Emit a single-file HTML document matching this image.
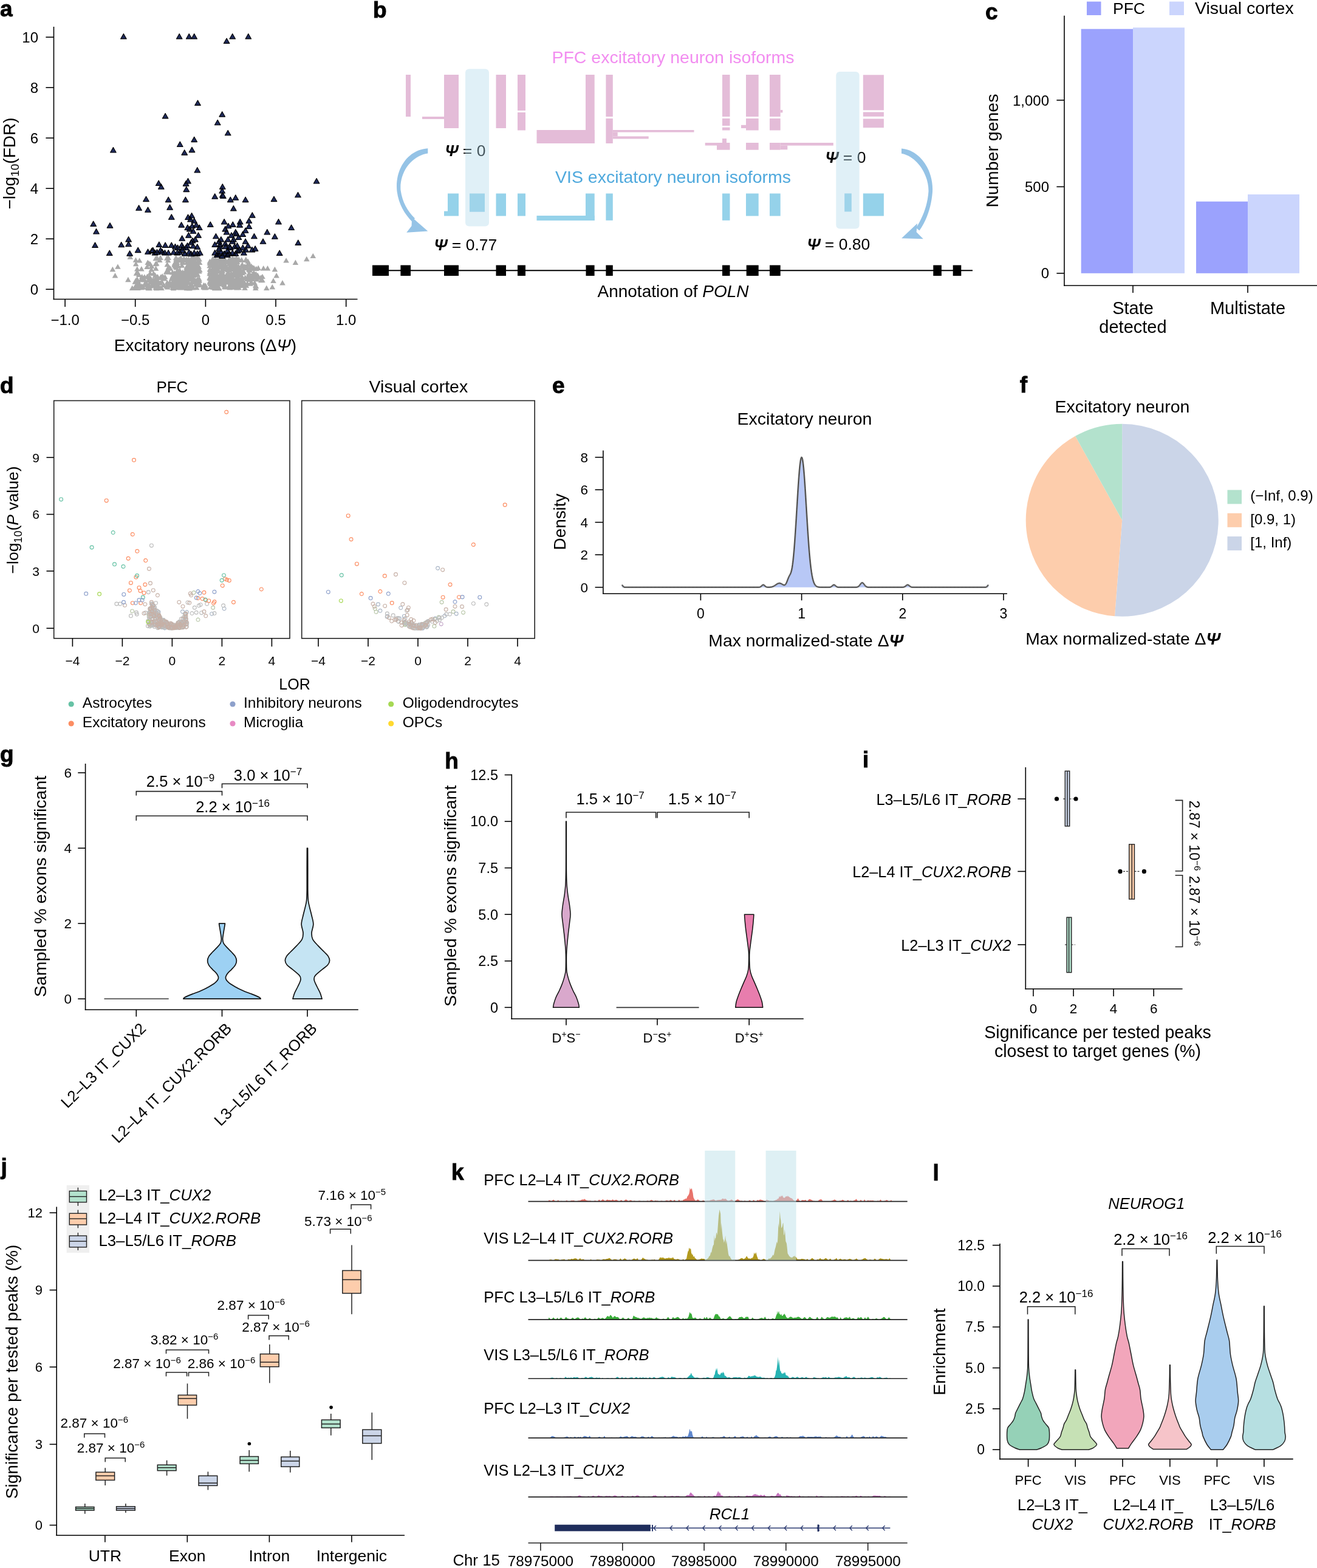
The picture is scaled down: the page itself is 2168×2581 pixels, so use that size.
<!DOCTYPE html>
<html><head><meta charset="utf-8"><title>Figure</title>
<style>
html,body{margin:0;padding:0;background:#fff;}
svg{display:block;}
text{font-family:"Liberation Sans",Arial,Helvetica,sans-serif;}
</style></head>
<body>
<svg width="2168" height="2581" viewBox="0 0 2168 2581">
<rect width="2168" height="2581" fill="#fff"/>
<text x="0.0" y="27.0" font-size="37" font-weight="bold" stroke="#000" stroke-width="0.9">a</text>
<line x1="88.5" y1="44.0" x2="88.5" y2="493.2" stroke="#000" stroke-width="1.6"/>
<line x1="87.7" y1="492.5" x2="588.5" y2="492.5" stroke="#000" stroke-width="1.6"/>
<line x1="75.4" y1="476.2" x2="88.5" y2="476.2" stroke="#000" stroke-width="1.6"/>
<text x="63.0" y="484.8" font-size="24" text-anchor="end">0</text>
<line x1="75.4" y1="393.2" x2="88.5" y2="393.2" stroke="#000" stroke-width="1.6"/>
<text x="63.0" y="401.8" font-size="24" text-anchor="end">2</text>
<line x1="75.4" y1="310.2" x2="88.5" y2="310.2" stroke="#000" stroke-width="1.6"/>
<text x="63.0" y="318.8" font-size="24" text-anchor="end">4</text>
<line x1="75.4" y1="227.2" x2="88.5" y2="227.2" stroke="#000" stroke-width="1.6"/>
<text x="63.0" y="235.8" font-size="24" text-anchor="end">6</text>
<line x1="75.4" y1="144.2" x2="88.5" y2="144.2" stroke="#000" stroke-width="1.6"/>
<text x="63.0" y="152.8" font-size="24" text-anchor="end">8</text>
<line x1="75.4" y1="61.2" x2="88.5" y2="61.2" stroke="#000" stroke-width="1.6"/>
<text x="63.0" y="69.8" font-size="24" text-anchor="end">10</text>
<line x1="107.1" y1="492.5" x2="107.1" y2="505.0" stroke="#000" stroke-width="1.6"/>
<text x="107.1" y="535.0" font-size="24" text-anchor="middle">−1.0</text>
<line x1="222.7" y1="492.5" x2="222.7" y2="505.0" stroke="#000" stroke-width="1.6"/>
<text x="222.7" y="535.0" font-size="24" text-anchor="middle">−0.5</text>
<line x1="338.4" y1="492.5" x2="338.4" y2="505.0" stroke="#000" stroke-width="1.6"/>
<text x="338.4" y="535.0" font-size="24" text-anchor="middle">0</text>
<line x1="454.0" y1="492.5" x2="454.0" y2="505.0" stroke="#000" stroke-width="1.6"/>
<text x="454.0" y="535.0" font-size="24" text-anchor="middle">0.5</text>
<line x1="569.7" y1="492.5" x2="569.7" y2="505.0" stroke="#000" stroke-width="1.6"/>
<text x="569.7" y="535.0" font-size="24" text-anchor="middle">1.0</text>
<text x="338.0" y="578.0" font-size="28" text-anchor="middle">Excitatory neurons (Δ<tspan font-style="italic">Ψ</tspan>)</text>
<text x="24.5" y="269.0" font-size="28" text-anchor="middle" transform="rotate(-90 24.5 269.0)">−log<tspan dy="6" font-size="19">10</tspan><tspan dy="-6">(FDR)</tspan></text>
<path fill="#a9a9a9" d="M243.0,468.3L247.8,476.7L238.2,476.7ZM264.3,469.5L269.1,477.9L259.5,477.9ZM256.8,461.6L261.6,470.0L252.0,470.0ZM225.8,454.9L230.6,463.3L221.0,463.3ZM224.4,458.6L229.2,467.0L219.6,467.0ZM226.5,469.3L231.3,477.7L221.7,477.7ZM249.6,433.7L254.4,442.1L244.8,442.1ZM230.0,466.5L234.8,474.9L225.2,474.9ZM262.8,423.7L267.6,432.1L258.0,432.1ZM259.5,460.3L264.3,468.7L254.7,468.7ZM285.5,469.8L290.3,478.2L280.7,478.2ZM277.8,464.5L282.6,472.9L273.0,472.9ZM231.4,468.9L236.2,477.3L226.6,477.3ZM242.1,434.6L246.9,443.0L237.3,443.0ZM233.7,450.7L238.5,459.1L228.9,459.1ZM263.5,461.3L268.3,469.7L258.7,469.7ZM257.6,469.6L262.4,478.0L252.8,478.0ZM225.9,467.0L230.7,475.4L221.1,475.4ZM266.2,458.9L271.0,467.3L261.4,467.3ZM242.4,450.5L247.2,458.9L237.6,458.9ZM251.5,464.1L256.3,472.5L246.7,472.5ZM273.6,443.2L278.4,451.6L268.8,451.6ZM237.9,451.2L242.7,459.6L233.1,459.6ZM256.1,429.8L260.9,438.2L251.3,438.2ZM269.4,464.5L274.2,472.9L264.6,472.9ZM285.7,468.9L290.5,477.3L280.9,477.3ZM249.2,439.1L254.0,447.5L244.4,447.5ZM231.9,455.9L236.7,464.3L227.1,464.3ZM224.5,445.3L229.3,453.7L219.7,453.7ZM271.7,451.2L276.5,459.6L266.9,459.6ZM278.9,463.6L283.7,472.0L274.1,472.0ZM267.2,450.0L272.0,458.4L262.4,458.4ZM259.7,457.5L264.5,465.9L254.9,465.9ZM276.6,423.9L281.4,432.3L271.8,432.3ZM252.8,445.5L257.6,453.9L248.0,453.9ZM225.9,443.0L230.7,451.4L221.1,451.4ZM264.1,419.6L268.9,428.0L259.3,428.0ZM275.4,464.6L280.2,473.0L270.6,473.0ZM247.1,445.2L251.9,453.6L242.3,453.6ZM223.5,457.3L228.3,465.7L218.7,465.7ZM232.9,468.9L237.7,477.3L228.1,477.3ZM225.8,438.2L230.6,446.6L221.0,446.6ZM230.4,465.8L235.2,474.2L225.6,474.2ZM247.4,430.2L252.2,438.6L242.6,438.6ZM227.2,457.9L232.0,466.3L222.4,466.3ZM257.7,429.2L262.5,437.6L252.9,437.6ZM275.3,430.8L280.1,439.2L270.5,439.2ZM240.1,459.5L244.9,467.9L235.3,467.9ZM245.3,429.1L250.1,437.5L240.5,437.5ZM284.3,468.3L289.1,476.7L279.5,476.7ZM233.5,466.3L238.3,474.7L228.7,474.7ZM237.2,456.1L242.0,464.5L232.4,464.5ZM260.3,465.4L265.1,473.8L255.5,473.8ZM222.3,459.3L227.1,467.7L217.5,467.7ZM246.0,451.6L250.8,460.0L241.2,460.0ZM284.0,443.8L288.8,452.2L279.2,452.2ZM255.5,448.5L260.3,456.9L250.7,456.9ZM266.0,469.7L270.8,478.1L261.2,478.1ZM280.5,437.4L285.3,445.8L275.7,445.8ZM278.8,436.0L283.6,444.4L274.0,444.4ZM247.5,460.2L252.3,468.6L242.7,468.6ZM228.7,447.5L233.5,455.9L223.9,455.9ZM226.0,469.6L230.8,478.0L221.2,478.0ZM235.6,468.0L240.4,476.4L230.8,476.4ZM244.1,469.7L248.9,478.1L239.3,478.1ZM222.0,468.3L226.8,476.7L217.2,476.7ZM228.6,461.7L233.4,470.1L223.8,470.1ZM223.7,429.9L228.5,438.3L218.9,438.3ZM261.9,468.3L266.7,476.7L257.1,476.7ZM238.4,462.4L243.2,470.8L233.6,470.8ZM245.7,468.8L250.5,477.2L240.9,477.2ZM277.2,419.6L282.0,428.0L272.4,428.0ZM252.3,456.2L257.1,464.6L247.5,464.6ZM227.6,469.1L232.4,477.5L222.8,477.5ZM244.3,465.3L249.1,473.7L239.5,473.7ZM275.9,468.0L280.7,476.4L271.1,476.4ZM223.5,423.4L228.3,431.8L218.7,431.8ZM256.3,468.4L261.1,476.8L251.5,476.8ZM257.3,469.9L262.1,478.3L252.5,478.3ZM256.3,420.9L261.1,429.3L251.5,429.3ZM278.1,443.4L282.9,451.8L273.3,451.8ZM239.0,461.6L243.8,470.0L234.2,470.0ZM232.9,438.0L237.7,446.4L228.1,446.4ZM256.6,437.4L261.4,445.8L251.8,445.8ZM243.4,466.5L248.2,474.9L238.6,474.9ZM274.7,420.3L279.5,428.7L269.9,428.7ZM277.4,435.4L282.2,443.8L272.6,443.8ZM275.2,440.3L280.0,448.7L270.4,448.7ZM236.7,454.4L241.5,462.8L231.9,462.8ZM245.1,469.9L249.9,478.3L240.3,478.3ZM241.3,464.4L246.1,472.8L236.5,472.8ZM252.2,456.1L257.0,464.5L247.4,464.5ZM285.0,461.0L289.8,469.4L280.2,469.4ZM284.0,450.2L288.8,458.6L279.2,458.6ZM284.9,462.7L289.7,471.1L280.1,471.1ZM250.4,465.4L255.2,473.8L245.6,473.8ZM249.2,465.9L254.0,474.3L244.4,474.3ZM269.3,452.0L274.1,460.4L264.5,460.4ZM279.5,460.4L284.3,468.8L274.7,468.8ZM270.7,454.0L275.5,462.4L265.9,462.4ZM244.0,456.7L248.8,465.1L239.2,465.1ZM282.8,454.3L287.6,462.7L278.0,462.7ZM275.3,460.4L280.1,468.8L270.5,468.8ZM248.4,454.2L253.2,462.6L243.6,462.6ZM255.6,453.9L260.4,462.3L250.8,462.3ZM285.7,462.0L290.5,470.4L280.9,470.4ZM258.9,451.0L263.7,459.4L254.1,459.4ZM274.1,466.6L278.9,475.0L269.3,475.0ZM246.0,466.9L250.8,475.3L241.2,475.3ZM282.5,453.8L287.3,462.2L277.7,462.2ZM246.9,453.4L251.7,461.8L242.1,461.8ZM286.1,456.8L290.9,465.2L281.3,465.2ZM256.5,459.0L261.3,467.4L251.7,467.4ZM246.2,469.7L251.0,478.1L241.4,478.1ZM285.6,457.0L290.4,465.4L280.8,465.4ZM264.7,451.3L269.5,459.7L259.9,459.7ZM260.4,452.5L265.2,460.9L255.6,460.9ZM278.8,465.7L283.6,474.1L274.0,474.1ZM251.8,464.1L256.6,472.5L247.0,472.5ZM251.3,458.2L256.1,466.6L246.5,466.6ZM252.2,461.6L257.0,470.0L247.4,470.0ZM246.2,451.8L251.0,460.2L241.4,460.2ZM256.6,460.8L261.4,469.2L251.8,469.2ZM267.4,451.9L272.2,460.3L262.6,460.3ZM259.8,451.6L264.6,460.0L255.0,460.0ZM308.1,442.8L312.9,451.2L303.3,451.2ZM309.0,469.0L313.8,477.4L304.2,477.4ZM305.5,460.6L310.3,469.0L300.7,469.0ZM287.2,429.2L292.0,437.6L282.4,437.6ZM294.2,445.8L299.0,454.2L289.4,454.2ZM317.5,441.6L322.3,450.0L312.7,450.0ZM300.7,443.5L305.5,451.9L295.9,451.9ZM310.3,430.0L315.1,438.4L305.5,438.4ZM291.5,441.4L296.3,449.8L286.7,449.8ZM297.4,455.8L302.2,464.2L292.6,464.2ZM319.4,444.1L324.2,452.5L314.6,452.5ZM310.6,431.2L315.4,439.6L305.8,439.6ZM325.3,447.4L330.1,455.8L320.5,455.8ZM312.7,444.2L317.5,452.6L307.9,452.6ZM308.5,434.6L313.3,443.0L303.7,443.0ZM306.0,442.8L310.8,451.2L301.2,451.2ZM307.1,421.9L311.9,430.3L302.3,430.3ZM316.4,425.3L321.2,433.7L311.6,433.7ZM326.6,456.7L331.4,465.1L321.8,465.1ZM310.5,421.9L315.3,430.3L305.7,430.3ZM322.3,463.0L327.1,471.4L317.5,471.4ZM292.1,447.4L296.9,455.8L287.3,455.8ZM290.0,457.7L294.8,466.1L285.2,466.1ZM290.1,435.8L294.9,444.2L285.3,444.2ZM319.9,424.2L324.7,432.6L315.1,432.6ZM293.5,433.4L298.3,441.8L288.7,441.8ZM314.7,462.7L319.5,471.1L309.9,471.1ZM324.1,420.6L328.9,429.0L319.3,429.0ZM296.2,421.4L301.0,429.8L291.4,429.8ZM303.7,445.1L308.5,453.5L298.9,453.5ZM328.6,427.5L333.4,435.9L323.8,435.9ZM293.8,448.0L298.6,456.4L289.0,456.4ZM308.7,452.7L313.5,461.1L303.9,461.1ZM295.2,453.7L300.0,462.1L290.4,462.1ZM317.3,469.0L322.1,477.4L312.5,477.4ZM310.3,447.5L315.1,455.9L305.5,455.9ZM287.8,453.1L292.6,461.5L283.0,461.5ZM313.2,443.8L318.0,452.2L308.4,452.2ZM289.7,419.7L294.5,428.1L284.9,428.1ZM320.1,420.4L324.9,428.8L315.3,428.8ZM291.4,456.4L296.2,464.8L286.6,464.8ZM288.7,430.2L293.5,438.6L283.9,438.6ZM298.4,463.4L303.2,471.8L293.6,471.8ZM304.7,423.5L309.5,431.9L299.9,431.9ZM321.4,456.8L326.2,465.2L316.6,465.2ZM293.3,423.1L298.1,431.5L288.5,431.5ZM311.0,434.2L315.8,442.6L306.2,442.6ZM290.8,467.0L295.6,475.4L286.0,475.4ZM315.9,448.3L320.7,456.7L311.1,456.7ZM290.0,422.1L294.8,430.5L285.2,430.5ZM313.6,429.1L318.4,437.5L308.8,437.5ZM290.5,426.3L295.3,434.7L285.7,434.7ZM289.8,426.0L294.6,434.4L285.0,434.4ZM306.1,452.7L310.9,461.1L301.3,461.1ZM310.2,422.7L315.0,431.1L305.4,431.1ZM298.3,463.4L303.1,471.8L293.5,471.8ZM309.1,457.8L313.9,466.2L304.3,466.2ZM291.6,461.7L296.4,470.1L286.8,470.1ZM289.1,459.7L293.9,468.1L284.3,468.1ZM300.1,454.4L304.9,462.8L295.3,462.8ZM318.9,455.2L323.7,463.6L314.1,463.6ZM308.0,460.9L312.8,469.3L303.2,469.3ZM301.6,469.0L306.4,477.4L296.8,477.4ZM297.5,469.2L302.3,477.6L292.7,477.6ZM317.8,441.9L322.6,450.3L313.0,450.3ZM295.0,445.7L299.8,454.1L290.2,454.1ZM326.3,464.5L331.1,472.9L321.5,472.9ZM321.4,447.9L326.2,456.3L316.6,456.3ZM307.8,427.4L312.6,435.8L303.0,435.8ZM303.5,444.1L308.3,452.5L298.7,452.5ZM315.9,419.9L320.7,428.3L311.1,428.3ZM301.4,427.5L306.2,435.9L296.6,435.9ZM316.7,437.5L321.5,445.9L311.9,445.9ZM304.0,452.2L308.8,460.6L299.2,460.6ZM289.3,463.3L294.1,471.7L284.5,471.7ZM290.0,432.2L294.8,440.6L285.2,440.6ZM297.7,461.6L302.5,470.0L292.9,470.0ZM290.5,427.1L295.3,435.5L285.7,435.5ZM323.6,435.8L328.4,444.2L318.8,444.2ZM298.8,457.6L303.6,466.0L294.0,466.0ZM299.3,446.5L304.1,454.9L294.5,454.9ZM293.6,447.2L298.4,455.6L288.8,455.6ZM298.1,420.9L302.9,429.3L293.3,429.3ZM327.9,442.1L332.7,450.5L323.1,450.5ZM297.3,420.7L302.1,429.1L292.5,429.1ZM300.0,451.8L304.8,460.2L295.2,460.2ZM287.0,450.5L291.8,458.9L282.2,458.9ZM306.9,444.3L311.7,452.7L302.1,452.7ZM295.4,444.2L300.2,452.6L290.6,452.6ZM287.2,456.5L292.0,464.9L282.4,464.9ZM290.8,449.6L295.6,458.0L286.0,458.0ZM288.8,468.8L293.6,477.2L284.0,477.2ZM299.8,458.1L304.6,466.5L295.0,466.5ZM311.6,443.0L316.4,451.4L306.8,451.4ZM318.5,436.4L323.3,444.8L313.7,444.8ZM317.1,425.1L321.9,433.5L312.3,433.5ZM303.4,453.3L308.2,461.7L298.6,461.7ZM328.4,462.3L333.2,470.7L323.6,470.7ZM317.4,437.2L322.2,445.6L312.6,445.6ZM288.8,427.4L293.6,435.8L284.0,435.8ZM324.5,438.0L329.3,446.4L319.7,446.4ZM317.8,428.5L322.6,436.9L313.0,436.9ZM292.9,443.2L297.7,451.6L288.1,451.6ZM308.2,427.4L313.0,435.8L303.4,435.8ZM320.8,427.8L325.6,436.2L316.0,436.2ZM311.5,424.4L316.3,432.8L306.7,432.8ZM315.7,434.6L320.5,443.0L310.9,443.0ZM296.7,468.4L301.5,476.8L291.9,476.8ZM292.6,451.6L297.4,460.0L287.8,460.0ZM291.4,427.3L296.2,435.7L286.6,435.7ZM310.5,437.9L315.3,446.3L305.7,446.3ZM313.3,435.2L318.1,443.6L308.5,443.6ZM307.6,469.8L312.4,478.2L302.8,478.2ZM320.5,431.8L325.3,440.2L315.7,440.2ZM308.1,442.7L312.9,451.1L303.3,451.1ZM314.7,466.6L319.5,475.0L309.9,475.0ZM317.9,457.1L322.7,465.5L313.1,465.5ZM290.1,456.4L294.9,464.8L285.3,464.8ZM317.6,459.5L322.4,467.9L312.8,467.9ZM318.1,420.2L322.9,428.6L313.3,428.6ZM307.7,450.4L312.5,458.8L302.9,458.8ZM307.1,435.1L311.9,443.5L302.3,443.5ZM319.2,438.5L324.0,446.9L314.4,446.9ZM314.0,466.0L318.8,474.4L309.2,474.4ZM293.2,457.0L298.0,465.4L288.4,465.4ZM318.2,454.4L323.0,462.8L313.4,462.8ZM310.8,469.3L315.6,477.7L306.0,477.7ZM289.5,456.3L294.3,464.7L284.7,464.7ZM315.2,434.7L320.0,443.1L310.4,443.1ZM315.4,455.1L320.2,463.5L310.6,463.5ZM308.7,446.3L313.5,454.7L303.9,454.7ZM306.6,463.9L311.4,472.3L301.8,472.3ZM324.5,459.8L329.3,468.2L319.7,468.2ZM328.1,422.2L332.9,430.6L323.3,430.6ZM287.7,446.6L292.5,455.0L282.9,455.0ZM321.4,420.6L326.2,429.0L316.6,429.0ZM305.9,456.3L310.7,464.7L301.1,464.7ZM295.8,421.7L300.6,430.1L291.0,430.1ZM295.8,440.3L300.6,448.7L291.0,448.7ZM293.0,443.2L297.8,451.6L288.2,451.6ZM327.0,463.2L331.8,471.6L322.2,471.6ZM321.4,444.0L326.2,452.4L316.6,452.4ZM324.2,434.1L329.0,442.5L319.4,442.5ZM296.7,424.2L301.5,432.6L291.9,432.6ZM307.4,468.7L312.2,477.1L302.6,477.1ZM287.2,444.9L292.0,453.3L282.4,453.3ZM305.9,454.6L310.7,463.0L301.1,463.0ZM292.9,452.4L297.7,460.8L288.1,460.8ZM300.3,427.1L305.1,435.5L295.5,435.5ZM287.1,431.7L291.9,440.1L282.3,440.1ZM322.2,463.8L327.0,472.2L317.4,472.2ZM325.9,433.6L330.7,442.0L321.1,442.0ZM324.9,455.2L329.7,463.6L320.1,463.6ZM302.6,449.9L307.4,458.3L297.8,458.3ZM328.9,439.9L333.7,448.3L324.1,448.3ZM302.1,448.1L306.9,456.5L297.3,456.5ZM298.6,467.5L303.4,475.9L293.8,475.9ZM291.3,427.4L296.1,435.8L286.5,435.8ZM299.0,422.2L303.8,430.6L294.2,430.6ZM297.5,456.4L302.3,464.8L292.7,464.8ZM308.5,460.3L313.3,468.7L303.7,468.7ZM302.7,421.2L307.5,429.6L297.9,429.6ZM324.1,428.5L328.9,436.9L319.3,436.9ZM313.5,423.4L318.3,431.8L308.7,431.8ZM326.5,441.9L331.3,450.3L321.7,450.3ZM317.2,467.4L322.0,475.8L312.4,475.8ZM317.8,447.0L322.6,455.4L313.0,455.4ZM318.6,437.1L323.4,445.5L313.8,445.5ZM299.0,467.5L303.8,475.9L294.2,475.9ZM325.9,463.5L330.7,471.9L321.1,471.9ZM306.8,452.4L311.6,460.8L302.0,460.8ZM299.5,432.3L304.3,440.7L294.7,440.7ZM328.0,456.7L332.8,465.1L323.2,465.1ZM314.6,454.6L319.4,463.0L309.8,463.0ZM310.4,449.8L315.2,458.2L305.6,458.2ZM294.0,461.7L298.8,470.1L289.2,470.1ZM295.7,423.8L300.5,432.2L290.9,432.2ZM307.9,458.7L312.7,467.1L303.1,467.1ZM325.1,419.1L329.9,427.5L320.3,427.5ZM305.9,462.8L310.7,471.2L301.1,471.2ZM295.1,465.3L299.9,473.7L290.3,473.7ZM301.4,465.3L306.2,473.7L296.6,473.7ZM297.0,456.8L301.8,465.2L292.2,465.2ZM310.9,424.7L315.7,433.1L306.1,433.1ZM318.5,448.9L323.3,457.3L313.7,457.3ZM304.4,443.2L309.2,451.6L299.6,451.6ZM302.8,452.7L307.6,461.1L298.0,461.1ZM289.6,455.8L294.4,464.2L284.8,464.2ZM327.6,463.5L332.4,471.9L322.8,471.9ZM308.1,437.8L312.9,446.2L303.3,446.2ZM323.2,458.9L328.0,467.3L318.4,467.3ZM298.4,457.3L303.2,465.7L293.6,465.7ZM303.8,447.2L308.6,455.6L299.0,455.6ZM327.1,426.7L331.9,435.1L322.3,435.1ZM323.7,468.8L328.5,477.2L318.9,477.2ZM288.4,433.8L293.2,442.2L283.6,442.2ZM324.6,445.8L329.4,454.2L319.8,454.2ZM311.7,470.0L316.5,478.4L306.9,478.4ZM303.4,422.7L308.2,431.1L298.6,431.1ZM321.7,426.3L326.5,434.7L316.9,434.7ZM327.8,457.3L332.6,465.7L323.0,465.7ZM291.6,462.1L296.4,470.5L286.8,470.5ZM308.9,435.2L313.7,443.6L304.1,443.6ZM326.5,433.2L331.3,441.6L321.7,441.6ZM314.2,431.0L319.0,439.4L309.4,439.4ZM306.2,441.8L311.0,450.2L301.4,450.2ZM288.7,430.1L293.5,438.5L283.9,438.5ZM296.8,423.0L301.6,431.4L292.0,431.4ZM314.1,454.5L318.9,462.9L309.3,462.9ZM292.4,457.1L297.2,465.5L287.6,465.5ZM313.7,434.3L318.5,442.7L308.9,442.7ZM291.7,466.4L296.5,474.8L286.9,474.8ZM309.0,440.2L313.8,448.6L304.2,448.6ZM303.3,458.6L308.1,467.0L298.5,467.0ZM312.2,469.4L317.0,477.8L307.4,477.8ZM299.7,446.5L304.5,454.9L294.9,454.9ZM327.3,437.1L332.1,445.5L322.5,445.5ZM324.1,445.7L328.9,454.1L319.3,454.1ZM296.9,457.4L301.7,465.8L292.1,465.8ZM327.3,434.0L332.1,442.4L322.5,442.4ZM299.9,468.8L304.7,477.2L295.1,477.2ZM307.9,435.6L312.7,444.0L303.1,444.0ZM304.6,456.8L309.4,465.2L299.8,465.2ZM315.0,422.8L319.8,431.2L310.2,431.2ZM296.5,468.2L301.3,476.6L291.7,476.6ZM301.2,448.5L306.0,456.9L296.4,456.9ZM315.7,459.9L320.5,468.3L310.9,468.3ZM320.5,432.3L325.3,440.7L315.7,440.7ZM308.2,459.5L313.0,467.9L303.4,467.9ZM327.7,454.1L332.5,462.5L322.9,462.5ZM338.9,468.8L343.7,477.2L334.1,477.2ZM335.3,466.2L340.1,474.6L330.5,474.6ZM335.8,465.2L340.6,473.6L331.0,473.6ZM337.0,469.0L341.8,477.4L332.2,477.4ZM335.3,467.9L340.1,476.3L330.5,476.3ZM338.0,465.2L342.8,473.6L333.2,473.6ZM334.9,468.0L339.7,476.4L330.1,476.4ZM335.3,465.1L340.1,473.5L330.5,473.5ZM352.2,467.4L357.0,475.8L347.4,475.8ZM348.1,450.7L352.9,459.1L343.3,459.1ZM390.8,426.7L395.6,435.1L386.0,435.1ZM382.4,421.1L387.2,429.5L377.6,429.5ZM392.5,453.8L397.3,462.2L387.7,462.2ZM354.5,424.1L359.3,432.5L349.7,432.5ZM383.1,468.4L387.9,476.8L378.3,476.8ZM378.9,451.4L383.7,459.8L374.1,459.8ZM364.1,453.7L368.9,462.1L359.3,462.1ZM353.6,469.8L358.4,478.2L348.8,478.2ZM359.3,452.7L364.1,461.1L354.5,461.1ZM393.7,463.9L398.5,472.3L388.9,472.3ZM394.2,459.8L399.0,468.2L389.4,468.2ZM363.2,429.7L368.0,438.1L358.4,438.1ZM386.9,448.8L391.7,457.2L382.1,457.2ZM347.5,446.8L352.3,455.2L342.7,455.2ZM364.0,424.9L368.8,433.3L359.2,433.3ZM354.8,452.1L359.6,460.5L350.0,460.5ZM390.7,468.5L395.5,476.9L385.9,476.9ZM366.0,430.2L370.8,438.6L361.2,438.6ZM384.1,468.0L388.9,476.4L379.3,476.4ZM346.8,466.9L351.6,475.3L342.0,475.3ZM391.9,457.4L396.7,465.8L387.1,465.8ZM383.1,425.9L387.9,434.3L378.3,434.3ZM362.3,456.6L367.1,465.0L357.5,465.0ZM393.8,439.7L398.6,448.1L389.0,448.1ZM358.4,434.8L363.2,443.2L353.6,443.2ZM361.1,456.5L365.9,464.9L356.3,464.9ZM345.2,432.9L350.0,441.3L340.4,441.3ZM391.7,438.9L396.5,447.3L386.9,447.3ZM393.1,468.8L397.9,477.2L388.3,477.2ZM356.9,446.7L361.7,455.1L352.1,455.1ZM393.8,423.2L398.6,431.6L389.0,431.6ZM364.7,457.7L369.5,466.1L359.9,466.1ZM366.9,445.8L371.7,454.2L362.1,454.2ZM392.3,461.0L397.1,469.4L387.5,469.4ZM385.9,433.8L390.7,442.2L381.1,442.2ZM387.0,432.1L391.8,440.5L382.2,440.5ZM376.0,453.9L380.8,462.3L371.2,462.3ZM361.3,452.2L366.1,460.6L356.5,460.6ZM384.9,466.1L389.7,474.5L380.1,474.5ZM355.1,433.1L359.9,441.5L350.3,441.5ZM357.6,466.8L362.4,475.2L352.8,475.2ZM346.7,442.9L351.5,451.3L341.9,451.3ZM361.6,421.9L366.4,430.3L356.8,430.3ZM390.1,421.6L394.9,430.0L385.3,430.0ZM358.5,465.8L363.3,474.2L353.7,474.2ZM349.9,445.5L354.7,453.9L345.1,453.9ZM381.2,448.1L386.0,456.5L376.4,456.5ZM356.9,449.5L361.7,457.9L352.1,457.9ZM376.6,436.9L381.4,445.3L371.8,445.3ZM383.1,428.5L387.9,436.9L378.3,436.9ZM378.9,464.0L383.7,472.4L374.1,472.4ZM387.9,455.6L392.7,464.0L383.1,464.0ZM373.9,451.7L378.7,460.1L369.1,460.1ZM382.6,460.2L387.4,468.6L377.8,468.6ZM357.6,457.9L362.4,466.3L352.8,466.3ZM352.8,426.6L357.6,435.0L348.0,435.0ZM374.5,454.0L379.3,462.4L369.7,462.4ZM365.2,421.3L370.0,429.7L360.4,429.7ZM370.9,458.6L375.7,467.0L366.1,467.0ZM386.2,437.9L391.0,446.3L381.4,446.3ZM395.5,464.9L400.3,473.3L390.7,473.3ZM369.2,429.8L374.0,438.2L364.4,438.2ZM387.9,425.2L392.7,433.6L383.1,433.6ZM347.1,455.6L351.9,464.0L342.3,464.0ZM351.1,460.7L355.9,469.1L346.3,469.1ZM394.6,441.4L399.4,449.8L389.8,449.8ZM392.4,451.7L397.2,460.1L387.6,460.1ZM389.2,448.0L394.0,456.4L384.4,456.4ZM358.3,431.8L363.1,440.2L353.5,440.2ZM393.2,464.8L398.0,473.2L388.4,473.2ZM375.4,439.6L380.2,448.0L370.6,448.0ZM356.1,451.9L360.9,460.3L351.3,460.3ZM352.2,460.0L357.0,468.4L347.4,468.4ZM358.0,440.6L362.8,449.0L353.2,449.0ZM378.2,460.0L383.0,468.4L373.4,468.4ZM345.6,453.9L350.4,462.3L340.8,462.3ZM379.6,460.9L384.4,469.3L374.8,469.3ZM360.9,460.0L365.7,468.4L356.1,468.4ZM385.6,443.1L390.4,451.5L380.8,451.5ZM348.2,465.0L353.0,473.4L343.4,473.4ZM365.2,443.0L370.0,451.4L360.4,451.4ZM377.6,465.5L382.4,473.9L372.8,473.9ZM353.3,435.9L358.1,444.3L348.5,444.3ZM365.9,456.1L370.7,464.5L361.1,464.5ZM360.7,423.3L365.5,431.7L355.9,431.7ZM360.9,442.2L365.7,450.6L356.1,450.6ZM363.2,449.6L368.0,458.0L358.4,458.0ZM389.1,421.1L393.9,429.5L384.3,429.5ZM363.6,460.3L368.4,468.7L358.8,468.7ZM382.1,460.0L386.9,468.4L377.3,468.4ZM345.3,425.8L350.1,434.2L340.5,434.2ZM366.6,429.8L371.4,438.2L361.8,438.2ZM365.7,426.7L370.5,435.1L360.9,435.1ZM368.5,462.0L373.3,470.4L363.7,470.4ZM345.8,442.9L350.6,451.3L341.0,451.3ZM377.7,425.4L382.5,433.8L372.9,433.8ZM349.5,439.5L354.3,447.9L344.7,447.9ZM363.9,445.2L368.7,453.6L359.1,453.6ZM352.4,456.1L357.2,464.5L347.6,464.5ZM371.6,424.6L376.4,433.0L366.8,433.0ZM350.5,445.9L355.3,454.3L345.7,454.3ZM386.0,422.6L390.8,431.0L381.2,431.0ZM355.1,463.8L359.9,472.2L350.3,472.2ZM393.1,422.2L397.9,430.6L388.3,430.6ZM369.6,467.3L374.4,475.7L364.8,475.7ZM392.2,451.0L397.0,459.4L387.4,459.4ZM391.1,439.6L395.9,448.0L386.3,448.0ZM387.1,462.1L391.9,470.5L382.3,470.5ZM385.1,459.1L389.9,467.5L380.3,467.5ZM365.6,428.5L370.4,436.9L360.8,436.9ZM387.3,461.0L392.1,469.4L382.5,469.4ZM356.1,450.4L360.9,458.8L351.3,458.8ZM371.4,451.2L376.2,459.6L366.6,459.6ZM351.3,457.9L356.1,466.3L346.5,466.3ZM382.0,426.0L386.8,434.4L377.2,434.4ZM347.1,442.4L351.9,450.8L342.3,450.8ZM383.6,468.1L388.4,476.5L378.8,476.5ZM387.7,464.2L392.5,472.6L382.9,472.6ZM375.6,443.0L380.4,451.4L370.8,451.4ZM377.0,455.0L381.8,463.4L372.2,463.4ZM366.4,441.4L371.2,449.8L361.6,449.8ZM366.7,437.7L371.5,446.1L361.9,446.1ZM367.8,448.5L372.6,456.9L363.0,456.9ZM346.2,439.6L351.0,448.0L341.4,448.0ZM370.0,458.4L374.8,466.8L365.2,466.8ZM383.9,431.7L388.7,440.1L379.1,440.1ZM368.4,461.2L373.2,469.6L363.6,469.6ZM369.1,464.7L373.9,473.1L364.3,473.1ZM351.6,448.9L356.4,457.3L346.8,457.3ZM349.7,448.3L354.5,456.7L344.9,456.7ZM371.0,468.0L375.8,476.4L366.2,476.4ZM377.5,465.9L382.3,474.3L372.7,474.3ZM382.4,431.9L387.2,440.3L377.6,440.3ZM371.1,467.3L375.9,475.7L366.3,475.7ZM370.7,451.4L375.5,459.8L365.9,459.8ZM393.5,463.3L398.3,471.7L388.7,471.7ZM388.7,421.1L393.5,429.5L383.9,429.5ZM382.3,430.0L387.1,438.4L377.5,438.4ZM354.9,421.9L359.7,430.3L350.1,430.3ZM370.1,423.1L374.9,431.5L365.3,431.5ZM391.7,461.9L396.5,470.3L386.9,470.3ZM385.2,424.4L390.0,432.8L380.4,432.8ZM348.3,452.8L353.1,461.2L343.5,461.2ZM383.6,462.2L388.4,470.6L378.8,470.6ZM390.7,456.5L395.5,464.9L385.9,464.9ZM386.6,462.9L391.4,471.3L381.8,471.3ZM370.6,424.9L375.4,433.3L365.8,433.3ZM355.6,457.1L360.4,465.5L350.8,465.5ZM370.8,454.3L375.6,462.7L366.0,462.7ZM346.9,461.0L351.7,469.4L342.1,469.4ZM353.2,424.1L358.0,432.5L348.4,432.5ZM379.7,426.1L384.5,434.5L374.9,434.5ZM353.6,431.5L358.4,439.9L348.8,439.9ZM350.9,444.0L355.7,452.4L346.1,452.4ZM377.5,452.3L382.3,460.7L372.7,460.7ZM389.5,442.8L394.3,451.2L384.7,451.2ZM374.6,426.7L379.4,435.1L369.8,435.1ZM350.3,421.3L355.1,429.7L345.5,429.7ZM377.1,450.6L381.9,459.0L372.3,459.0ZM385.7,457.0L390.5,465.4L380.9,465.4ZM395.5,441.7L400.3,450.1L390.7,450.1ZM363.4,432.5L368.2,440.9L358.6,440.9ZM367.6,461.3L372.4,469.7L362.8,469.7ZM382.9,467.6L387.7,476.0L378.1,476.0ZM386.8,457.5L391.6,465.9L382.0,465.9ZM377.6,421.7L382.4,430.1L372.8,430.1ZM374.9,437.4L379.7,445.8L370.1,445.8ZM360.9,469.9L365.7,478.3L356.1,478.3ZM346.7,462.6L351.5,471.0L341.9,471.0ZM376.4,448.8L381.2,457.2L371.6,457.2ZM371.1,426.1L375.9,434.5L366.3,434.5ZM351.7,458.8L356.5,467.2L346.9,467.2ZM378.3,468.9L383.1,477.3L373.5,477.3ZM345.1,452.6L349.9,461.0L340.3,461.0ZM350.4,452.5L355.2,460.9L345.6,460.9ZM356.4,441.4L361.2,449.8L351.6,449.8ZM375.0,460.0L379.8,468.4L370.2,468.4ZM376.8,446.7L381.6,455.1L372.0,455.1ZM351.9,424.1L356.7,432.5L347.1,432.5ZM357.4,462.6L362.2,471.0L352.6,471.0ZM349.9,438.7L354.7,447.1L345.1,447.1ZM389.4,431.6L394.2,440.0L384.6,440.0ZM365.5,457.0L370.3,465.4L360.7,465.4ZM345.6,438.4L350.4,446.8L340.8,446.8ZM373.7,452.8L378.5,461.2L368.9,461.2ZM377.9,448.2L382.7,456.6L373.1,456.6ZM392.8,434.0L397.6,442.4L388.0,442.4ZM357.7,425.7L362.5,434.1L352.9,434.1ZM347.2,443.9L352.0,452.3L342.4,452.3ZM365.7,458.3L370.5,466.7L360.9,466.7ZM348.0,431.8L352.8,440.2L343.2,440.2ZM345.6,443.0L350.4,451.4L340.8,451.4ZM393.0,463.0L397.8,471.4L388.2,471.4ZM355.2,440.2L360.0,448.6L350.4,448.6ZM370.9,438.5L375.7,446.9L366.1,446.9ZM386.5,461.4L391.3,469.8L381.7,469.8ZM360.8,455.2L365.6,463.6L356.0,463.6ZM347.5,426.4L352.3,434.8L342.7,434.8ZM384.9,434.9L389.7,443.3L380.1,443.3ZM345.3,428.6L350.1,437.0L340.5,437.0ZM383.0,447.2L387.8,455.6L378.2,455.6ZM382.8,447.8L387.6,456.2L378.0,456.2ZM356.5,464.8L361.3,473.2L351.7,473.2ZM356.8,468.1L361.6,476.5L352.0,476.5ZM362.1,433.2L366.9,441.6L357.3,441.6ZM380.5,428.5L385.3,436.9L375.7,436.9ZM381.3,456.9L386.1,465.3L376.5,465.3ZM373.2,448.6L378.0,457.0L368.4,457.0ZM385.2,444.3L390.0,452.7L380.4,452.7ZM358.5,438.5L363.3,446.9L353.7,446.9ZM394.2,459.3L399.0,467.7L389.4,467.7ZM389.9,469.2L394.7,477.6L385.1,477.6ZM358.3,458.4L363.1,466.8L353.5,466.8ZM382.9,423.7L387.7,432.1L378.1,432.1ZM383.1,453.9L387.9,462.3L378.3,462.3ZM389.9,453.9L394.7,462.3L385.1,462.3ZM357.2,425.5L362.0,433.9L352.4,433.9ZM377.2,436.0L382.0,444.4L372.4,444.4ZM378.9,422.0L383.7,430.4L374.1,430.4ZM368.9,428.8L373.7,437.2L364.1,437.2ZM380.6,427.9L385.4,436.3L375.8,436.3ZM367.3,434.5L372.1,442.9L362.5,442.9ZM374.1,454.9L378.9,463.3L369.3,463.3ZM355.8,439.5L360.6,447.9L351.0,447.9ZM349.0,425.3L353.8,433.7L344.2,433.7ZM352.4,468.6L357.2,477.0L347.6,477.0ZM350.4,424.4L355.2,432.8L345.6,432.8ZM362.6,463.0L367.4,471.4L357.8,471.4ZM346.5,467.9L351.3,476.3L341.7,476.3ZM380.3,438.9L385.1,447.3L375.5,447.3ZM380.5,433.9L385.3,442.3L375.7,442.3ZM348.4,441.0L353.2,449.4L343.6,449.4ZM363.5,429.9L368.3,438.3L358.7,438.3ZM386.8,426.3L391.6,434.7L382.0,434.7ZM348.4,427.4L353.2,435.8L343.6,435.8ZM391.6,423.7L396.4,432.1L386.8,432.1ZM350.5,459.9L355.3,468.3L345.7,468.3ZM350.7,468.3L355.5,476.7L345.9,476.7ZM388.2,430.2L393.0,438.6L383.4,438.6ZM377.3,429.5L382.1,437.9L372.5,437.9ZM377.2,455.9L382.0,464.3L372.4,464.3ZM350.1,465.2L354.9,473.6L345.3,473.6ZM383.6,459.9L388.4,468.3L378.8,468.3ZM361.3,449.2L366.1,457.6L356.5,457.6ZM346.1,457.4L350.9,465.8L341.3,465.8ZM359.4,434.9L364.2,443.3L354.6,443.3ZM363.8,454.2L368.6,462.6L359.0,462.6ZM394.2,445.3L399.0,453.7L389.4,453.7ZM388.4,439.7L393.2,448.1L383.6,448.1ZM346.6,449.7L351.4,458.1L341.8,458.1ZM367.3,432.1L372.1,440.5L362.5,440.5ZM362.7,435.4L367.5,443.8L357.9,443.8ZM372.4,459.3L377.2,467.7L367.6,467.7ZM389.0,465.5L393.8,473.9L384.2,473.9ZM386.8,461.6L391.6,470.0L382.0,470.0ZM345.1,460.1L349.9,468.5L340.3,468.5ZM383.9,422.0L388.7,430.4L379.1,430.4ZM345.2,445.9L350.0,454.3L340.4,454.3ZM370.1,430.9L374.9,439.3L365.3,439.3ZM354.4,445.7L359.2,454.1L349.6,454.1ZM362.7,429.2L367.5,437.6L357.9,437.6ZM358.3,423.7L363.1,432.1L353.5,432.1ZM359.5,459.4L364.3,467.8L354.7,467.8ZM380.7,445.5L385.5,453.9L375.9,453.9ZM350.6,438.8L355.4,447.2L345.8,447.2ZM349.1,431.4L353.9,439.8L344.3,439.8ZM380.6,431.4L385.4,439.8L375.8,439.8ZM377.0,452.5L381.8,460.9L372.2,460.9ZM365.5,450.6L370.3,459.0L360.7,459.0ZM390.4,465.7L395.2,474.1L385.6,474.1ZM390.3,468.7L395.1,477.1L385.5,477.1ZM355.5,457.1L360.3,465.5L350.7,465.5ZM391.0,445.4L395.8,453.8L386.2,453.8ZM364.3,426.6L369.1,435.0L359.5,435.0ZM356.9,447.4L361.7,455.8L352.1,455.8ZM372.1,433.0L376.9,441.4L367.3,441.4ZM383.4,438.3L388.2,446.7L378.6,446.7ZM362.8,454.0L367.6,462.4L358.0,462.4ZM398.8,430.7L403.6,439.1L394.0,439.1ZM407.9,436.7L412.7,445.1L403.1,445.1ZM399.1,453.2L403.9,461.6L394.3,461.6ZM409.9,445.9L414.7,454.3L405.1,454.3ZM398.3,452.0L403.1,460.4L393.5,460.4ZM411.9,462.4L416.7,470.8L407.1,470.8ZM399.4,459.6L404.2,468.0L394.6,468.0ZM408.7,430.7L413.5,439.1L403.9,439.1ZM398.8,465.6L403.6,474.0L394.0,474.0ZM400.5,458.5L405.3,466.9L395.7,466.9ZM405.4,465.4L410.2,473.8L400.6,473.8ZM401.9,464.3L406.7,472.7L397.1,472.7ZM413.6,437.5L418.4,445.9L408.8,445.9ZM397.8,423.3L402.6,431.7L393.0,431.7ZM397.8,455.8L402.6,464.2L393.0,464.2ZM413.7,433.6L418.5,442.0L408.9,442.0ZM409.2,453.4L414.0,461.8L404.4,461.8ZM399.5,442.6L404.3,451.0L394.7,451.0ZM397.9,463.7L402.7,472.1L393.1,472.1ZM403.0,469.4L407.8,477.8L398.2,477.8ZM403.2,433.8L408.0,442.2L398.4,442.2ZM408.5,450.0L413.3,458.4L403.7,458.4ZM407.4,451.9L412.2,460.3L402.6,460.3ZM398.6,444.5L403.4,452.9L393.8,452.9ZM403.3,436.8L408.1,445.2L398.5,445.2ZM412.3,453.6L417.1,462.0L407.5,462.0ZM406.3,436.3L411.1,444.7L401.5,444.7ZM403.6,462.8L408.4,471.2L398.8,471.2ZM409.0,428.5L413.8,436.9L404.2,436.9ZM409.9,439.1L414.7,447.5L405.1,447.5ZM411.3,440.3L416.1,448.7L406.5,448.7ZM407.5,452.4L412.3,460.8L402.7,460.8ZM401.6,443.2L406.4,451.6L396.8,451.6ZM397.8,454.1L402.6,462.5L393.0,462.5ZM410.1,438.4L414.9,446.8L405.3,446.8ZM407.3,461.9L412.1,470.3L402.5,470.3ZM403.6,452.3L408.4,460.7L398.8,460.7ZM407.2,454.6L412.0,463.0L402.4,463.0ZM408.2,425.4L413.0,433.8L403.4,433.8ZM399.3,441.7L404.1,450.1L394.5,450.1ZM410.0,455.6L414.8,464.0L405.2,464.0ZM404.8,422.6L409.6,431.0L400.0,431.0ZM396.7,447.8L401.5,456.2L391.9,456.2ZM398.9,434.4L403.7,442.8L394.1,442.8ZM412.9,449.1L417.7,457.5L408.1,457.5ZM415.9,454.7L420.7,463.1L411.1,463.1ZM424.3,448.7L429.1,457.1L419.5,457.1ZM423.7,452.1L428.5,460.5L418.9,460.5ZM429.8,456.8L434.6,465.2L425.0,465.2ZM421.8,437.7L426.6,446.1L417.0,446.1ZM418.0,450.1L422.8,458.5L413.2,458.5ZM421.5,446.6L426.3,455.0L416.7,455.0ZM416.3,435.8L421.1,444.2L411.5,444.2ZM420.8,469.5L425.6,477.9L416.0,477.9ZM419.2,461.1L424.0,469.5L414.4,469.5ZM414.3,460.5L419.1,468.9L409.5,468.9ZM422.0,449.5L426.8,457.9L417.2,457.9ZM420.7,465.2L425.5,473.6L415.9,473.6ZM418.3,447.6L423.1,456.0L413.5,456.0ZM431.9,456.6L436.7,465.0L427.1,465.0ZM418.2,444.8L423.0,453.2L413.4,453.2ZM421.4,466.5L426.2,474.9L416.6,474.9ZM416.5,446.0L421.3,454.4L411.7,454.4ZM429.4,452.3L434.2,460.7L424.6,460.7ZM422.9,455.2L427.7,463.6L418.1,463.6ZM418.3,436.8L423.1,445.2L413.5,445.2ZM420.7,452.1L425.5,460.5L415.9,460.5ZM185.4,438.8L190.2,447.2L180.6,447.2ZM189.5,449.0L194.3,457.4L184.7,457.4ZM193.9,434.4L198.7,442.8L189.1,442.8ZM210.9,455.8L215.7,464.2L206.1,464.2ZM471.1,424.2L475.9,432.6L466.3,432.6ZM486.4,427.6L491.2,436.0L481.6,436.0ZM504.8,421.8L509.6,430.2L500.0,430.2ZM515.3,416.7L520.1,425.1L510.5,425.1ZM465.0,461.0L469.8,469.4L460.2,469.4ZM452.4,438.8L457.2,447.2L447.6,447.2ZM455.1,449.0L459.9,457.4L450.3,457.4ZM450.0,457.6L454.8,466.0L445.2,466.0ZM432.0,450.7L436.8,459.1L427.2,459.1ZM425.2,436.5L430.0,444.9L420.4,444.9ZM433.7,437.1L438.5,445.5L428.9,445.5ZM440.5,437.1L445.3,445.5L435.7,445.5ZM420.1,449.0L424.9,457.4L415.3,457.4ZM438.8,469.5L443.6,477.9L434.0,477.9ZM448.3,467.8L453.1,476.2L443.5,476.2ZM214.3,418.4L219.1,426.8L209.5,426.8ZM229.6,424.2L234.4,432.6L224.8,432.6ZM243.2,427.6L248.0,436.0L238.4,436.0ZM258.5,420.1L263.3,428.5L253.7,428.5ZM404.8,423.5L409.6,431.9L400.0,431.9ZM408.2,430.3L413.0,438.7L403.4,438.7ZM394.6,437.1L399.4,445.5L389.8,445.5ZM217.7,469.5L222.5,477.9L212.9,477.9ZM224.5,464.4L229.3,472.8L219.7,472.8Z"/>
<path fill="#1f2a5a" stroke="#000" stroke-width="1.1" stroke-linejoin="round" d="M203.4,55.5L208.2,63.9L198.6,63.9ZM295.2,55.5L300.0,63.9L290.4,63.9ZM311.2,55.5L316.0,63.9L306.4,63.9ZM319.7,55.5L324.5,63.9L314.9,63.9ZM373.1,63.0L377.9,71.4L368.3,71.4ZM382.7,55.5L387.5,63.9L377.9,63.9ZM408.8,55.5L413.6,63.9L404.0,63.9ZM325.5,165.0L330.3,173.4L320.7,173.4ZM272.1,186.5L276.9,194.9L267.3,194.9ZM365.7,183.7L370.5,192.1L360.9,192.1ZM358.2,197.3L363.0,205.7L353.4,205.7ZM375.2,214.4L380.0,222.8L370.4,222.8ZM319.7,225.2L324.5,233.6L314.9,233.6ZM296.3,233.1L301.1,241.5L291.5,241.5ZM316.0,242.2L320.8,250.6L311.2,250.6ZM303.7,246.7L308.5,255.1L298.9,255.1ZM186.4,242.6L191.2,251.0L181.6,251.0ZM324.8,275.6L329.6,284.0L320.0,284.0ZM521.1,293.6L525.9,302.0L516.3,302.0ZM261.2,297.0L266.0,305.4L256.4,305.4ZM265.3,302.8L270.1,311.2L260.5,311.2ZM309.5,293.6L314.3,302.0L304.7,302.0ZM306.1,297.7L310.9,306.1L301.3,306.1ZM306.8,307.2L311.6,315.6L302.0,315.6ZM366.3,302.8L371.1,311.2L361.5,311.2ZM365.7,309.6L370.5,318.0L360.9,318.0ZM366.3,316.4L371.1,324.8L361.5,324.8ZM353.7,318.8L358.5,327.2L348.9,327.2ZM367.4,318.1L372.2,326.5L362.6,326.5ZM490.5,316.4L495.3,324.8L485.7,324.8ZM240.5,323.2L245.3,331.6L235.7,331.6ZM277.2,324.2L282.0,332.6L272.4,332.6ZM305.4,324.2L310.2,332.6L300.6,332.6ZM379.3,324.2L384.1,332.6L374.5,332.6ZM387.8,320.8L392.6,329.2L383.0,329.2ZM404.1,324.2L408.9,332.6L399.3,332.6ZM451.0,323.2L455.8,331.6L446.2,331.6ZM228.6,337.8L233.4,346.2L223.8,346.2ZM243.5,340.9L248.3,349.3L238.7,349.3ZM279.6,336.8L284.4,345.2L274.8,345.2ZM384.4,338.5L389.2,346.9L379.6,346.9ZM282.3,352.8L287.1,361.2L277.5,361.2ZM309.5,353.1L314.3,361.5L304.7,361.5ZM315.6,350.4L320.4,358.8L310.8,358.8ZM415.3,349.7L420.1,358.1L410.5,358.1ZM313.6,356.5L318.4,364.9L308.8,364.9ZM153.7,364.0L158.5,372.4L148.9,372.4ZM181.0,366.7L185.8,375.1L176.2,375.1ZM346.3,365.0L351.1,373.4L341.5,373.4ZM298.6,365.7L303.4,374.1L293.8,374.1ZM319.7,358.9L324.5,367.3L314.9,367.3ZM323.1,365.7L327.9,374.1L318.3,374.1ZM395.2,360.6L400.0,369.0L390.4,369.0ZM409.9,358.9L414.7,367.3L405.1,367.3ZM458.5,360.6L463.3,369.0L453.7,369.0ZM383.3,365.0L388.1,373.4L378.5,373.4ZM394.6,365.7L399.4,374.1L389.8,374.1ZM158.5,376.6L163.3,385.0L153.7,385.0ZM308.8,370.1L313.6,378.5L304.0,378.5ZM328.2,370.1L333.0,378.5L323.4,378.5ZM479.6,370.1L484.4,378.5L474.8,378.5ZM439.8,377.6L444.6,386.0L435.0,386.0ZM370.8,372.5L375.6,380.9L366.0,380.9ZM373.1,377.6L377.9,386.0L368.3,386.0ZM409.9,368.1L414.7,376.5L405.1,376.5ZM404.1,374.9L408.9,383.3L399.3,383.3ZM387.8,377.6L392.6,386.0L383.0,386.0ZM389.5,380.0L394.3,388.4L384.7,388.4ZM211.6,389.5L216.4,397.9L206.8,397.9ZM299.7,387.8L304.5,396.2L294.9,396.2ZM310.5,382.7L315.3,391.1L305.7,391.1ZM452.4,384.8L457.2,393.2L447.6,393.2ZM418.4,384.4L423.2,392.8L413.6,392.8ZM355.4,384.4L360.2,392.8L350.6,392.8ZM363.9,389.5L368.7,397.9L359.1,397.9ZM375.2,389.5L380.0,397.9L370.4,397.9ZM382.7,392.9L387.5,401.3L377.9,401.3ZM384.4,389.5L389.2,397.9L379.6,397.9ZM156.5,399.0L161.3,407.4L151.7,407.4ZM199.7,398.4L204.5,406.8L194.9,406.8ZM211.6,397.3L216.4,405.7L206.8,405.7ZM433.0,392.9L437.8,401.3L428.2,401.3ZM490.8,395.0L495.6,403.4L486.0,403.4ZM404.1,392.9L408.9,401.3L399.3,401.3ZM317.0,391.6L321.8,400.0L312.2,400.0ZM261.9,398.0L266.7,406.4L257.1,406.4ZM272.1,399.0L276.9,407.4L267.3,407.4ZM282.3,399.0L287.1,407.4L277.5,407.4ZM288.4,401.4L293.2,409.8L283.6,409.8ZM299.3,399.0L304.1,407.4L294.5,407.4ZM308.5,399.7L313.3,408.1L303.7,408.1ZM318.0,400.4L322.8,408.8L313.2,408.8ZM324.8,401.8L329.6,410.2L320.0,410.2ZM180.3,412.0L185.1,420.4L175.5,420.4ZM213.6,412.7L218.4,421.1L208.8,421.1ZM227.2,407.2L232.0,415.6L222.4,415.6ZM243.5,409.9L248.3,418.3L238.7,418.3ZM251.7,407.2L256.5,415.6L246.9,415.6ZM258.5,410.6L263.3,419.0L253.7,419.0ZM264.3,407.2L269.1,415.6L259.5,415.6ZM271.4,411.6L276.2,420.0L266.6,420.0ZM285.7,410.6L290.5,419.0L280.9,419.0ZM291.8,411.6L296.6,420.0L287.0,420.0ZM300.0,407.5L304.8,415.9L295.2,415.9ZM311.2,410.6L316.0,419.0L306.4,419.0ZM319.7,411.6L324.5,420.0L314.9,420.0ZM329.3,411.6L334.1,420.0L324.5,420.0ZM353.7,411.6L358.5,420.0L348.9,420.0ZM363.9,409.9L368.7,418.3L359.1,418.3ZM374.2,408.2L379.0,416.6L369.4,416.6ZM382.7,411.6L387.5,420.0L377.9,420.0ZM394.6,406.5L399.4,414.9L389.8,414.9ZM404.8,406.5L409.6,414.9L400.0,414.9ZM415.0,406.5L419.8,414.9L410.2,414.9ZM460.2,412.0L465.0,420.4L455.4,420.4ZM353.7,398.0L358.5,406.4L348.9,406.4ZM362.2,398.0L367.0,406.4L357.4,406.4ZM371.4,401.4L376.2,409.8L366.6,409.8ZM377.6,401.4L382.4,409.8L372.8,409.8ZM390.5,399.7L395.3,408.1L385.7,408.1ZM250.0,408.2L254.8,416.6L245.2,416.6ZM255.1,411.6L259.9,420.0L250.3,420.0ZM267.0,409.9L271.8,418.3L262.2,418.3ZM277.2,411.6L282.0,420.0L272.4,420.0ZM295.9,410.6L300.7,419.0L291.1,419.0ZM304.4,412.7L309.2,421.1L299.6,421.1ZM314.6,413.3L319.4,421.7L309.8,421.7ZM324.8,412.7L329.6,421.1L320.0,421.1ZM358.8,412.7L363.6,421.1L354.0,421.1ZM369.1,412.7L373.9,421.1L364.3,421.1ZM377.6,412.7L382.4,421.1L372.8,421.1ZM387.8,412.7L392.6,421.1L383.0,421.1ZM391.2,408.2L396.0,416.6L386.4,416.6ZM360.5,404.8L365.3,413.2L355.7,413.2ZM379.3,403.1L384.1,411.5L374.5,411.5ZM399.7,403.1L404.5,411.5L394.9,411.5ZM408.2,399.7L413.0,408.1L403.4,408.1ZM420.1,404.8L424.9,413.2L415.3,413.2ZM306.1,403.1L310.9,411.5L301.3,411.5ZM314.6,394.6L319.4,403.0L309.8,403.0ZM321.4,389.5L326.2,397.9L316.6,397.9ZM326.5,382.7L331.3,391.1L321.7,391.1ZM360.5,392.9L365.3,401.3L355.7,401.3ZM370.8,396.3L375.6,404.7L366.0,404.7ZM392.9,386.1L397.7,394.5L388.1,394.5ZM399.7,381.0L404.5,389.4L394.9,389.4ZM381.0,382.7L385.8,391.1L376.2,391.1ZM375.9,367.4L380.7,375.8L371.1,375.8ZM369.1,360.6L373.9,369.0L364.3,369.0ZM318.0,375.9L322.8,384.3L313.2,384.3ZM312.2,372.5L317.0,380.9L307.4,380.9ZM316.3,367.4L321.1,375.8L311.5,375.8ZM301.0,403.1L305.8,411.5L296.2,411.5ZM292.5,403.1L297.3,411.5L287.7,411.5ZM362.2,401.4L367.0,409.8L357.4,409.8ZM386.1,401.4L390.9,409.8L381.3,409.8ZM401.4,411.6L406.2,420.0L396.6,420.0ZM374.2,415.0L379.0,423.4L369.4,423.4ZM365.7,416.7L370.5,425.1L360.9,425.1ZM357.1,415.0L361.9,423.4L352.3,423.4Z"/>
<text x="614.0" y="29.0" font-size="37" font-weight="bold" stroke="#000" stroke-width="0.9">b</text>
<rect x="668.0" y="123.0" width="8.0" height="69.0" fill="#e4bcd8"/>
<rect x="695.0" y="192.0" width="36.5" height="4.0" fill="#e4bcd8"/>
<rect x="731.0" y="123.0" width="24.0" height="88.0" fill="#e4bcd8"/>
<rect x="816.5" y="123.0" width="16.5" height="88.0" fill="#e4bcd8"/>
<rect x="852.0" y="123.0" width="13.0" height="59.0" fill="#e4bcd8"/>
<rect x="852.0" y="185.0" width="13.0" height="29.5" fill="#e4bcd8"/>
<rect x="883.5" y="214.0" width="95.2" height="22.0" fill="#e4bcd8"/>
<rect x="964.0" y="123.0" width="14.7" height="113.0" fill="#e4bcd8"/>
<rect x="997.4" y="123.0" width="11.4" height="69.0" fill="#e4bcd8"/>
<rect x="997.4" y="195.0" width="11.4" height="41.0" fill="#e4bcd8"/>
<rect x="1008.8" y="214.0" width="133.7" height="3.6" fill="#e4bcd8"/>
<rect x="1008.8" y="217.6" width="7.9" height="6.8" fill="#e4bcd8"/>
<rect x="1008.8" y="224.4" width="58.9" height="4.1" fill="#e4bcd8"/>
<rect x="1189.0" y="123.0" width="12.5" height="69.0" fill="#e4bcd8"/>
<rect x="1189.0" y="195.0" width="12.5" height="12.0" fill="#e4bcd8"/>
<rect x="1189.0" y="209.7" width="12.5" height="4.8" fill="#e4bcd8"/>
<rect x="1189.0" y="228.0" width="7.0" height="7.0" fill="#e4bcd8"/>
<rect x="1180.0" y="235.0" width="21.5" height="11.7" fill="#e4bcd8"/>
<rect x="1160.7" y="235.0" width="28.3" height="4.5" fill="#e4bcd8"/>
<rect x="1228.0" y="123.0" width="20.7" height="69.0" fill="#e4bcd8"/>
<rect x="1228.0" y="195.0" width="20.7" height="19.5" fill="#e4bcd8"/>
<rect x="1228.0" y="235.0" width="20.7" height="11.7" fill="#e4bcd8"/>
<rect x="1220.0" y="205.8" width="8.0" height="5.2" fill="#e4bcd8"/>
<rect x="1267.0" y="123.0" width="17.7" height="69.0" fill="#e4bcd8"/>
<rect x="1267.0" y="195.0" width="17.7" height="19.5" fill="#e4bcd8"/>
<rect x="1267.0" y="235.0" width="17.7" height="11.7" fill="#e4bcd8"/>
<rect x="1284.7" y="181.0" width="3.7" height="4.4" fill="#e4bcd8"/>
<rect x="1284.7" y="235.0" width="87.1" height="4.6" fill="#e4bcd8"/>
<rect x="1284.7" y="239.6" width="11.6" height="6.7" fill="#e4bcd8"/>
<rect x="1420.8" y="123.3" width="34.1" height="58.1" fill="#e4bcd8"/>
<rect x="1420.8" y="184.5" width="34.1" height="7.3" fill="#e4bcd8"/>
<rect x="1420.8" y="195.5" width="34.1" height="14.7" fill="#e4bcd8"/>
<rect x="731.0" y="347.6" width="6.0" height="7.9" fill="#95d2ea"/>
<rect x="737.0" y="318.5" width="18.0" height="37.0" fill="#95d2ea"/>
<rect x="773.0" y="318.5" width="25.0" height="30.2" fill="#95d2ea"/>
<rect x="816.5" y="318.5" width="16.5" height="37.0" fill="#95d2ea"/>
<rect x="852.0" y="318.5" width="13.0" height="37.0" fill="#95d2ea"/>
<rect x="883.5" y="355.0" width="95.2" height="8.0" fill="#95d2ea"/>
<rect x="964.0" y="318.5" width="14.7" height="44.5" fill="#95d2ea"/>
<rect x="997.4" y="318.5" width="11.4" height="44.3" fill="#95d2ea"/>
<rect x="1189.0" y="318.5" width="12.5" height="44.3" fill="#95d2ea"/>
<rect x="1228.0" y="318.5" width="20.7" height="37.0" fill="#95d2ea"/>
<rect x="1267.0" y="318.5" width="17.7" height="37.0" fill="#95d2ea"/>
<rect x="1390.2" y="318.4" width="11.6" height="30.0" fill="#95d2ea"/>
<rect x="1420.8" y="318.4" width="34.1" height="37.1" fill="#95d2ea"/>
<text x="1108.0" y="104.0" font-size="28.5" text-anchor="middle" fill="#f28df0">PFC excitatory neuron isoforms</text>
<text x="1108.0" y="301.0" font-size="28.5" text-anchor="middle" fill="#4fa9dd">VIS excitatory neuron isoforms</text>
<text x="732.5" y="257.0" font-size="26.5"><tspan font-weight="bold" font-style="italic">Ψ</tspan> = 0</text>
<text x="1358.5" y="267.5" font-size="26.5"><tspan font-weight="bold" font-style="italic">Ψ</tspan> = 0</text>
<text x="714.5" y="411.5" font-size="26.5"><tspan font-weight="bold" font-style="italic">Ψ</tspan> = 0.77</text>
<text x="1328.5" y="411.0" font-size="26.5"><tspan font-weight="bold" font-style="italic">Ψ</tspan> = 0.80</text>
<rect x="766" y="113.5" width="39" height="259" rx="6" fill="rgb(176,217,235)" fill-opacity="0.392"/>
<rect x="1376.3" y="118" width="38.4" height="258.5" rx="6" fill="rgb(176,217,235)" fill-opacity="0.392"/>
<path d="M704.3,244.2 C672,246 649.5,278 653.5,315 C656.5,337 666,352 678,364.5 L683,359.5 C670.5,347 662.5,333 659.5,313 C657.5,284 677,256.5 704.3,252.5 Z" fill="#95c3e6" stroke="none" stroke-width="1"/>
<polygon points="678.2,357.8 704.3,380.5 669.2,382.7 677.5,372.0" fill="#95c3e6" stroke="none" stroke-width="1"/>
<path d="M1484,244.5 C1515,247 1537,281 1535,316 C1533,342 1525,363 1513.5,379.5 L1508,375 C1518.5,359 1527,338 1528.5,315 C1529,287 1509,257 1484,252.8 Z" fill="#95c3e6" stroke="none" stroke-width="1"/>
<polygon points="1510.0,367.7 1508.6,382.0 1519.8,393.3 1484.1,392.2" fill="#95c3e6" stroke="none" stroke-width="1"/>
<line x1="613.5" y1="445.3" x2="1601.0" y2="445.3" stroke="#000" stroke-width="2"/>
<rect x="613.0" y="436.5" width="27.0" height="17.5" fill="#000"/>
<rect x="659.4" y="436.5" width="16.6" height="17.5" fill="#000"/>
<rect x="731.0" y="436.5" width="24.0" height="17.5" fill="#000"/>
<rect x="816.5" y="436.5" width="16.5" height="17.5" fill="#000"/>
<rect x="852.0" y="436.5" width="13.0" height="17.5" fill="#000"/>
<rect x="964.5" y="436.5" width="14.1" height="17.5" fill="#000"/>
<rect x="997.4" y="436.5" width="11.4" height="17.5" fill="#000"/>
<rect x="1189.0" y="436.5" width="12.5" height="17.5" fill="#000"/>
<rect x="1228.7" y="436.5" width="20.0" height="17.5" fill="#000"/>
<rect x="1267.0" y="436.5" width="17.7" height="17.5" fill="#000"/>
<rect x="1536.3" y="436.5" width="13.6" height="17.5" fill="#000"/>
<rect x="1568.7" y="436.5" width="13.6" height="17.5" fill="#000"/>
<text x="1108.0" y="488.5" font-size="28" text-anchor="middle">Annotation of <tspan font-style="italic">POLN</tspan></text>
<text x="1622.0" y="32.0" font-size="37" font-weight="bold" stroke="#000" stroke-width="0.9">c</text>
<rect x="1789.0" y="2.6" width="23.5" height="22.4" fill="#9ba2fd"/>
<text x="1832.0" y="22.5" font-size="26.5">PFC</text>
<rect x="1925.0" y="2.6" width="24.0" height="22.4" fill="#cbd5fd"/>
<text x="1967.0" y="22.5" font-size="28.5">Visual cortex</text>
<rect x="1779.7" y="47.7" width="85.3" height="402.1" fill="#9ba2fd"/>
<rect x="1865.0" y="45.4" width="85.0" height="404.4" fill="#cbd5fd"/>
<rect x="1969.0" y="331.7" width="85.0" height="118.1" fill="#9ba2fd"/>
<rect x="2054.0" y="320.0" width="85.0" height="129.8" fill="#cbd5fd"/>
<line x1="1752.0" y1="25.8" x2="1752.0" y2="470.8" stroke="#000" stroke-width="1.6"/>
<line x1="1751.2" y1="470.0" x2="2168.0" y2="470.0" stroke="#000" stroke-width="1.6"/>
<line x1="1739.4" y1="449.8" x2="1752.0" y2="449.8" stroke="#000" stroke-width="1.6"/>
<text x="1727.0" y="458.4" font-size="24" text-anchor="end">0</text>
<line x1="1739.4" y1="307.4" x2="1752.0" y2="307.4" stroke="#000" stroke-width="1.6"/>
<text x="1727.0" y="316.0" font-size="24" text-anchor="end">500</text>
<line x1="1739.4" y1="164.9" x2="1752.0" y2="164.9" stroke="#000" stroke-width="1.6"/>
<text x="1727.0" y="173.5" font-size="24" text-anchor="end">1,000</text>
<line x1="1865.0" y1="470.0" x2="1865.0" y2="482.0" stroke="#000" stroke-width="1.6"/>
<line x1="2054.0" y1="470.0" x2="2054.0" y2="482.0" stroke="#000" stroke-width="1.6"/>
<text x="1865.0" y="517.0" font-size="29" text-anchor="middle">State</text>
<text x="1865.0" y="547.5" font-size="29" text-anchor="middle">detected</text>
<text x="2054.0" y="517.0" font-size="29" text-anchor="middle">Multistate</text>
<text x="1643.0" y="248.0" font-size="28.5" text-anchor="middle" transform="rotate(-90 1643.0 248.0)">Number genes</text>
<text x="0.0" y="646.5" font-size="37" font-weight="bold" stroke="#000" stroke-width="0.9">d</text>
<rect x="88.7" y="659.5" width="388.3" height="391.3" fill="none" stroke="#222" stroke-width="1.6"/>
<text x="283.4" y="645.8" font-size="26" text-anchor="middle">PFC</text>
<rect x="496.7" y="659.5" width="383.5" height="391.3" fill="none" stroke="#222" stroke-width="1.6"/>
<text x="688.9" y="645.8" font-size="28.5" text-anchor="middle">Visual cortex</text>
<line x1="76.5" y1="753.0" x2="88.7" y2="753.0" stroke="#000" stroke-width="1.6"/>
<text x="65.0" y="760.6" font-size="21" text-anchor="end">9</text>
<line x1="76.5" y1="846.6" x2="88.7" y2="846.6" stroke="#000" stroke-width="1.6"/>
<text x="65.0" y="854.2" font-size="21" text-anchor="end">6</text>
<line x1="76.5" y1="940.0" x2="88.7" y2="940.0" stroke="#000" stroke-width="1.6"/>
<text x="65.0" y="947.6" font-size="21" text-anchor="end">3</text>
<line x1="76.5" y1="1034.2" x2="88.7" y2="1034.2" stroke="#000" stroke-width="1.6"/>
<text x="65.0" y="1041.8" font-size="21" text-anchor="end">0</text>
<line x1="119.4" y1="1050.7" x2="119.4" y2="1064.3" stroke="#000" stroke-width="1.6"/>
<text x="119.4" y="1095.0" font-size="21" text-anchor="middle">−4</text>
<line x1="201.4" y1="1050.7" x2="201.4" y2="1064.3" stroke="#000" stroke-width="1.6"/>
<text x="201.4" y="1095.0" font-size="21" text-anchor="middle">−2</text>
<line x1="283.4" y1="1050.7" x2="283.4" y2="1064.3" stroke="#000" stroke-width="1.6"/>
<text x="283.4" y="1095.0" font-size="21" text-anchor="middle">0</text>
<line x1="365.4" y1="1050.7" x2="365.4" y2="1064.3" stroke="#000" stroke-width="1.6"/>
<text x="365.4" y="1095.0" font-size="21" text-anchor="middle">2</text>
<line x1="447.4" y1="1050.7" x2="447.4" y2="1064.3" stroke="#000" stroke-width="1.6"/>
<text x="447.4" y="1095.0" font-size="21" text-anchor="middle">4</text>
<line x1="524.0" y1="1050.7" x2="524.0" y2="1064.3" stroke="#000" stroke-width="1.6"/>
<text x="524.0" y="1095.0" font-size="21" text-anchor="middle">−4</text>
<line x1="606.0" y1="1050.7" x2="606.0" y2="1064.3" stroke="#000" stroke-width="1.6"/>
<text x="606.0" y="1095.0" font-size="21" text-anchor="middle">−2</text>
<line x1="688.0" y1="1050.7" x2="688.0" y2="1064.3" stroke="#000" stroke-width="1.6"/>
<text x="688.0" y="1095.0" font-size="21" text-anchor="middle">0</text>
<line x1="770.0" y1="1050.7" x2="770.0" y2="1064.3" stroke="#000" stroke-width="1.6"/>
<text x="770.0" y="1095.0" font-size="21" text-anchor="middle">2</text>
<line x1="852.0" y1="1050.7" x2="852.0" y2="1064.3" stroke="#000" stroke-width="1.6"/>
<text x="852.0" y="1095.0" font-size="21" text-anchor="middle">4</text>
<text x="485.0" y="1134.5" font-size="25" text-anchor="middle">LOR</text>
<text x="30.0" y="856.0" font-size="26.5" text-anchor="middle" transform="rotate(-90 30.0 856.0)">−log<tspan dy="6" font-size="18">10</tspan><tspan dy="-6">(</tspan><tspan font-style="italic">P</tspan> value)</text>
<circle cx="117.2" cy="1159.0" r="4.6" fill="#66c2a5"/>
<text x="135.8" y="1165.0" font-size="24.5">Astrocytes</text>
<circle cx="117.2" cy="1191.0" r="4.6" fill="#fc8d62"/>
<text x="135.8" y="1197.0" font-size="24.5">Excitatory neurons</text>
<circle cx="383" cy="1159.0" r="4.6" fill="#8da0cb"/>
<text x="401.0" y="1165.0" font-size="24.5">Inhibitory neurons</text>
<circle cx="383" cy="1191.0" r="4.6" fill="#e78ac3"/>
<text x="401.0" y="1197.0" font-size="24.5">Microglia</text>
<circle cx="643.7" cy="1159.0" r="4.6" fill="#a6d854"/>
<text x="662.8" y="1165.0" font-size="24.5">Oligodendrocytes</text>
<circle cx="643.7" cy="1191.0" r="4.6" fill="#ffd92f"/>
<text x="662.8" y="1197.0" font-size="24.5">OPCs</text>
<path d="M242.2,1013.3a2.9,2.9 0 1,0 5.8,0a2.9,2.9 0 1,0 -5.8,0M243.9,1008.9a2.9,2.9 0 1,0 5.8,0a2.9,2.9 0 1,0 -5.8,0M245.8,1029.5a2.9,2.9 0 1,0 5.8,0a2.9,2.9 0 1,0 -5.8,0M269.8,1024.7a2.9,2.9 0 1,0 5.8,0a2.9,2.9 0 1,0 -5.8,0M263.8,1031.1a2.9,2.9 0 1,0 5.8,0a2.9,2.9 0 1,0 -5.8,0M266.1,1026.2a2.9,2.9 0 1,0 5.8,0a2.9,2.9 0 1,0 -5.8,0M269.5,1029.8a2.9,2.9 0 1,0 5.8,0a2.9,2.9 0 1,0 -5.8,0M263.8,1023.9a2.9,2.9 0 1,0 5.8,0a2.9,2.9 0 1,0 -5.8,0M267.7,1025.0a2.9,2.9 0 1,0 5.8,0a2.9,2.9 0 1,0 -5.8,0M243.4,1022.6a2.9,2.9 0 1,0 5.8,0a2.9,2.9 0 1,0 -5.8,0M248.0,1017.8a2.9,2.9 0 1,0 5.8,0a2.9,2.9 0 1,0 -5.8,0M294.3,1033.0a2.9,2.9 0 1,0 5.8,0a2.9,2.9 0 1,0 -5.8,0M301.7,1011.7a2.9,2.9 0 1,0 5.8,0a2.9,2.9 0 1,0 -5.8,0M271.0,1025.6a2.9,2.9 0 1,0 5.8,0a2.9,2.9 0 1,0 -5.8,0M287.5,1030.8a2.9,2.9 0 1,0 5.8,0a2.9,2.9 0 1,0 -5.8,0M281.1,1033.3a2.9,2.9 0 1,0 5.8,0a2.9,2.9 0 1,0 -5.8,0M269.4,1023.5a2.9,2.9 0 1,0 5.8,0a2.9,2.9 0 1,0 -5.8,0M283.4,1031.4a2.9,2.9 0 1,0 5.8,0a2.9,2.9 0 1,0 -5.8,0M275.7,1033.8a2.9,2.9 0 1,0 5.8,0a2.9,2.9 0 1,0 -5.8,0M286.9,1033.2a2.9,2.9 0 1,0 5.8,0a2.9,2.9 0 1,0 -5.8,0M281.5,1033.6a2.9,2.9 0 1,0 5.8,0a2.9,2.9 0 1,0 -5.8,0M316.0,975.6a2.9,2.9 0 1,0 5.8,0a2.9,2.9 0 1,0 -5.8,0M347.7,1000.2a2.9,2.9 0 1,0 5.8,0a2.9,2.9 0 1,0 -5.8,0M214.8,1005.9a2.9,2.9 0 1,0 5.8,0a2.9,2.9 0 1,0 -5.8,0M323.1,1020.1a2.9,2.9 0 1,0 5.8,0a2.9,2.9 0 1,0 -5.8,0M690.4,1029.0a2.9,2.9 0 1,0 5.8,0a2.9,2.9 0 1,0 -5.8,0M697.3,1025.5a2.9,2.9 0 1,0 5.8,0a2.9,2.9 0 1,0 -5.8,0M664.4,1027.0a2.9,2.9 0 1,0 5.8,0a2.9,2.9 0 1,0 -5.8,0M712.6,1019.2a2.9,2.9 0 1,0 5.8,0a2.9,2.9 0 1,0 -5.8,0M687.3,1032.8a2.9,2.9 0 1,0 5.8,0a2.9,2.9 0 1,0 -5.8,0M662.3,1024.5a2.9,2.9 0 1,0 5.8,0a2.9,2.9 0 1,0 -5.8,0M724.2,991.2a2.9,2.9 0 1,0 5.8,0a2.9,2.9 0 1,0 -5.8,0M614.3,1001.9a2.9,2.9 0 1,0 5.8,0a2.9,2.9 0 1,0 -5.8,0M616.2,1007.3a2.9,2.9 0 1,0 5.8,0a2.9,2.9 0 1,0 -5.8,0M759.7,1008.2a2.9,2.9 0 1,0 5.8,0a2.9,2.9 0 1,0 -5.8,0M743.2,1006.8a2.9,2.9 0 1,0 5.8,0a2.9,2.9 0 1,0 -5.8,0M663.9,1028.6a2.9,2.9 0 1,0 5.8,0a2.9,2.9 0 1,0 -5.8,0M719.1,1016.1a2.9,2.9 0 1,0 5.8,0a2.9,2.9 0 1,0 -5.8,0M712.0,1030.8a2.9,2.9 0 1,0 5.8,0a2.9,2.9 0 1,0 -5.8,0" fill="none" stroke="#b8c6a8" stroke-width="1.15"/>
<path d="M251.8,1009.6a2.9,2.9 0 1,0 5.8,0a2.9,2.9 0 1,0 -5.8,0M257.6,1016.3a2.9,2.9 0 1,0 5.8,0a2.9,2.9 0 1,0 -5.8,0M258.1,1007.5a2.9,2.9 0 1,0 5.8,0a2.9,2.9 0 1,0 -5.8,0M254.1,1008.2a2.9,2.9 0 1,0 5.8,0a2.9,2.9 0 1,0 -5.8,0M264.0,1028.9a2.9,2.9 0 1,0 5.8,0a2.9,2.9 0 1,0 -5.8,0M250.0,997.5a2.9,2.9 0 1,0 5.8,0a2.9,2.9 0 1,0 -5.8,0M245.8,1004.1a2.9,2.9 0 1,0 5.8,0a2.9,2.9 0 1,0 -5.8,0M300.4,1021.2a2.9,2.9 0 1,0 5.8,0a2.9,2.9 0 1,0 -5.8,0M303.1,1023.8a2.9,2.9 0 1,0 5.8,0a2.9,2.9 0 1,0 -5.8,0M271.6,1026.7a2.9,2.9 0 1,0 5.8,0a2.9,2.9 0 1,0 -5.8,0M263.3,1032.0a2.9,2.9 0 1,0 5.8,0a2.9,2.9 0 1,0 -5.8,0M267.9,1026.7a2.9,2.9 0 1,0 5.8,0a2.9,2.9 0 1,0 -5.8,0M277.8,1033.0a2.9,2.9 0 1,0 5.8,0a2.9,2.9 0 1,0 -5.8,0M268.2,1033.9a2.9,2.9 0 1,0 5.8,0a2.9,2.9 0 1,0 -5.8,0M279.0,1033.5a2.9,2.9 0 1,0 5.8,0a2.9,2.9 0 1,0 -5.8,0M366.2,1001.9a2.9,2.9 0 1,0 5.8,0a2.9,2.9 0 1,0 -5.8,0M297.6,1006.8a2.9,2.9 0 1,0 5.8,0a2.9,2.9 0 1,0 -5.8,0M304.6,1007.6a2.9,2.9 0 1,0 5.8,0a2.9,2.9 0 1,0 -5.8,0M345.7,1010.4a2.9,2.9 0 1,0 5.8,0a2.9,2.9 0 1,0 -5.8,0M700.4,1030.9a2.9,2.9 0 1,0 5.8,0a2.9,2.9 0 1,0 -5.8,0M687.9,1033.6a2.9,2.9 0 1,0 5.8,0a2.9,2.9 0 1,0 -5.8,0M692.9,1034.2a2.9,2.9 0 1,0 5.8,0a2.9,2.9 0 1,0 -5.8,0M693.9,1032.4a2.9,2.9 0 1,0 5.8,0a2.9,2.9 0 1,0 -5.8,0M717.7,935.3a2.9,2.9 0 1,0 5.8,0a2.9,2.9 0 1,0 -5.8,0M619.6,994.8a2.9,2.9 0 1,0 5.8,0a2.9,2.9 0 1,0 -5.8,0M623.0,1005.3a2.9,2.9 0 1,0 5.8,0a2.9,2.9 0 1,0 -5.8,0M656.8,1000.5a2.9,2.9 0 1,0 5.8,0a2.9,2.9 0 1,0 -5.8,0M748.3,1010.2a2.9,2.9 0 1,0 5.8,0a2.9,2.9 0 1,0 -5.8,0M729.1,1013.8a2.9,2.9 0 1,0 5.8,0a2.9,2.9 0 1,0 -5.8,0M634.7,1014.4a2.9,2.9 0 1,0 5.8,0a2.9,2.9 0 1,0 -5.8,0M654.5,1018.1a2.9,2.9 0 1,0 5.8,0a2.9,2.9 0 1,0 -5.8,0M662.4,1014.4a2.9,2.9 0 1,0 5.8,0a2.9,2.9 0 1,0 -5.8,0M713.5,1018.1a2.9,2.9 0 1,0 5.8,0a2.9,2.9 0 1,0 -5.8,0" fill="none" stroke="#aab6c6" stroke-width="1.15"/>
<path d="M249.8,1024.3a2.9,2.9 0 1,0 5.8,0a2.9,2.9 0 1,0 -5.8,0M245.1,1015.7a2.9,2.9 0 1,0 5.8,0a2.9,2.9 0 1,0 -5.8,0M265.7,1020.7a2.9,2.9 0 1,0 5.8,0a2.9,2.9 0 1,0 -5.8,0M240.6,1030.4a2.9,2.9 0 1,0 5.8,0a2.9,2.9 0 1,0 -5.8,0M252.4,1016.3a2.9,2.9 0 1,0 5.8,0a2.9,2.9 0 1,0 -5.8,0M259.0,1025.7a2.9,2.9 0 1,0 5.8,0a2.9,2.9 0 1,0 -5.8,0M271.2,1025.7a2.9,2.9 0 1,0 5.8,0a2.9,2.9 0 1,0 -5.8,0M256.1,1023.3a2.9,2.9 0 1,0 5.8,0a2.9,2.9 0 1,0 -5.8,0M251.9,1025.6a2.9,2.9 0 1,0 5.8,0a2.9,2.9 0 1,0 -5.8,0M260.3,1020.6a2.9,2.9 0 1,0 5.8,0a2.9,2.9 0 1,0 -5.8,0M247.1,1009.4a2.9,2.9 0 1,0 5.8,0a2.9,2.9 0 1,0 -5.8,0M263.4,1020.9a2.9,2.9 0 1,0 5.8,0a2.9,2.9 0 1,0 -5.8,0M253.0,1012.2a2.9,2.9 0 1,0 5.8,0a2.9,2.9 0 1,0 -5.8,0M250.0,1000.5a2.9,2.9 0 1,0 5.8,0a2.9,2.9 0 1,0 -5.8,0M265.6,1021.2a2.9,2.9 0 1,0 5.8,0a2.9,2.9 0 1,0 -5.8,0M273.3,1027.4a2.9,2.9 0 1,0 5.8,0a2.9,2.9 0 1,0 -5.8,0M245.6,1028.6a2.9,2.9 0 1,0 5.8,0a2.9,2.9 0 1,0 -5.8,0M258.1,1031.7a2.9,2.9 0 1,0 5.8,0a2.9,2.9 0 1,0 -5.8,0M242.9,1008.2a2.9,2.9 0 1,0 5.8,0a2.9,2.9 0 1,0 -5.8,0M245.1,1001.6a2.9,2.9 0 1,0 5.8,0a2.9,2.9 0 1,0 -5.8,0M267.2,1032.6a2.9,2.9 0 1,0 5.8,0a2.9,2.9 0 1,0 -5.8,0M245.2,1026.7a2.9,2.9 0 1,0 5.8,0a2.9,2.9 0 1,0 -5.8,0M251.1,1031.5a2.9,2.9 0 1,0 5.8,0a2.9,2.9 0 1,0 -5.8,0M241.4,1024.0a2.9,2.9 0 1,0 5.8,0a2.9,2.9 0 1,0 -5.8,0M250.1,1008.1a2.9,2.9 0 1,0 5.8,0a2.9,2.9 0 1,0 -5.8,0M260.5,1015.5a2.9,2.9 0 1,0 5.8,0a2.9,2.9 0 1,0 -5.8,0M263.7,1032.8a2.9,2.9 0 1,0 5.8,0a2.9,2.9 0 1,0 -5.8,0M248.9,1014.5a2.9,2.9 0 1,0 5.8,0a2.9,2.9 0 1,0 -5.8,0M251.7,999.8a2.9,2.9 0 1,0 5.8,0a2.9,2.9 0 1,0 -5.8,0M265.7,1030.1a2.9,2.9 0 1,0 5.8,0a2.9,2.9 0 1,0 -5.8,0M249.0,1005.7a2.9,2.9 0 1,0 5.8,0a2.9,2.9 0 1,0 -5.8,0M242.4,1016.1a2.9,2.9 0 1,0 5.8,0a2.9,2.9 0 1,0 -5.8,0M258.2,1027.0a2.9,2.9 0 1,0 5.8,0a2.9,2.9 0 1,0 -5.8,0M243.6,1018.7a2.9,2.9 0 1,0 5.8,0a2.9,2.9 0 1,0 -5.8,0M246.0,1000.8a2.9,2.9 0 1,0 5.8,0a2.9,2.9 0 1,0 -5.8,0M251.3,1006.2a2.9,2.9 0 1,0 5.8,0a2.9,2.9 0 1,0 -5.8,0M257.9,1029.3a2.9,2.9 0 1,0 5.8,0a2.9,2.9 0 1,0 -5.8,0M274.8,1032.2a2.9,2.9 0 1,0 5.8,0a2.9,2.9 0 1,0 -5.8,0M245.3,1002.7a2.9,2.9 0 1,0 5.8,0a2.9,2.9 0 1,0 -5.8,0M253.3,1028.2a2.9,2.9 0 1,0 5.8,0a2.9,2.9 0 1,0 -5.8,0M248.0,996.0a2.9,2.9 0 1,0 5.8,0a2.9,2.9 0 1,0 -5.8,0M271.5,1032.8a2.9,2.9 0 1,0 5.8,0a2.9,2.9 0 1,0 -5.8,0M254.6,1022.0a2.9,2.9 0 1,0 5.8,0a2.9,2.9 0 1,0 -5.8,0M246.6,994.5a2.9,2.9 0 1,0 5.8,0a2.9,2.9 0 1,0 -5.8,0M252.3,1012.5a2.9,2.9 0 1,0 5.8,0a2.9,2.9 0 1,0 -5.8,0M260.9,1029.6a2.9,2.9 0 1,0 5.8,0a2.9,2.9 0 1,0 -5.8,0M266.0,1020.9a2.9,2.9 0 1,0 5.8,0a2.9,2.9 0 1,0 -5.8,0M256.7,1006.3a2.9,2.9 0 1,0 5.8,0a2.9,2.9 0 1,0 -5.8,0M266.5,1020.4a2.9,2.9 0 1,0 5.8,0a2.9,2.9 0 1,0 -5.8,0M247.1,993.8a2.9,2.9 0 1,0 5.8,0a2.9,2.9 0 1,0 -5.8,0M255.2,1005.3a2.9,2.9 0 1,0 5.8,0a2.9,2.9 0 1,0 -5.8,0M272.6,1031.3a2.9,2.9 0 1,0 5.8,0a2.9,2.9 0 1,0 -5.8,0M244.3,1006.0a2.9,2.9 0 1,0 5.8,0a2.9,2.9 0 1,0 -5.8,0M266.5,1022.6a2.9,2.9 0 1,0 5.8,0a2.9,2.9 0 1,0 -5.8,0M248.4,1009.6a2.9,2.9 0 1,0 5.8,0a2.9,2.9 0 1,0 -5.8,0M248.2,1019.0a2.9,2.9 0 1,0 5.8,0a2.9,2.9 0 1,0 -5.8,0M250.4,1001.4a2.9,2.9 0 1,0 5.8,0a2.9,2.9 0 1,0 -5.8,0M251.0,1029.1a2.9,2.9 0 1,0 5.8,0a2.9,2.9 0 1,0 -5.8,0M262.6,1027.3a2.9,2.9 0 1,0 5.8,0a2.9,2.9 0 1,0 -5.8,0M250.1,1027.6a2.9,2.9 0 1,0 5.8,0a2.9,2.9 0 1,0 -5.8,0M266.9,1031.1a2.9,2.9 0 1,0 5.8,0a2.9,2.9 0 1,0 -5.8,0M242.7,1026.7a2.9,2.9 0 1,0 5.8,0a2.9,2.9 0 1,0 -5.8,0M261.5,1024.0a2.9,2.9 0 1,0 5.8,0a2.9,2.9 0 1,0 -5.8,0M259.3,1029.5a2.9,2.9 0 1,0 5.8,0a2.9,2.9 0 1,0 -5.8,0M253.1,1014.5a2.9,2.9 0 1,0 5.8,0a2.9,2.9 0 1,0 -5.8,0M258.5,1013.9a2.9,2.9 0 1,0 5.8,0a2.9,2.9 0 1,0 -5.8,0M271.8,1029.1a2.9,2.9 0 1,0 5.8,0a2.9,2.9 0 1,0 -5.8,0M259.4,1024.7a2.9,2.9 0 1,0 5.8,0a2.9,2.9 0 1,0 -5.8,0M245.2,1023.4a2.9,2.9 0 1,0 5.8,0a2.9,2.9 0 1,0 -5.8,0M248.5,1020.1a2.9,2.9 0 1,0 5.8,0a2.9,2.9 0 1,0 -5.8,0M240.8,1022.1a2.9,2.9 0 1,0 5.8,0a2.9,2.9 0 1,0 -5.8,0M268.6,1029.5a2.9,2.9 0 1,0 5.8,0a2.9,2.9 0 1,0 -5.8,0M252.5,1027.7a2.9,2.9 0 1,0 5.8,0a2.9,2.9 0 1,0 -5.8,0M243.9,1031.1a2.9,2.9 0 1,0 5.8,0a2.9,2.9 0 1,0 -5.8,0M249.4,1004.9a2.9,2.9 0 1,0 5.8,0a2.9,2.9 0 1,0 -5.8,0M261.3,1029.1a2.9,2.9 0 1,0 5.8,0a2.9,2.9 0 1,0 -5.8,0M254.0,1023.6a2.9,2.9 0 1,0 5.8,0a2.9,2.9 0 1,0 -5.8,0M243.8,1002.0a2.9,2.9 0 1,0 5.8,0a2.9,2.9 0 1,0 -5.8,0M263.2,1029.5a2.9,2.9 0 1,0 5.8,0a2.9,2.9 0 1,0 -5.8,0M251.3,1014.7a2.9,2.9 0 1,0 5.8,0a2.9,2.9 0 1,0 -5.8,0M254.5,1008.8a2.9,2.9 0 1,0 5.8,0a2.9,2.9 0 1,0 -5.8,0M258.0,1010.8a2.9,2.9 0 1,0 5.8,0a2.9,2.9 0 1,0 -5.8,0M265.8,1030.9a2.9,2.9 0 1,0 5.8,0a2.9,2.9 0 1,0 -5.8,0M252.4,1010.5a2.9,2.9 0 1,0 5.8,0a2.9,2.9 0 1,0 -5.8,0M257.8,1014.5a2.9,2.9 0 1,0 5.8,0a2.9,2.9 0 1,0 -5.8,0M255.3,1025.9a2.9,2.9 0 1,0 5.8,0a2.9,2.9 0 1,0 -5.8,0M261.1,1016.7a2.9,2.9 0 1,0 5.8,0a2.9,2.9 0 1,0 -5.8,0M273.2,1032.4a2.9,2.9 0 1,0 5.8,0a2.9,2.9 0 1,0 -5.8,0M251.4,1011.6a2.9,2.9 0 1,0 5.8,0a2.9,2.9 0 1,0 -5.8,0M245.6,1009.5a2.9,2.9 0 1,0 5.8,0a2.9,2.9 0 1,0 -5.8,0M248.4,995.8a2.9,2.9 0 1,0 5.8,0a2.9,2.9 0 1,0 -5.8,0M249.8,1029.2a2.9,2.9 0 1,0 5.8,0a2.9,2.9 0 1,0 -5.8,0M251.0,1002.0a2.9,2.9 0 1,0 5.8,0a2.9,2.9 0 1,0 -5.8,0M269.4,1029.3a2.9,2.9 0 1,0 5.8,0a2.9,2.9 0 1,0 -5.8,0M255.1,1027.8a2.9,2.9 0 1,0 5.8,0a2.9,2.9 0 1,0 -5.8,0M262.1,1029.7a2.9,2.9 0 1,0 5.8,0a2.9,2.9 0 1,0 -5.8,0M267.5,1032.3a2.9,2.9 0 1,0 5.8,0a2.9,2.9 0 1,0 -5.8,0M304.9,1025.8a2.9,2.9 0 1,0 5.8,0a2.9,2.9 0 1,0 -5.8,0M291.8,1028.6a2.9,2.9 0 1,0 5.8,0a2.9,2.9 0 1,0 -5.8,0M303.0,1019.5a2.9,2.9 0 1,0 5.8,0a2.9,2.9 0 1,0 -5.8,0M295.6,1029.9a2.9,2.9 0 1,0 5.8,0a2.9,2.9 0 1,0 -5.8,0M301.5,1022.5a2.9,2.9 0 1,0 5.8,0a2.9,2.9 0 1,0 -5.8,0M299.8,1031.1a2.9,2.9 0 1,0 5.8,0a2.9,2.9 0 1,0 -5.8,0M304.7,1027.8a2.9,2.9 0 1,0 5.8,0a2.9,2.9 0 1,0 -5.8,0M291.9,1023.8a2.9,2.9 0 1,0 5.8,0a2.9,2.9 0 1,0 -5.8,0M298.6,1032.7a2.9,2.9 0 1,0 5.8,0a2.9,2.9 0 1,0 -5.8,0M301.3,1010.7a2.9,2.9 0 1,0 5.8,0a2.9,2.9 0 1,0 -5.8,0M289.7,1028.7a2.9,2.9 0 1,0 5.8,0a2.9,2.9 0 1,0 -5.8,0M284.7,1033.0a2.9,2.9 0 1,0 5.8,0a2.9,2.9 0 1,0 -5.8,0M292.9,1031.1a2.9,2.9 0 1,0 5.8,0a2.9,2.9 0 1,0 -5.8,0M288.9,1029.1a2.9,2.9 0 1,0 5.8,0a2.9,2.9 0 1,0 -5.8,0M289.0,1029.7a2.9,2.9 0 1,0 5.8,0a2.9,2.9 0 1,0 -5.8,0M302.8,1010.1a2.9,2.9 0 1,0 5.8,0a2.9,2.9 0 1,0 -5.8,0M299.4,1015.9a2.9,2.9 0 1,0 5.8,0a2.9,2.9 0 1,0 -5.8,0M301.7,1016.0a2.9,2.9 0 1,0 5.8,0a2.9,2.9 0 1,0 -5.8,0M299.5,1024.1a2.9,2.9 0 1,0 5.8,0a2.9,2.9 0 1,0 -5.8,0M286.7,1028.8a2.9,2.9 0 1,0 5.8,0a2.9,2.9 0 1,0 -5.8,0M300.4,1026.4a2.9,2.9 0 1,0 5.8,0a2.9,2.9 0 1,0 -5.8,0M291.8,1023.6a2.9,2.9 0 1,0 5.8,0a2.9,2.9 0 1,0 -5.8,0M292.8,1024.2a2.9,2.9 0 1,0 5.8,0a2.9,2.9 0 1,0 -5.8,0M286.0,1029.0a2.9,2.9 0 1,0 5.8,0a2.9,2.9 0 1,0 -5.8,0M290.8,1028.9a2.9,2.9 0 1,0 5.8,0a2.9,2.9 0 1,0 -5.8,0M291.8,1025.2a2.9,2.9 0 1,0 5.8,0a2.9,2.9 0 1,0 -5.8,0M290.3,1028.4a2.9,2.9 0 1,0 5.8,0a2.9,2.9 0 1,0 -5.8,0M290.5,1025.0a2.9,2.9 0 1,0 5.8,0a2.9,2.9 0 1,0 -5.8,0M304.6,1031.5a2.9,2.9 0 1,0 5.8,0a2.9,2.9 0 1,0 -5.8,0M289.9,1025.3a2.9,2.9 0 1,0 5.8,0a2.9,2.9 0 1,0 -5.8,0M295.5,1023.1a2.9,2.9 0 1,0 5.8,0a2.9,2.9 0 1,0 -5.8,0M302.9,1023.0a2.9,2.9 0 1,0 5.8,0a2.9,2.9 0 1,0 -5.8,0M303.5,1018.3a2.9,2.9 0 1,0 5.8,0a2.9,2.9 0 1,0 -5.8,0M296.5,1026.7a2.9,2.9 0 1,0 5.8,0a2.9,2.9 0 1,0 -5.8,0M294.3,1023.9a2.9,2.9 0 1,0 5.8,0a2.9,2.9 0 1,0 -5.8,0M293.7,1026.5a2.9,2.9 0 1,0 5.8,0a2.9,2.9 0 1,0 -5.8,0M303.1,1020.4a2.9,2.9 0 1,0 5.8,0a2.9,2.9 0 1,0 -5.8,0M302.7,1023.9a2.9,2.9 0 1,0 5.8,0a2.9,2.9 0 1,0 -5.8,0M296.5,1027.2a2.9,2.9 0 1,0 5.8,0a2.9,2.9 0 1,0 -5.8,0M297.7,1031.6a2.9,2.9 0 1,0 5.8,0a2.9,2.9 0 1,0 -5.8,0M296.6,1029.0a2.9,2.9 0 1,0 5.8,0a2.9,2.9 0 1,0 -5.8,0M301.4,1022.8a2.9,2.9 0 1,0 5.8,0a2.9,2.9 0 1,0 -5.8,0M295.3,1018.8a2.9,2.9 0 1,0 5.8,0a2.9,2.9 0 1,0 -5.8,0M297.9,1025.3a2.9,2.9 0 1,0 5.8,0a2.9,2.9 0 1,0 -5.8,0M302.6,1016.4a2.9,2.9 0 1,0 5.8,0a2.9,2.9 0 1,0 -5.8,0M288.9,1033.4a2.9,2.9 0 1,0 5.8,0a2.9,2.9 0 1,0 -5.8,0M299.5,1023.8a2.9,2.9 0 1,0 5.8,0a2.9,2.9 0 1,0 -5.8,0M256.8,1033.4a2.9,2.9 0 1,0 5.8,0a2.9,2.9 0 1,0 -5.8,0M277.5,1033.8a2.9,2.9 0 1,0 5.8,0a2.9,2.9 0 1,0 -5.8,0M271.7,1024.3a2.9,2.9 0 1,0 5.8,0a2.9,2.9 0 1,0 -5.8,0M275.8,1026.6a2.9,2.9 0 1,0 5.8,0a2.9,2.9 0 1,0 -5.8,0M266.9,1025.2a2.9,2.9 0 1,0 5.8,0a2.9,2.9 0 1,0 -5.8,0M267.9,1031.6a2.9,2.9 0 1,0 5.8,0a2.9,2.9 0 1,0 -5.8,0M260.0,1030.5a2.9,2.9 0 1,0 5.8,0a2.9,2.9 0 1,0 -5.8,0M279.7,1027.1a2.9,2.9 0 1,0 5.8,0a2.9,2.9 0 1,0 -5.8,0M267.8,1028.9a2.9,2.9 0 1,0 5.8,0a2.9,2.9 0 1,0 -5.8,0M269.3,1030.8a2.9,2.9 0 1,0 5.8,0a2.9,2.9 0 1,0 -5.8,0M279.2,1029.3a2.9,2.9 0 1,0 5.8,0a2.9,2.9 0 1,0 -5.8,0M292.3,1033.6a2.9,2.9 0 1,0 5.8,0a2.9,2.9 0 1,0 -5.8,0M258.4,1030.6a2.9,2.9 0 1,0 5.8,0a2.9,2.9 0 1,0 -5.8,0M282.3,1032.8a2.9,2.9 0 1,0 5.8,0a2.9,2.9 0 1,0 -5.8,0M260.9,1027.0a2.9,2.9 0 1,0 5.8,0a2.9,2.9 0 1,0 -5.8,0M264.4,1031.0a2.9,2.9 0 1,0 5.8,0a2.9,2.9 0 1,0 -5.8,0M261.9,1024.7a2.9,2.9 0 1,0 5.8,0a2.9,2.9 0 1,0 -5.8,0M267.2,1031.8a2.9,2.9 0 1,0 5.8,0a2.9,2.9 0 1,0 -5.8,0M276.5,1029.0a2.9,2.9 0 1,0 5.8,0a2.9,2.9 0 1,0 -5.8,0M277.5,1029.6a2.9,2.9 0 1,0 5.8,0a2.9,2.9 0 1,0 -5.8,0M263.9,1026.3a2.9,2.9 0 1,0 5.8,0a2.9,2.9 0 1,0 -5.8,0M288.3,1033.1a2.9,2.9 0 1,0 5.8,0a2.9,2.9 0 1,0 -5.8,0M284.4,1032.5a2.9,2.9 0 1,0 5.8,0a2.9,2.9 0 1,0 -5.8,0M284.5,1030.4a2.9,2.9 0 1,0 5.8,0a2.9,2.9 0 1,0 -5.8,0M265.3,1024.7a2.9,2.9 0 1,0 5.8,0a2.9,2.9 0 1,0 -5.8,0M260.7,1026.6a2.9,2.9 0 1,0 5.8,0a2.9,2.9 0 1,0 -5.8,0M273.9,1029.1a2.9,2.9 0 1,0 5.8,0a2.9,2.9 0 1,0 -5.8,0M275.4,1031.4a2.9,2.9 0 1,0 5.8,0a2.9,2.9 0 1,0 -5.8,0M267.1,1025.9a2.9,2.9 0 1,0 5.8,0a2.9,2.9 0 1,0 -5.8,0M263.4,1031.6a2.9,2.9 0 1,0 5.8,0a2.9,2.9 0 1,0 -5.8,0M289.4,1033.3a2.9,2.9 0 1,0 5.8,0a2.9,2.9 0 1,0 -5.8,0M272.9,1026.5a2.9,2.9 0 1,0 5.8,0a2.9,2.9 0 1,0 -5.8,0M288.0,1033.1a2.9,2.9 0 1,0 5.8,0a2.9,2.9 0 1,0 -5.8,0M278.3,1033.0a2.9,2.9 0 1,0 5.8,0a2.9,2.9 0 1,0 -5.8,0M285.8,1033.5a2.9,2.9 0 1,0 5.8,0a2.9,2.9 0 1,0 -5.8,0M280.6,1033.9a2.9,2.9 0 1,0 5.8,0a2.9,2.9 0 1,0 -5.8,0M279.0,1034.1a2.9,2.9 0 1,0 5.8,0a2.9,2.9 0 1,0 -5.8,0M280.8,1032.5a2.9,2.9 0 1,0 5.8,0a2.9,2.9 0 1,0 -5.8,0M279.5,1033.4a2.9,2.9 0 1,0 5.8,0a2.9,2.9 0 1,0 -5.8,0M278.6,1033.0a2.9,2.9 0 1,0 5.8,0a2.9,2.9 0 1,0 -5.8,0M278.3,1034.0a2.9,2.9 0 1,0 5.8,0a2.9,2.9 0 1,0 -5.8,0M276.1,1033.8a2.9,2.9 0 1,0 5.8,0a2.9,2.9 0 1,0 -5.8,0M283.7,1032.7a2.9,2.9 0 1,0 5.8,0a2.9,2.9 0 1,0 -5.8,0M246.5,897.9a2.9,2.9 0 1,0 5.8,0a2.9,2.9 0 1,0 -5.8,0M241.4,974.7a2.9,2.9 0 1,0 5.8,0a2.9,2.9 0 1,0 -5.8,0M189.0,994.0a2.9,2.9 0 1,0 5.8,0a2.9,2.9 0 1,0 -5.8,0M194.9,994.0a2.9,2.9 0 1,0 5.8,0a2.9,2.9 0 1,0 -5.8,0M337.8,994.0a2.9,2.9 0 1,0 5.8,0a2.9,2.9 0 1,0 -5.8,0M364.7,996.8a2.9,2.9 0 1,0 5.8,0a2.9,2.9 0 1,0 -5.8,0M306.1,991.7a2.9,2.9 0 1,0 5.8,0a2.9,2.9 0 1,0 -5.8,0M327.3,995.4a2.9,2.9 0 1,0 5.8,0a2.9,2.9 0 1,0 -5.8,0M324.5,996.8a2.9,2.9 0 1,0 5.8,0a2.9,2.9 0 1,0 -5.8,0M317.4,1000.2a2.9,2.9 0 1,0 5.8,0a2.9,2.9 0 1,0 -5.8,0M253.6,992.6a2.9,2.9 0 1,0 5.8,0a2.9,2.9 0 1,0 -5.8,0M212.5,1013.8a2.9,2.9 0 1,0 5.8,0a2.9,2.9 0 1,0 -5.8,0M221.6,1008.2a2.9,2.9 0 1,0 5.8,0a2.9,2.9 0 1,0 -5.8,0M222.4,1011.0a2.9,2.9 0 1,0 5.8,0a2.9,2.9 0 1,0 -5.8,0M236.6,1008.7a2.9,2.9 0 1,0 5.8,0a2.9,2.9 0 1,0 -5.8,0M313.1,1009.6a2.9,2.9 0 1,0 5.8,0a2.9,2.9 0 1,0 -5.8,0M320.2,1008.2a2.9,2.9 0 1,0 5.8,0a2.9,2.9 0 1,0 -5.8,0M328.7,1008.7a2.9,2.9 0 1,0 5.8,0a2.9,2.9 0 1,0 -5.8,0M350.0,1009.6a2.9,2.9 0 1,0 5.8,0a2.9,2.9 0 1,0 -5.8,0M720.7,1017.1a2.9,2.9 0 1,0 5.8,0a2.9,2.9 0 1,0 -5.8,0M692.2,1032.9a2.9,2.9 0 1,0 5.8,0a2.9,2.9 0 1,0 -5.8,0M677.2,1028.1a2.9,2.9 0 1,0 5.8,0a2.9,2.9 0 1,0 -5.8,0M652.1,1017.9a2.9,2.9 0 1,0 5.8,0a2.9,2.9 0 1,0 -5.8,0M674.7,1032.4a2.9,2.9 0 1,0 5.8,0a2.9,2.9 0 1,0 -5.8,0M724.4,1016.7a2.9,2.9 0 1,0 5.8,0a2.9,2.9 0 1,0 -5.8,0M675.6,1030.7a2.9,2.9 0 1,0 5.8,0a2.9,2.9 0 1,0 -5.8,0M679.7,1034.2a2.9,2.9 0 1,0 5.8,0a2.9,2.9 0 1,0 -5.8,0M674.7,1027.4a2.9,2.9 0 1,0 5.8,0a2.9,2.9 0 1,0 -5.8,0M662.9,1025.0a2.9,2.9 0 1,0 5.8,0a2.9,2.9 0 1,0 -5.8,0M682.1,1031.7a2.9,2.9 0 1,0 5.8,0a2.9,2.9 0 1,0 -5.8,0M678.9,1033.9a2.9,2.9 0 1,0 5.8,0a2.9,2.9 0 1,0 -5.8,0M681.7,1029.0a2.9,2.9 0 1,0 5.8,0a2.9,2.9 0 1,0 -5.8,0M701.8,1028.8a2.9,2.9 0 1,0 5.8,0a2.9,2.9 0 1,0 -5.8,0M700.2,1023.6a2.9,2.9 0 1,0 5.8,0a2.9,2.9 0 1,0 -5.8,0M678.6,1029.0a2.9,2.9 0 1,0 5.8,0a2.9,2.9 0 1,0 -5.8,0M674.0,1024.5a2.9,2.9 0 1,0 5.8,0a2.9,2.9 0 1,0 -5.8,0M674.8,1025.4a2.9,2.9 0 1,0 5.8,0a2.9,2.9 0 1,0 -5.8,0M695.4,1028.7a2.9,2.9 0 1,0 5.8,0a2.9,2.9 0 1,0 -5.8,0M698.3,1031.9a2.9,2.9 0 1,0 5.8,0a2.9,2.9 0 1,0 -5.8,0M696.0,1029.6a2.9,2.9 0 1,0 5.8,0a2.9,2.9 0 1,0 -5.8,0M690.9,1027.3a2.9,2.9 0 1,0 5.8,0a2.9,2.9 0 1,0 -5.8,0M692.9,1030.2a2.9,2.9 0 1,0 5.8,0a2.9,2.9 0 1,0 -5.8,0M698.7,1024.8a2.9,2.9 0 1,0 5.8,0a2.9,2.9 0 1,0 -5.8,0M687.6,1030.7a2.9,2.9 0 1,0 5.8,0a2.9,2.9 0 1,0 -5.8,0M653.2,1023.3a2.9,2.9 0 1,0 5.8,0a2.9,2.9 0 1,0 -5.8,0M669.0,1028.7a2.9,2.9 0 1,0 5.8,0a2.9,2.9 0 1,0 -5.8,0M693.1,1028.7a2.9,2.9 0 1,0 5.8,0a2.9,2.9 0 1,0 -5.8,0M644.3,1013.1a2.9,2.9 0 1,0 5.8,0a2.9,2.9 0 1,0 -5.8,0M671.1,1026.5a2.9,2.9 0 1,0 5.8,0a2.9,2.9 0 1,0 -5.8,0M701.5,1022.5a2.9,2.9 0 1,0 5.8,0a2.9,2.9 0 1,0 -5.8,0M652.5,1022.6a2.9,2.9 0 1,0 5.8,0a2.9,2.9 0 1,0 -5.8,0M663.6,1023.6a2.9,2.9 0 1,0 5.8,0a2.9,2.9 0 1,0 -5.8,0M688.7,1028.1a2.9,2.9 0 1,0 5.8,0a2.9,2.9 0 1,0 -5.8,0M649.6,1018.0a2.9,2.9 0 1,0 5.8,0a2.9,2.9 0 1,0 -5.8,0M669.3,1026.2a2.9,2.9 0 1,0 5.8,0a2.9,2.9 0 1,0 -5.8,0M634.2,1015.3a2.9,2.9 0 1,0 5.8,0a2.9,2.9 0 1,0 -5.8,0M683.7,1031.4a2.9,2.9 0 1,0 5.8,0a2.9,2.9 0 1,0 -5.8,0M673.8,1031.8a2.9,2.9 0 1,0 5.8,0a2.9,2.9 0 1,0 -5.8,0M699.0,1024.3a2.9,2.9 0 1,0 5.8,0a2.9,2.9 0 1,0 -5.8,0M720.6,1020.4a2.9,2.9 0 1,0 5.8,0a2.9,2.9 0 1,0 -5.8,0M652.2,1017.4a2.9,2.9 0 1,0 5.8,0a2.9,2.9 0 1,0 -5.8,0M686.8,1028.1a2.9,2.9 0 1,0 5.8,0a2.9,2.9 0 1,0 -5.8,0M634.5,1010.0a2.9,2.9 0 1,0 5.8,0a2.9,2.9 0 1,0 -5.8,0M675.9,1028.6a2.9,2.9 0 1,0 5.8,0a2.9,2.9 0 1,0 -5.8,0M673.5,1029.0a2.9,2.9 0 1,0 5.8,0a2.9,2.9 0 1,0 -5.8,0M685.9,1030.3a2.9,2.9 0 1,0 5.8,0a2.9,2.9 0 1,0 -5.8,0M665.1,1025.7a2.9,2.9 0 1,0 5.8,0a2.9,2.9 0 1,0 -5.8,0M684.2,1034.2a2.9,2.9 0 1,0 5.8,0a2.9,2.9 0 1,0 -5.8,0M683.6,1034.2a2.9,2.9 0 1,0 5.8,0a2.9,2.9 0 1,0 -5.8,0M708.5,1023.1a2.9,2.9 0 1,0 5.8,0a2.9,2.9 0 1,0 -5.8,0M693.6,1029.6a2.9,2.9 0 1,0 5.8,0a2.9,2.9 0 1,0 -5.8,0M690.9,1031.8a2.9,2.9 0 1,0 5.8,0a2.9,2.9 0 1,0 -5.8,0M689.3,1032.3a2.9,2.9 0 1,0 5.8,0a2.9,2.9 0 1,0 -5.8,0M687.5,1028.7a2.9,2.9 0 1,0 5.8,0a2.9,2.9 0 1,0 -5.8,0M693.4,1027.3a2.9,2.9 0 1,0 5.8,0a2.9,2.9 0 1,0 -5.8,0M685.8,1034.2a2.9,2.9 0 1,0 5.8,0a2.9,2.9 0 1,0 -5.8,0M670.4,1031.0a2.9,2.9 0 1,0 5.8,0a2.9,2.9 0 1,0 -5.8,0M689.3,1034.2a2.9,2.9 0 1,0 5.8,0a2.9,2.9 0 1,0 -5.8,0M699.6,1032.2a2.9,2.9 0 1,0 5.8,0a2.9,2.9 0 1,0 -5.8,0M680.6,1034.2a2.9,2.9 0 1,0 5.8,0a2.9,2.9 0 1,0 -5.8,0M702.4,1022.4a2.9,2.9 0 1,0 5.8,0a2.9,2.9 0 1,0 -5.8,0M686.5,1030.6a2.9,2.9 0 1,0 5.8,0a2.9,2.9 0 1,0 -5.8,0M776.4,993.4a2.9,2.9 0 1,0 5.8,0a2.9,2.9 0 1,0 -5.8,0M797.9,994.8a2.9,2.9 0 1,0 5.8,0a2.9,2.9 0 1,0 -5.8,0M666.7,1005.3a2.9,2.9 0 1,0 5.8,0a2.9,2.9 0 1,0 -5.8,0M737.6,1011.0a2.9,2.9 0 1,0 5.8,0a2.9,2.9 0 1,0 -5.8,0M731.9,1011.0a2.9,2.9 0 1,0 5.8,0a2.9,2.9 0 1,0 -5.8,0M663.9,1018.1a2.9,2.9 0 1,0 5.8,0a2.9,2.9 0 1,0 -5.8,0M672.4,1028.0a2.9,2.9 0 1,0 5.8,0a2.9,2.9 0 1,0 -5.8,0M716.3,1022.3a2.9,2.9 0 1,0 5.8,0a2.9,2.9 0 1,0 -5.8,0" fill="none" stroke="#bdbdbd" stroke-width="1.15"/>
<path d="M257.6,1028.0a2.9,2.9 0 1,0 5.8,0a2.9,2.9 0 1,0 -5.8,0M254.4,1011.4a2.9,2.9 0 1,0 5.8,0a2.9,2.9 0 1,0 -5.8,0M249.3,996.4a2.9,2.9 0 1,0 5.8,0a2.9,2.9 0 1,0 -5.8,0M262.1,1025.6a2.9,2.9 0 1,0 5.8,0a2.9,2.9 0 1,0 -5.8,0M257.1,1026.4a2.9,2.9 0 1,0 5.8,0a2.9,2.9 0 1,0 -5.8,0M260.0,1017.5a2.9,2.9 0 1,0 5.8,0a2.9,2.9 0 1,0 -5.8,0M275.3,1033.0a2.9,2.9 0 1,0 5.8,0a2.9,2.9 0 1,0 -5.8,0M259.0,1020.4a2.9,2.9 0 1,0 5.8,0a2.9,2.9 0 1,0 -5.8,0M259.5,1015.1a2.9,2.9 0 1,0 5.8,0a2.9,2.9 0 1,0 -5.8,0M252.6,1028.8a2.9,2.9 0 1,0 5.8,0a2.9,2.9 0 1,0 -5.8,0M247.3,1006.6a2.9,2.9 0 1,0 5.8,0a2.9,2.9 0 1,0 -5.8,0M243.1,1027.9a2.9,2.9 0 1,0 5.8,0a2.9,2.9 0 1,0 -5.8,0M252.5,1022.6a2.9,2.9 0 1,0 5.8,0a2.9,2.9 0 1,0 -5.8,0M247.7,999.8a2.9,2.9 0 1,0 5.8,0a2.9,2.9 0 1,0 -5.8,0M260.2,1026.8a2.9,2.9 0 1,0 5.8,0a2.9,2.9 0 1,0 -5.8,0M251.8,1004.5a2.9,2.9 0 1,0 5.8,0a2.9,2.9 0 1,0 -5.8,0M247.3,1005.7a2.9,2.9 0 1,0 5.8,0a2.9,2.9 0 1,0 -5.8,0M246.1,1010.3a2.9,2.9 0 1,0 5.8,0a2.9,2.9 0 1,0 -5.8,0M246.6,1025.0a2.9,2.9 0 1,0 5.8,0a2.9,2.9 0 1,0 -5.8,0M247.2,1006.8a2.9,2.9 0 1,0 5.8,0a2.9,2.9 0 1,0 -5.8,0M250.4,1014.1a2.9,2.9 0 1,0 5.8,0a2.9,2.9 0 1,0 -5.8,0M244.6,1001.4a2.9,2.9 0 1,0 5.8,0a2.9,2.9 0 1,0 -5.8,0M273.0,1031.7a2.9,2.9 0 1,0 5.8,0a2.9,2.9 0 1,0 -5.8,0M244.2,1002.2a2.9,2.9 0 1,0 5.8,0a2.9,2.9 0 1,0 -5.8,0M250.8,1012.3a2.9,2.9 0 1,0 5.8,0a2.9,2.9 0 1,0 -5.8,0M258.8,1014.0a2.9,2.9 0 1,0 5.8,0a2.9,2.9 0 1,0 -5.8,0M258.5,1027.6a2.9,2.9 0 1,0 5.8,0a2.9,2.9 0 1,0 -5.8,0M246.4,1023.2a2.9,2.9 0 1,0 5.8,0a2.9,2.9 0 1,0 -5.8,0M259.5,1031.4a2.9,2.9 0 1,0 5.8,0a2.9,2.9 0 1,0 -5.8,0M261.3,1019.0a2.9,2.9 0 1,0 5.8,0a2.9,2.9 0 1,0 -5.8,0M259.0,1012.8a2.9,2.9 0 1,0 5.8,0a2.9,2.9 0 1,0 -5.8,0M252.0,1019.3a2.9,2.9 0 1,0 5.8,0a2.9,2.9 0 1,0 -5.8,0M243.5,1011.1a2.9,2.9 0 1,0 5.8,0a2.9,2.9 0 1,0 -5.8,0M244.9,1015.1a2.9,2.9 0 1,0 5.8,0a2.9,2.9 0 1,0 -5.8,0M255.5,1029.1a2.9,2.9 0 1,0 5.8,0a2.9,2.9 0 1,0 -5.8,0M291.0,1027.9a2.9,2.9 0 1,0 5.8,0a2.9,2.9 0 1,0 -5.8,0M298.8,1030.5a2.9,2.9 0 1,0 5.8,0a2.9,2.9 0 1,0 -5.8,0M294.8,1029.6a2.9,2.9 0 1,0 5.8,0a2.9,2.9 0 1,0 -5.8,0M303.4,1032.2a2.9,2.9 0 1,0 5.8,0a2.9,2.9 0 1,0 -5.8,0M303.1,1014.2a2.9,2.9 0 1,0 5.8,0a2.9,2.9 0 1,0 -5.8,0M293.8,1028.9a2.9,2.9 0 1,0 5.8,0a2.9,2.9 0 1,0 -5.8,0M289.8,1027.6a2.9,2.9 0 1,0 5.8,0a2.9,2.9 0 1,0 -5.8,0M298.0,1018.6a2.9,2.9 0 1,0 5.8,0a2.9,2.9 0 1,0 -5.8,0M303.0,1027.8a2.9,2.9 0 1,0 5.8,0a2.9,2.9 0 1,0 -5.8,0M304.4,1024.1a2.9,2.9 0 1,0 5.8,0a2.9,2.9 0 1,0 -5.8,0M296.4,1032.9a2.9,2.9 0 1,0 5.8,0a2.9,2.9 0 1,0 -5.8,0M299.5,1028.2a2.9,2.9 0 1,0 5.8,0a2.9,2.9 0 1,0 -5.8,0M290.7,1030.7a2.9,2.9 0 1,0 5.8,0a2.9,2.9 0 1,0 -5.8,0M293.9,1027.6a2.9,2.9 0 1,0 5.8,0a2.9,2.9 0 1,0 -5.8,0M303.1,1010.5a2.9,2.9 0 1,0 5.8,0a2.9,2.9 0 1,0 -5.8,0M296.6,1025.7a2.9,2.9 0 1,0 5.8,0a2.9,2.9 0 1,0 -5.8,0M303.2,1020.1a2.9,2.9 0 1,0 5.8,0a2.9,2.9 0 1,0 -5.8,0M292.1,1033.4a2.9,2.9 0 1,0 5.8,0a2.9,2.9 0 1,0 -5.8,0M290.4,1025.2a2.9,2.9 0 1,0 5.8,0a2.9,2.9 0 1,0 -5.8,0M272.1,1028.6a2.9,2.9 0 1,0 5.8,0a2.9,2.9 0 1,0 -5.8,0M270.6,1023.3a2.9,2.9 0 1,0 5.8,0a2.9,2.9 0 1,0 -5.8,0M258.6,1032.8a2.9,2.9 0 1,0 5.8,0a2.9,2.9 0 1,0 -5.8,0M264.6,1028.0a2.9,2.9 0 1,0 5.8,0a2.9,2.9 0 1,0 -5.8,0M283.1,1028.6a2.9,2.9 0 1,0 5.8,0a2.9,2.9 0 1,0 -5.8,0M277.8,1026.1a2.9,2.9 0 1,0 5.8,0a2.9,2.9 0 1,0 -5.8,0M272.2,1025.6a2.9,2.9 0 1,0 5.8,0a2.9,2.9 0 1,0 -5.8,0M277.1,1028.5a2.9,2.9 0 1,0 5.8,0a2.9,2.9 0 1,0 -5.8,0M272.9,1027.9a2.9,2.9 0 1,0 5.8,0a2.9,2.9 0 1,0 -5.8,0M267.4,1029.4a2.9,2.9 0 1,0 5.8,0a2.9,2.9 0 1,0 -5.8,0M292.5,1032.4a2.9,2.9 0 1,0 5.8,0a2.9,2.9 0 1,0 -5.8,0M267.4,1022.8a2.9,2.9 0 1,0 5.8,0a2.9,2.9 0 1,0 -5.8,0M275.4,1030.6a2.9,2.9 0 1,0 5.8,0a2.9,2.9 0 1,0 -5.8,0M262.8,1028.6a2.9,2.9 0 1,0 5.8,0a2.9,2.9 0 1,0 -5.8,0M286.7,1030.3a2.9,2.9 0 1,0 5.8,0a2.9,2.9 0 1,0 -5.8,0M274.2,1033.1a2.9,2.9 0 1,0 5.8,0a2.9,2.9 0 1,0 -5.8,0M264.1,1026.3a2.9,2.9 0 1,0 5.8,0a2.9,2.9 0 1,0 -5.8,0M274.6,1031.3a2.9,2.9 0 1,0 5.8,0a2.9,2.9 0 1,0 -5.8,0M279.5,1027.8a2.9,2.9 0 1,0 5.8,0a2.9,2.9 0 1,0 -5.8,0M280.4,1034.1a2.9,2.9 0 1,0 5.8,0a2.9,2.9 0 1,0 -5.8,0M284.6,1031.4a2.9,2.9 0 1,0 5.8,0a2.9,2.9 0 1,0 -5.8,0M283.6,1032.4a2.9,2.9 0 1,0 5.8,0a2.9,2.9 0 1,0 -5.8,0M286.4,1032.9a2.9,2.9 0 1,0 5.8,0a2.9,2.9 0 1,0 -5.8,0M285.9,1032.4a2.9,2.9 0 1,0 5.8,0a2.9,2.9 0 1,0 -5.8,0M283.6,1033.7a2.9,2.9 0 1,0 5.8,0a2.9,2.9 0 1,0 -5.8,0M283.9,1031.8a2.9,2.9 0 1,0 5.8,0a2.9,2.9 0 1,0 -5.8,0M279.6,1032.4a2.9,2.9 0 1,0 5.8,0a2.9,2.9 0 1,0 -5.8,0M287.0,1032.0a2.9,2.9 0 1,0 5.8,0a2.9,2.9 0 1,0 -5.8,0M242.6,936.2a2.9,2.9 0 1,0 5.8,0a2.9,2.9 0 1,0 -5.8,0M244.6,960.0a2.9,2.9 0 1,0 5.8,0a2.9,2.9 0 1,0 -5.8,0M249.4,971.6a2.9,2.9 0 1,0 5.8,0a2.9,2.9 0 1,0 -5.8,0M256.5,979.8a2.9,2.9 0 1,0 5.8,0a2.9,2.9 0 1,0 -5.8,0M202.6,996.3a2.9,2.9 0 1,0 5.8,0a2.9,2.9 0 1,0 -5.8,0M236.0,994.6a2.9,2.9 0 1,0 5.8,0a2.9,2.9 0 1,0 -5.8,0M310.3,977.0a2.9,2.9 0 1,0 5.8,0a2.9,2.9 0 1,0 -5.8,0M311.7,979.8a2.9,2.9 0 1,0 5.8,0a2.9,2.9 0 1,0 -5.8,0M291.9,991.2a2.9,2.9 0 1,0 5.8,0a2.9,2.9 0 1,0 -5.8,0M308.9,992.3a2.9,2.9 0 1,0 5.8,0a2.9,2.9 0 1,0 -5.8,0M298.1,998.2a2.9,2.9 0 1,0 5.8,0a2.9,2.9 0 1,0 -5.8,0M246.5,991.2a2.9,2.9 0 1,0 5.8,0a2.9,2.9 0 1,0 -5.8,0M234.1,1009.6a2.9,2.9 0 1,0 5.8,0a2.9,2.9 0 1,0 -5.8,0M333.0,1006.8a2.9,2.9 0 1,0 5.8,0a2.9,2.9 0 1,0 -5.8,0M335.8,1013.8a2.9,2.9 0 1,0 5.8,0a2.9,2.9 0 1,0 -5.8,0M670.5,1023.6a2.9,2.9 0 1,0 5.8,0a2.9,2.9 0 1,0 -5.8,0M672.1,1032.0a2.9,2.9 0 1,0 5.8,0a2.9,2.9 0 1,0 -5.8,0M676.6,1033.9a2.9,2.9 0 1,0 5.8,0a2.9,2.9 0 1,0 -5.8,0M713.5,1024.8a2.9,2.9 0 1,0 5.8,0a2.9,2.9 0 1,0 -5.8,0M662.2,1020.6a2.9,2.9 0 1,0 5.8,0a2.9,2.9 0 1,0 -5.8,0M674.2,1024.8a2.9,2.9 0 1,0 5.8,0a2.9,2.9 0 1,0 -5.8,0M692.5,1027.8a2.9,2.9 0 1,0 5.8,0a2.9,2.9 0 1,0 -5.8,0M678.9,1030.3a2.9,2.9 0 1,0 5.8,0a2.9,2.9 0 1,0 -5.8,0M682.2,1029.6a2.9,2.9 0 1,0 5.8,0a2.9,2.9 0 1,0 -5.8,0M688.0,1032.9a2.9,2.9 0 1,0 5.8,0a2.9,2.9 0 1,0 -5.8,0M696.8,1030.2a2.9,2.9 0 1,0 5.8,0a2.9,2.9 0 1,0 -5.8,0M698.5,1028.4a2.9,2.9 0 1,0 5.8,0a2.9,2.9 0 1,0 -5.8,0M671.2,1027.2a2.9,2.9 0 1,0 5.8,0a2.9,2.9 0 1,0 -5.8,0M699.8,1024.9a2.9,2.9 0 1,0 5.8,0a2.9,2.9 0 1,0 -5.8,0M689.7,1034.2a2.9,2.9 0 1,0 5.8,0a2.9,2.9 0 1,0 -5.8,0M686.4,1033.7a2.9,2.9 0 1,0 5.8,0a2.9,2.9 0 1,0 -5.8,0M658.3,1024.8a2.9,2.9 0 1,0 5.8,0a2.9,2.9 0 1,0 -5.8,0M725.7,937.9a2.9,2.9 0 1,0 5.8,0a2.9,2.9 0 1,0 -5.8,0M648.6,945.5a2.9,2.9 0 1,0 5.8,0a2.9,2.9 0 1,0 -5.8,0M663.0,959.4a2.9,2.9 0 1,0 5.8,0a2.9,2.9 0 1,0 -5.8,0M611.1,994.0a2.9,2.9 0 1,0 5.8,0a2.9,2.9 0 1,0 -5.8,0M613.4,998.2a2.9,2.9 0 1,0 5.8,0a2.9,2.9 0 1,0 -5.8,0M630.7,997.4a2.9,2.9 0 1,0 5.8,0a2.9,2.9 0 1,0 -5.8,0M659.9,994.6a2.9,2.9 0 1,0 5.8,0a2.9,2.9 0 1,0 -5.8,0M669.5,1000.2a2.9,2.9 0 1,0 5.8,0a2.9,2.9 0 1,0 -5.8,0M668.1,1003.9a2.9,2.9 0 1,0 5.8,0a2.9,2.9 0 1,0 -5.8,0M746.1,998.2a2.9,2.9 0 1,0 5.8,0a2.9,2.9 0 1,0 -5.8,0M757.7,998.5a2.9,2.9 0 1,0 5.8,0a2.9,2.9 0 1,0 -5.8,0M731.3,1003.3a2.9,2.9 0 1,0 5.8,0a2.9,2.9 0 1,0 -5.8,0M637.5,1016.7a2.9,2.9 0 1,0 5.8,0a2.9,2.9 0 1,0 -5.8,0M641.8,1022.3a2.9,2.9 0 1,0 5.8,0a2.9,2.9 0 1,0 -5.8,0M646.9,1020.1a2.9,2.9 0 1,0 5.8,0a2.9,2.9 0 1,0 -5.8,0M649.1,1020.1a2.9,2.9 0 1,0 5.8,0a2.9,2.9 0 1,0 -5.8,0M667.3,1012.4a2.9,2.9 0 1,0 5.8,0a2.9,2.9 0 1,0 -5.8,0M673.8,1019.5a2.9,2.9 0 1,0 5.8,0a2.9,2.9 0 1,0 -5.8,0M678.0,1021.5a2.9,2.9 0 1,0 5.8,0a2.9,2.9 0 1,0 -5.8,0M658.2,1029.4a2.9,2.9 0 1,0 5.8,0a2.9,2.9 0 1,0 -5.8,0M706.4,1020.1a2.9,2.9 0 1,0 5.8,0a2.9,2.9 0 1,0 -5.8,0M709.2,1018.9a2.9,2.9 0 1,0 5.8,0a2.9,2.9 0 1,0 -5.8,0" fill="none" stroke="#c6b0a6" stroke-width="1.15"/>
<path d="M369.8,678.2a2.9,2.9 0 1,0 5.8,0a2.9,2.9 0 1,0 -5.8,0M217.6,757.3a2.9,2.9 0 1,0 5.8,0a2.9,2.9 0 1,0 -5.8,0M172.3,823.9a2.9,2.9 0 1,0 5.8,0a2.9,2.9 0 1,0 -5.8,0M215.4,879.5a2.9,2.9 0 1,0 5.8,0a2.9,2.9 0 1,0 -5.8,0M223.0,907.3a2.9,2.9 0 1,0 5.8,0a2.9,2.9 0 1,0 -5.8,0M208.3,919.2a2.9,2.9 0 1,0 5.8,0a2.9,2.9 0 1,0 -5.8,0M236.9,922.6a2.9,2.9 0 1,0 5.8,0a2.9,2.9 0 1,0 -5.8,0M221.0,950.1a2.9,2.9 0 1,0 5.8,0a2.9,2.9 0 1,0 -5.8,0M367.6,952.9a2.9,2.9 0 1,0 5.8,0a2.9,2.9 0 1,0 -5.8,0M370.7,954.3a2.9,2.9 0 1,0 5.8,0a2.9,2.9 0 1,0 -5.8,0M374.4,955.4a2.9,2.9 0 1,0 5.8,0a2.9,2.9 0 1,0 -5.8,0M363.3,963.9a2.9,2.9 0 1,0 5.8,0a2.9,2.9 0 1,0 -5.8,0M427.4,969.9a2.9,2.9 0 1,0 5.8,0a2.9,2.9 0 1,0 -5.8,0M212.5,959.4a2.9,2.9 0 1,0 5.8,0a2.9,2.9 0 1,0 -5.8,0M236.0,962.2a2.9,2.9 0 1,0 5.8,0a2.9,2.9 0 1,0 -5.8,0M226.1,967.4a2.9,2.9 0 1,0 5.8,0a2.9,2.9 0 1,0 -5.8,0M228.1,972.5a2.9,2.9 0 1,0 5.8,0a2.9,2.9 0 1,0 -5.8,0M210.5,971.9a2.9,2.9 0 1,0 5.8,0a2.9,2.9 0 1,0 -5.8,0M234.1,975.9a2.9,2.9 0 1,0 5.8,0a2.9,2.9 0 1,0 -5.8,0M215.4,992.6a2.9,2.9 0 1,0 5.8,0a2.9,2.9 0 1,0 -5.8,0M228.7,992.6a2.9,2.9 0 1,0 5.8,0a2.9,2.9 0 1,0 -5.8,0M333.0,975.3a2.9,2.9 0 1,0 5.8,0a2.9,2.9 0 1,0 -5.8,0M323.1,984.6a2.9,2.9 0 1,0 5.8,0a2.9,2.9 0 1,0 -5.8,0M330.2,985.5a2.9,2.9 0 1,0 5.8,0a2.9,2.9 0 1,0 -5.8,0M335.8,987.8a2.9,2.9 0 1,0 5.8,0a2.9,2.9 0 1,0 -5.8,0M340.9,988.9a2.9,2.9 0 1,0 5.8,0a2.9,2.9 0 1,0 -5.8,0M350.0,990.6a2.9,2.9 0 1,0 5.8,0a2.9,2.9 0 1,0 -5.8,0M348.6,992.9a2.9,2.9 0 1,0 5.8,0a2.9,2.9 0 1,0 -5.8,0M381.5,991.2a2.9,2.9 0 1,0 5.8,0a2.9,2.9 0 1,0 -5.8,0M828.3,831.0a2.9,2.9 0 1,0 5.8,0a2.9,2.9 0 1,0 -5.8,0M570.3,848.9a2.9,2.9 0 1,0 5.8,0a2.9,2.9 0 1,0 -5.8,0M575.1,887.7a2.9,2.9 0 1,0 5.8,0a2.9,2.9 0 1,0 -5.8,0M776.4,896.5a2.9,2.9 0 1,0 5.8,0a2.9,2.9 0 1,0 -5.8,0M584.5,928.2a2.9,2.9 0 1,0 5.8,0a2.9,2.9 0 1,0 -5.8,0M630.4,948.1a2.9,2.9 0 1,0 5.8,0a2.9,2.9 0 1,0 -5.8,0M738.1,962.2a2.9,2.9 0 1,0 5.8,0a2.9,2.9 0 1,0 -5.8,0M592.4,977.6a2.9,2.9 0 1,0 5.8,0a2.9,2.9 0 1,0 -5.8,0M623.0,973.6a2.9,2.9 0 1,0 5.8,0a2.9,2.9 0 1,0 -5.8,0M726.2,983.2a2.9,2.9 0 1,0 5.8,0a2.9,2.9 0 1,0 -5.8,0M752.6,982.9a2.9,2.9 0 1,0 5.8,0a2.9,2.9 0 1,0 -5.8,0M642.3,992.6a2.9,2.9 0 1,0 5.8,0a2.9,2.9 0 1,0 -5.8,0" fill="none" stroke="#fc8d62" stroke-width="1.15"/>
<path d="M97.7,821.9a2.9,2.9 0 1,0 5.8,0a2.9,2.9 0 1,0 -5.8,0M183.3,876.6a2.9,2.9 0 1,0 5.8,0a2.9,2.9 0 1,0 -5.8,0M148.2,901.0a2.9,2.9 0 1,0 5.8,0a2.9,2.9 0 1,0 -5.8,0M185.6,928.8a2.9,2.9 0 1,0 5.8,0a2.9,2.9 0 1,0 -5.8,0M200.1,932.5a2.9,2.9 0 1,0 5.8,0a2.9,2.9 0 1,0 -5.8,0M222.7,947.5a2.9,2.9 0 1,0 5.8,0a2.9,2.9 0 1,0 -5.8,0M365.6,946.9a2.9,2.9 0 1,0 5.8,0a2.9,2.9 0 1,0 -5.8,0M362.2,955.2a2.9,2.9 0 1,0 5.8,0a2.9,2.9 0 1,0 -5.8,0M232.4,983.2a2.9,2.9 0 1,0 5.8,0a2.9,2.9 0 1,0 -5.8,0M335.0,986.9a2.9,2.9 0 1,0 5.8,0a2.9,2.9 0 1,0 -5.8,0M559.3,946.7a2.9,2.9 0 1,0 5.8,0a2.9,2.9 0 1,0 -5.8,0" fill="none" stroke="#66c2a5" stroke-width="1.15"/>
<path d="M138.8,977.3a2.9,2.9 0 1,0 5.8,0a2.9,2.9 0 1,0 -5.8,0M200.9,978.4a2.9,2.9 0 1,0 5.8,0a2.9,2.9 0 1,0 -5.8,0M200.6,991.2a2.9,2.9 0 1,0 5.8,0a2.9,2.9 0 1,0 -5.8,0M226.1,987.8a2.9,2.9 0 1,0 5.8,0a2.9,2.9 0 1,0 -5.8,0M231.2,987.8a2.9,2.9 0 1,0 5.8,0a2.9,2.9 0 1,0 -5.8,0M220.5,992.6a2.9,2.9 0 1,0 5.8,0a2.9,2.9 0 1,0 -5.8,0M323.1,973.6a2.9,2.9 0 1,0 5.8,0a2.9,2.9 0 1,0 -5.8,0M325.9,976.4a2.9,2.9 0 1,0 5.8,0a2.9,2.9 0 1,0 -5.8,0M350.0,974.2a2.9,2.9 0 1,0 5.8,0a2.9,2.9 0 1,0 -5.8,0M320.2,984.1a2.9,2.9 0 1,0 5.8,0a2.9,2.9 0 1,0 -5.8,0M537.4,974.4a2.9,2.9 0 1,0 5.8,0a2.9,2.9 0 1,0 -5.8,0M636.4,977.3a2.9,2.9 0 1,0 5.8,0a2.9,2.9 0 1,0 -5.8,0M607.2,984.6a2.9,2.9 0 1,0 5.8,0a2.9,2.9 0 1,0 -5.8,0M758.2,982.7a2.9,2.9 0 1,0 5.8,0a2.9,2.9 0 1,0 -5.8,0M786.9,983.2a2.9,2.9 0 1,0 5.8,0a2.9,2.9 0 1,0 -5.8,0M746.1,990.6a2.9,2.9 0 1,0 5.8,0a2.9,2.9 0 1,0 -5.8,0" fill="none" stroke="#8da0cb" stroke-width="1.15"/>
<path d="M160.7,977.8a2.9,2.9 0 1,0 5.8,0a2.9,2.9 0 1,0 -5.8,0M240.9,1023.8a2.9,2.9 0 1,0 5.8,0a2.9,2.9 0 1,0 -5.8,0M558.4,988.9a2.9,2.9 0 1,0 5.8,0a2.9,2.9 0 1,0 -5.8,0" fill="none" stroke="#a6d854" stroke-width="1.15"/>
<path d="M723.4,1027.2a2.9,2.9 0 1,0 5.8,0a2.9,2.9 0 1,0 -5.8,0" fill="none" stroke="#c4a8c8" stroke-width="1.15"/>
<text x="909.0" y="647.0" font-size="37" font-weight="bold" stroke="#000" stroke-width="0.9">e</text>
<text x="1324.5" y="698.7" font-size="28.5" text-anchor="middle">Excitatory neuron</text>
<line x1="992.9" y1="741.6" x2="992.9" y2="978.0" stroke="#000" stroke-width="1.6"/>
<line x1="992.1" y1="977.3" x2="1658.0" y2="977.3" stroke="#000" stroke-width="1.6"/>
<line x1="979.6" y1="966.7" x2="992.9" y2="966.7" stroke="#000" stroke-width="1.6"/>
<text x="968.0" y="974.7" font-size="22.5" text-anchor="end">0</text>
<line x1="979.6" y1="913.2" x2="992.9" y2="913.2" stroke="#000" stroke-width="1.6"/>
<text x="968.0" y="921.2" font-size="22.5" text-anchor="end">2</text>
<line x1="979.6" y1="859.7" x2="992.9" y2="859.7" stroke="#000" stroke-width="1.6"/>
<text x="968.0" y="867.7" font-size="22.5" text-anchor="end">4</text>
<line x1="979.6" y1="806.2" x2="992.9" y2="806.2" stroke="#000" stroke-width="1.6"/>
<text x="968.0" y="814.2" font-size="22.5" text-anchor="end">6</text>
<line x1="979.6" y1="752.7" x2="992.9" y2="752.7" stroke="#000" stroke-width="1.6"/>
<text x="968.0" y="760.7" font-size="22.5" text-anchor="end">8</text>
<line x1="1153.4" y1="977.3" x2="1153.4" y2="988.3" stroke="#000" stroke-width="1.6"/>
<text x="1153.4" y="1018.0" font-size="23" text-anchor="middle">0</text>
<line x1="1319.6" y1="977.3" x2="1319.6" y2="988.3" stroke="#000" stroke-width="1.6"/>
<text x="1319.6" y="1018.0" font-size="23" text-anchor="middle">1</text>
<line x1="1485.8" y1="977.3" x2="1485.8" y2="988.3" stroke="#000" stroke-width="1.6"/>
<text x="1485.8" y="1018.0" font-size="23" text-anchor="middle">2</text>
<line x1="1652.0" y1="977.3" x2="1652.0" y2="988.3" stroke="#000" stroke-width="1.6"/>
<text x="1652.0" y="1018.0" font-size="23" text-anchor="middle">3</text>
<text x="1326.7" y="1064.4" font-size="28.3" text-anchor="middle">Max normalized-state Δ<tspan font-weight="bold" font-style="italic">Ψ</tspan></text>
<text x="931.0" y="859.0" font-size="27.9" text-anchor="middle" transform="rotate(-90 931.0 859.0)">Density</text>
<path d="M1023.76,962.78 L1024.63,963.71 L1025.49,964.82 L1026.35,965.71 L1027.21,966.27 L1028.07,966.55 L1028.94,966.65 L1029.80,966.69 L1030.66,966.70 L1031.52,966.70 L1032.38,966.70 L1033.24,966.70 L1034.11,966.70 L1034.97,966.70 L1035.83,966.70 L1036.69,966.70 L1037.55,966.70 L1038.42,966.70 L1039.28,966.70 L1040.14,966.70 L1041.00,966.70 L1041.86,966.70 L1042.73,966.70 L1043.59,966.70 L1044.45,966.70 L1045.31,966.70 L1046.17,966.70 L1047.03,966.70 L1047.90,966.70 L1048.76,966.70 L1049.62,966.70 L1050.48,966.70 L1051.34,966.70 L1052.21,966.70 L1053.07,966.70 L1053.93,966.70 L1054.79,966.70 L1055.65,966.70 L1056.51,966.70 L1057.38,966.70 L1058.24,966.70 L1059.10,966.70 L1059.96,966.70 L1060.82,966.70 L1061.69,966.70 L1062.55,966.70 L1063.41,966.70 L1064.27,966.70 L1065.13,966.70 L1066.00,966.70 L1066.86,966.70 L1067.72,966.70 L1068.58,966.70 L1069.44,966.70 L1070.30,966.70 L1071.17,966.70 L1072.03,966.70 L1072.89,966.70 L1073.75,966.70 L1074.61,966.70 L1075.48,966.70 L1076.34,966.70 L1077.20,966.70 L1078.06,966.70 L1078.92,966.70 L1079.79,966.70 L1080.65,966.70 L1081.51,966.70 L1082.37,966.70 L1083.23,966.70 L1084.09,966.70 L1084.96,966.70 L1085.82,966.70 L1086.68,966.70 L1087.54,966.70 L1088.40,966.70 L1089.27,966.70 L1090.13,966.70 L1090.99,966.70 L1091.85,966.70 L1092.71,966.70 L1093.58,966.70 L1094.44,966.70 L1095.30,966.70 L1096.16,966.70 L1097.02,966.70 L1097.88,966.70 L1098.75,966.70 L1099.61,966.70 L1100.47,966.70 L1101.33,966.70 L1102.19,966.70 L1103.06,966.70 L1103.92,966.70 L1104.78,966.70 L1105.64,966.70 L1106.50,966.70 L1107.36,966.70 L1108.23,966.70 L1109.09,966.70 L1109.95,966.70 L1110.81,966.70 L1111.67,966.70 L1112.54,966.70 L1113.40,966.70 L1114.26,966.70 L1115.12,966.70 L1115.98,966.70 L1116.85,966.70 L1117.71,966.70 L1118.57,966.70 L1119.43,966.70 L1120.29,966.70 L1121.15,966.70 L1122.02,966.70 L1122.88,966.70 L1123.74,966.70 L1124.60,966.70 L1125.46,966.70 L1126.33,966.70 L1127.19,966.70 L1128.05,966.70 L1128.91,966.70 L1129.77,966.70 L1130.64,966.70 L1131.50,966.70 L1132.36,966.70 L1133.22,966.70 L1134.08,966.70 L1134.94,966.70 L1135.81,966.70 L1136.67,966.70 L1137.53,966.70 L1138.39,966.70 L1139.25,966.70 L1140.12,966.70 L1140.98,966.70 L1141.84,966.70 L1142.70,966.70 L1143.56,966.70 L1144.43,966.70 L1145.29,966.70 L1146.15,966.70 L1147.01,966.70 L1147.87,966.70 L1148.73,966.70 L1149.60,966.70 L1150.46,966.70 L1151.32,966.70 L1152.18,966.70 L1153.04,966.70 L1153.91,966.70 L1154.77,966.70 L1155.63,966.70 L1156.49,966.70 L1157.35,966.70 L1158.22,966.70 L1159.08,966.70 L1159.94,966.70 L1160.80,966.70 L1161.66,966.70 L1162.52,966.70 L1163.39,966.70 L1164.25,966.70 L1165.11,966.70 L1165.97,966.70 L1166.83,966.70 L1167.70,966.70 L1168.56,966.70 L1169.42,966.70 L1170.28,966.70 L1171.14,966.70 L1172.00,966.70 L1172.87,966.70 L1173.73,966.70 L1174.59,966.70 L1175.45,966.70 L1176.31,966.70 L1177.18,966.70 L1178.04,966.70 L1178.90,966.70 L1179.76,966.70 L1180.62,966.70 L1181.49,966.70 L1182.35,966.70 L1183.21,966.70 L1184.07,966.70 L1184.93,966.70 L1185.79,966.70 L1186.66,966.70 L1187.52,966.70 L1188.38,966.70 L1189.24,966.70 L1190.10,966.70 L1190.97,966.70 L1191.83,966.70 L1192.69,966.70 L1193.55,966.70 L1194.41,966.70 L1195.28,966.70 L1196.14,966.70 L1197.00,966.70 L1197.86,966.70 L1198.72,966.70 L1199.58,966.70 L1200.45,966.70 L1201.31,966.70 L1202.17,966.70 L1203.03,966.70 L1203.89,966.70 L1204.76,966.70 L1205.62,966.70 L1206.48,966.70 L1207.34,966.70 L1208.20,966.70 L1209.07,966.70 L1209.93,966.70 L1210.79,966.70 L1211.65,966.70 L1212.51,966.70 L1213.37,966.70 L1214.24,966.70 L1215.10,966.70 L1215.96,966.70 L1216.82,966.70 L1217.68,966.70 L1218.55,966.70 L1219.41,966.70 L1220.27,966.70 L1221.13,966.70 L1221.99,966.70 L1222.85,966.70 L1223.72,966.70 L1224.58,966.70 L1225.44,966.70 L1226.30,966.70 L1227.16,966.70 L1228.03,966.70 L1228.89,966.70 L1229.75,966.70 L1230.61,966.70 L1231.47,966.70 L1232.34,966.70 L1233.20,966.70 L1234.06,966.70 L1234.92,966.70 L1235.78,966.70 L1236.64,966.70 L1237.51,966.70 L1238.37,966.70 L1239.23,966.70 L1240.09,966.70 L1240.95,966.70 L1241.82,966.70 L1242.68,966.70 L1243.54,966.70 L1244.40,966.70 L1245.26,966.70 L1246.13,966.70 L1246.99,966.70 L1247.85,966.69 L1248.71,966.67 L1249.57,966.61 L1250.43,966.48 L1251.30,966.22 L1252.16,965.78 L1253.02,965.14 L1253.88,964.33 L1254.74,963.52 L1255.61,962.91 L1256.47,962.69 L1257.33,962.93 L1258.19,963.56 L1259.05,964.38 L1259.92,965.18 L1260.78,965.81 L1261.64,966.23 L1262.50,966.48 L1263.36,966.59 L1264.22,966.63 L1265.09,966.63 L1265.95,966.61 L1266.81,966.56 L1267.67,966.50 L1268.53,966.40 L1269.40,966.27 L1270.26,966.10 L1271.12,965.88 L1271.98,965.60 L1272.84,965.26 L1273.71,964.85 L1274.57,964.38 L1275.43,963.86 L1276.29,963.29 L1277.15,962.69 L1278.01,962.09 L1278.88,961.52 L1279.74,961.00 L1280.60,960.57 L1281.46,960.25 L1282.32,960.06 L1283.19,960.01 L1284.05,960.11 L1284.91,960.34 L1285.77,960.69 L1286.63,961.13 L1287.49,961.64 L1288.36,962.15 L1289.22,962.61 L1290.08,962.97 L1290.94,963.11 L1291.80,962.96 L1292.67,962.42 L1293.53,961.41 L1294.39,959.92 L1295.25,958.00 L1296.11,955.78 L1296.98,953.47 L1297.84,951.27 L1298.70,949.33 L1299.56,947.65 L1300.42,946.10 L1301.28,944.41 L1302.15,942.22 L1303.01,939.17 L1303.87,934.96 L1304.73,929.40 L1305.59,922.40 L1306.46,913.94 L1307.32,904.10 L1308.18,892.99 L1309.04,880.76 L1309.90,867.62 L1310.77,853.79 L1311.63,839.58 L1312.49,825.29 L1313.35,811.30 L1314.21,797.99 L1315.07,785.76 L1315.94,774.99 L1316.80,766.03 L1317.66,759.20 L1318.52,754.73 L1319.38,752.78 L1320.25,753.43 L1321.11,756.65 L1321.97,762.32 L1322.83,770.25 L1323.69,780.15 L1324.56,791.70 L1325.42,804.52 L1326.28,818.22 L1327.14,832.41 L1328.00,846.71 L1328.86,860.78 L1329.73,874.34 L1330.59,887.13 L1331.45,898.99 L1332.31,909.77 L1333.17,919.42 L1334.04,927.90 L1334.90,935.25 L1335.76,941.52 L1336.62,946.78 L1337.48,951.13 L1338.34,954.68 L1339.21,957.53 L1340.07,959.79 L1340.93,961.56 L1341.79,962.92 L1342.65,963.95 L1343.52,964.73 L1344.38,965.30 L1345.24,965.72 L1346.10,966.02 L1346.96,966.24 L1347.83,966.39 L1348.69,966.49 L1349.55,966.56 L1350.41,966.61 L1351.27,966.64 L1352.13,966.66 L1353.00,966.68 L1353.86,966.69 L1354.72,966.69 L1355.58,966.69 L1356.44,966.70 L1357.31,966.70 L1358.17,966.70 L1359.03,966.70 L1359.89,966.70 L1360.75,966.70 L1361.62,966.70 L1362.48,966.70 L1363.34,966.69 L1364.20,966.68 L1365.06,966.64 L1365.92,966.56 L1366.79,966.38 L1367.65,966.08 L1368.51,965.60 L1369.37,964.94 L1370.23,964.17 L1371.10,963.42 L1371.96,962.88 L1372.82,962.69 L1373.68,962.91 L1374.54,963.48 L1375.41,964.23 L1376.27,965.00 L1377.13,965.64 L1377.99,966.11 L1378.85,966.40 L1379.71,966.57 L1380.58,966.65 L1381.44,966.68 L1382.30,966.69 L1383.16,966.70 L1384.02,966.70 L1384.89,966.70 L1385.75,966.70 L1386.61,966.70 L1387.47,966.70 L1388.33,966.70 L1389.20,966.70 L1390.06,966.70 L1390.92,966.70 L1391.78,966.70 L1392.64,966.70 L1393.50,966.70 L1394.37,966.70 L1395.23,966.70 L1396.09,966.70 L1396.95,966.70 L1397.81,966.70 L1398.68,966.70 L1399.54,966.70 L1400.40,966.70 L1401.26,966.70 L1402.12,966.70 L1402.98,966.70 L1403.85,966.70 L1404.71,966.70 L1405.57,966.70 L1406.43,966.70 L1407.29,966.69 L1408.16,966.67 L1409.02,966.64 L1409.88,966.57 L1410.74,966.43 L1411.60,966.19 L1412.47,965.81 L1413.33,965.23 L1414.19,964.42 L1415.05,963.42 L1415.91,962.27 L1416.77,961.11 L1417.64,960.11 L1418.50,959.44 L1419.36,959.21 L1420.22,959.48 L1421.08,960.19 L1421.95,961.22 L1422.81,962.38 L1423.67,963.52 L1424.53,964.51 L1425.39,965.29 L1426.26,965.85 L1427.12,966.22 L1427.98,966.45 L1428.84,966.58 L1429.70,966.64 L1430.56,966.68 L1431.43,966.69 L1432.29,966.70 L1433.15,966.70 L1434.01,966.70 L1434.87,966.70 L1435.74,966.70 L1436.60,966.70 L1437.46,966.70 L1438.32,966.70 L1439.18,966.70 L1440.05,966.70 L1440.91,966.70 L1441.77,966.70 L1442.63,966.70 L1443.49,966.70 L1444.35,966.70 L1445.22,966.70 L1446.08,966.70 L1446.94,966.70 L1447.80,966.70 L1448.66,966.70 L1449.53,966.70 L1450.39,966.70 L1451.25,966.70 L1452.11,966.70 L1452.97,966.70 L1453.83,966.70 L1454.70,966.70 L1455.56,966.70 L1456.42,966.70 L1457.28,966.70 L1458.14,966.70 L1459.01,966.70 L1459.87,966.70 L1460.73,966.70 L1461.59,966.70 L1462.45,966.70 L1463.32,966.70 L1464.18,966.70 L1465.04,966.70 L1465.90,966.70 L1466.76,966.70 L1467.62,966.70 L1468.49,966.70 L1469.35,966.70 L1470.21,966.70 L1471.07,966.70 L1471.93,966.70 L1472.80,966.70 L1473.66,966.70 L1474.52,966.70 L1475.38,966.70 L1476.24,966.70 L1477.11,966.70 L1477.97,966.70 L1478.83,966.70 L1479.69,966.70 L1480.55,966.70 L1481.41,966.70 L1482.28,966.70 L1483.14,966.70 L1484.00,966.69 L1484.86,966.68 L1485.72,966.65 L1486.59,966.58 L1487.45,966.45 L1488.31,966.21 L1489.17,965.83 L1490.03,965.28 L1490.90,964.60 L1491.76,963.86 L1492.62,963.21 L1493.48,962.79 L1494.34,962.70 L1495.20,962.98 L1496.07,963.54 L1496.93,964.26 L1497.79,964.98 L1498.65,965.60 L1499.51,966.06 L1500.38,966.36 L1501.24,966.53 L1502.10,966.63 L1502.96,966.67 L1503.82,966.69 L1504.69,966.70 L1505.55,966.70 L1506.41,966.70 L1507.27,966.70 L1508.13,966.70 L1508.99,966.70 L1509.86,966.70 L1510.72,966.70 L1511.58,966.70 L1512.44,966.70 L1513.30,966.70 L1514.17,966.70 L1515.03,966.70 L1515.89,966.70 L1516.75,966.70 L1517.61,966.70 L1518.47,966.70 L1519.34,966.70 L1520.20,966.70 L1521.06,966.70 L1521.92,966.70 L1522.78,966.70 L1523.65,966.70 L1524.51,966.70 L1525.37,966.70 L1526.23,966.70 L1527.09,966.70 L1527.96,966.70 L1528.82,966.70 L1529.68,966.70 L1530.54,966.70 L1531.40,966.70 L1532.26,966.70 L1533.13,966.70 L1533.99,966.70 L1534.85,966.70 L1535.71,966.70 L1536.57,966.70 L1537.44,966.70 L1538.30,966.70 L1539.16,966.70 L1540.02,966.70 L1540.88,966.70 L1541.75,966.70 L1542.61,966.70 L1543.47,966.70 L1544.33,966.70 L1545.19,966.70 L1546.05,966.70 L1546.92,966.70 L1547.78,966.70 L1548.64,966.70 L1549.50,966.70 L1550.36,966.70 L1551.23,966.70 L1552.09,966.70 L1552.95,966.70 L1553.81,966.70 L1554.67,966.70 L1555.54,966.70 L1556.40,966.70 L1557.26,966.70 L1558.12,966.70 L1558.98,966.70 L1559.84,966.70 L1560.71,966.70 L1561.57,966.70 L1562.43,966.70 L1563.29,966.70 L1564.15,966.70 L1565.02,966.70 L1565.88,966.70 L1566.74,966.70 L1567.60,966.70 L1568.46,966.70 L1569.32,966.70 L1570.19,966.70 L1571.05,966.70 L1571.91,966.70 L1572.77,966.70 L1573.63,966.70 L1574.50,966.70 L1575.36,966.70 L1576.22,966.70 L1577.08,966.70 L1577.94,966.70 L1578.81,966.70 L1579.67,966.70 L1580.53,966.70 L1581.39,966.70 L1582.25,966.70 L1583.11,966.70 L1583.98,966.70 L1584.84,966.70 L1585.70,966.70 L1586.56,966.70 L1587.42,966.70 L1588.29,966.70 L1589.15,966.70 L1590.01,966.70 L1590.87,966.70 L1591.73,966.70 L1592.60,966.70 L1593.46,966.70 L1594.32,966.70 L1595.18,966.70 L1596.04,966.70 L1596.90,966.70 L1597.77,966.70 L1598.63,966.70 L1599.49,966.70 L1600.35,966.70 L1601.21,966.70 L1602.08,966.70 L1602.94,966.70 L1603.80,966.70 L1604.66,966.70 L1605.52,966.70 L1606.39,966.70 L1607.25,966.70 L1608.11,966.70 L1608.97,966.70 L1609.83,966.70 L1610.69,966.70 L1611.56,966.70 L1612.42,966.70 L1613.28,966.70 L1614.14,966.70 L1615.00,966.70 L1615.87,966.70 L1616.73,966.70 L1617.59,966.70 L1618.45,966.70 L1619.31,966.70 L1620.18,966.70 L1621.04,966.69 L1621.90,966.65 L1622.76,966.55 L1623.62,966.27 L1624.48,965.71 L1625.35,964.82 L1626.21,963.71 L1627.07,962.78 L1627.1,966.7 L1023.8,966.7 Z" fill="#b8c8f6" stroke="none" stroke-width="1"/>
<path d="M1023.76,962.78 L1024.63,963.71 L1025.49,964.82 L1026.35,965.71 L1027.21,966.27 L1028.07,966.55 L1028.94,966.65 L1029.80,966.69 L1030.66,966.70 L1031.52,966.70 L1032.38,966.70 L1033.24,966.70 L1034.11,966.70 L1034.97,966.70 L1035.83,966.70 L1036.69,966.70 L1037.55,966.70 L1038.42,966.70 L1039.28,966.70 L1040.14,966.70 L1041.00,966.70 L1041.86,966.70 L1042.73,966.70 L1043.59,966.70 L1044.45,966.70 L1045.31,966.70 L1046.17,966.70 L1047.03,966.70 L1047.90,966.70 L1048.76,966.70 L1049.62,966.70 L1050.48,966.70 L1051.34,966.70 L1052.21,966.70 L1053.07,966.70 L1053.93,966.70 L1054.79,966.70 L1055.65,966.70 L1056.51,966.70 L1057.38,966.70 L1058.24,966.70 L1059.10,966.70 L1059.96,966.70 L1060.82,966.70 L1061.69,966.70 L1062.55,966.70 L1063.41,966.70 L1064.27,966.70 L1065.13,966.70 L1066.00,966.70 L1066.86,966.70 L1067.72,966.70 L1068.58,966.70 L1069.44,966.70 L1070.30,966.70 L1071.17,966.70 L1072.03,966.70 L1072.89,966.70 L1073.75,966.70 L1074.61,966.70 L1075.48,966.70 L1076.34,966.70 L1077.20,966.70 L1078.06,966.70 L1078.92,966.70 L1079.79,966.70 L1080.65,966.70 L1081.51,966.70 L1082.37,966.70 L1083.23,966.70 L1084.09,966.70 L1084.96,966.70 L1085.82,966.70 L1086.68,966.70 L1087.54,966.70 L1088.40,966.70 L1089.27,966.70 L1090.13,966.70 L1090.99,966.70 L1091.85,966.70 L1092.71,966.70 L1093.58,966.70 L1094.44,966.70 L1095.30,966.70 L1096.16,966.70 L1097.02,966.70 L1097.88,966.70 L1098.75,966.70 L1099.61,966.70 L1100.47,966.70 L1101.33,966.70 L1102.19,966.70 L1103.06,966.70 L1103.92,966.70 L1104.78,966.70 L1105.64,966.70 L1106.50,966.70 L1107.36,966.70 L1108.23,966.70 L1109.09,966.70 L1109.95,966.70 L1110.81,966.70 L1111.67,966.70 L1112.54,966.70 L1113.40,966.70 L1114.26,966.70 L1115.12,966.70 L1115.98,966.70 L1116.85,966.70 L1117.71,966.70 L1118.57,966.70 L1119.43,966.70 L1120.29,966.70 L1121.15,966.70 L1122.02,966.70 L1122.88,966.70 L1123.74,966.70 L1124.60,966.70 L1125.46,966.70 L1126.33,966.70 L1127.19,966.70 L1128.05,966.70 L1128.91,966.70 L1129.77,966.70 L1130.64,966.70 L1131.50,966.70 L1132.36,966.70 L1133.22,966.70 L1134.08,966.70 L1134.94,966.70 L1135.81,966.70 L1136.67,966.70 L1137.53,966.70 L1138.39,966.70 L1139.25,966.70 L1140.12,966.70 L1140.98,966.70 L1141.84,966.70 L1142.70,966.70 L1143.56,966.70 L1144.43,966.70 L1145.29,966.70 L1146.15,966.70 L1147.01,966.70 L1147.87,966.70 L1148.73,966.70 L1149.60,966.70 L1150.46,966.70 L1151.32,966.70 L1152.18,966.70 L1153.04,966.70 L1153.91,966.70 L1154.77,966.70 L1155.63,966.70 L1156.49,966.70 L1157.35,966.70 L1158.22,966.70 L1159.08,966.70 L1159.94,966.70 L1160.80,966.70 L1161.66,966.70 L1162.52,966.70 L1163.39,966.70 L1164.25,966.70 L1165.11,966.70 L1165.97,966.70 L1166.83,966.70 L1167.70,966.70 L1168.56,966.70 L1169.42,966.70 L1170.28,966.70 L1171.14,966.70 L1172.00,966.70 L1172.87,966.70 L1173.73,966.70 L1174.59,966.70 L1175.45,966.70 L1176.31,966.70 L1177.18,966.70 L1178.04,966.70 L1178.90,966.70 L1179.76,966.70 L1180.62,966.70 L1181.49,966.70 L1182.35,966.70 L1183.21,966.70 L1184.07,966.70 L1184.93,966.70 L1185.79,966.70 L1186.66,966.70 L1187.52,966.70 L1188.38,966.70 L1189.24,966.70 L1190.10,966.70 L1190.97,966.70 L1191.83,966.70 L1192.69,966.70 L1193.55,966.70 L1194.41,966.70 L1195.28,966.70 L1196.14,966.70 L1197.00,966.70 L1197.86,966.70 L1198.72,966.70 L1199.58,966.70 L1200.45,966.70 L1201.31,966.70 L1202.17,966.70 L1203.03,966.70 L1203.89,966.70 L1204.76,966.70 L1205.62,966.70 L1206.48,966.70 L1207.34,966.70 L1208.20,966.70 L1209.07,966.70 L1209.93,966.70 L1210.79,966.70 L1211.65,966.70 L1212.51,966.70 L1213.37,966.70 L1214.24,966.70 L1215.10,966.70 L1215.96,966.70 L1216.82,966.70 L1217.68,966.70 L1218.55,966.70 L1219.41,966.70 L1220.27,966.70 L1221.13,966.70 L1221.99,966.70 L1222.85,966.70 L1223.72,966.70 L1224.58,966.70 L1225.44,966.70 L1226.30,966.70 L1227.16,966.70 L1228.03,966.70 L1228.89,966.70 L1229.75,966.70 L1230.61,966.70 L1231.47,966.70 L1232.34,966.70 L1233.20,966.70 L1234.06,966.70 L1234.92,966.70 L1235.78,966.70 L1236.64,966.70 L1237.51,966.70 L1238.37,966.70 L1239.23,966.70 L1240.09,966.70 L1240.95,966.70 L1241.82,966.70 L1242.68,966.70 L1243.54,966.70 L1244.40,966.70 L1245.26,966.70 L1246.13,966.70 L1246.99,966.70 L1247.85,966.69 L1248.71,966.67 L1249.57,966.61 L1250.43,966.48 L1251.30,966.22 L1252.16,965.78 L1253.02,965.14 L1253.88,964.33 L1254.74,963.52 L1255.61,962.91 L1256.47,962.69 L1257.33,962.93 L1258.19,963.56 L1259.05,964.38 L1259.92,965.18 L1260.78,965.81 L1261.64,966.23 L1262.50,966.48 L1263.36,966.59 L1264.22,966.63 L1265.09,966.63 L1265.95,966.61 L1266.81,966.56 L1267.67,966.50 L1268.53,966.40 L1269.40,966.27 L1270.26,966.10 L1271.12,965.88 L1271.98,965.60 L1272.84,965.26 L1273.71,964.85 L1274.57,964.38 L1275.43,963.86 L1276.29,963.29 L1277.15,962.69 L1278.01,962.09 L1278.88,961.52 L1279.74,961.00 L1280.60,960.57 L1281.46,960.25 L1282.32,960.06 L1283.19,960.01 L1284.05,960.11 L1284.91,960.34 L1285.77,960.69 L1286.63,961.13 L1287.49,961.64 L1288.36,962.15 L1289.22,962.61 L1290.08,962.97 L1290.94,963.11 L1291.80,962.96 L1292.67,962.42 L1293.53,961.41 L1294.39,959.92 L1295.25,958.00 L1296.11,955.78 L1296.98,953.47 L1297.84,951.27 L1298.70,949.33 L1299.56,947.65 L1300.42,946.10 L1301.28,944.41 L1302.15,942.22 L1303.01,939.17 L1303.87,934.96 L1304.73,929.40 L1305.59,922.40 L1306.46,913.94 L1307.32,904.10 L1308.18,892.99 L1309.04,880.76 L1309.90,867.62 L1310.77,853.79 L1311.63,839.58 L1312.49,825.29 L1313.35,811.30 L1314.21,797.99 L1315.07,785.76 L1315.94,774.99 L1316.80,766.03 L1317.66,759.20 L1318.52,754.73 L1319.38,752.78 L1320.25,753.43 L1321.11,756.65 L1321.97,762.32 L1322.83,770.25 L1323.69,780.15 L1324.56,791.70 L1325.42,804.52 L1326.28,818.22 L1327.14,832.41 L1328.00,846.71 L1328.86,860.78 L1329.73,874.34 L1330.59,887.13 L1331.45,898.99 L1332.31,909.77 L1333.17,919.42 L1334.04,927.90 L1334.90,935.25 L1335.76,941.52 L1336.62,946.78 L1337.48,951.13 L1338.34,954.68 L1339.21,957.53 L1340.07,959.79 L1340.93,961.56 L1341.79,962.92 L1342.65,963.95 L1343.52,964.73 L1344.38,965.30 L1345.24,965.72 L1346.10,966.02 L1346.96,966.24 L1347.83,966.39 L1348.69,966.49 L1349.55,966.56 L1350.41,966.61 L1351.27,966.64 L1352.13,966.66 L1353.00,966.68 L1353.86,966.69 L1354.72,966.69 L1355.58,966.69 L1356.44,966.70 L1357.31,966.70 L1358.17,966.70 L1359.03,966.70 L1359.89,966.70 L1360.75,966.70 L1361.62,966.70 L1362.48,966.70 L1363.34,966.69 L1364.20,966.68 L1365.06,966.64 L1365.92,966.56 L1366.79,966.38 L1367.65,966.08 L1368.51,965.60 L1369.37,964.94 L1370.23,964.17 L1371.10,963.42 L1371.96,962.88 L1372.82,962.69 L1373.68,962.91 L1374.54,963.48 L1375.41,964.23 L1376.27,965.00 L1377.13,965.64 L1377.99,966.11 L1378.85,966.40 L1379.71,966.57 L1380.58,966.65 L1381.44,966.68 L1382.30,966.69 L1383.16,966.70 L1384.02,966.70 L1384.89,966.70 L1385.75,966.70 L1386.61,966.70 L1387.47,966.70 L1388.33,966.70 L1389.20,966.70 L1390.06,966.70 L1390.92,966.70 L1391.78,966.70 L1392.64,966.70 L1393.50,966.70 L1394.37,966.70 L1395.23,966.70 L1396.09,966.70 L1396.95,966.70 L1397.81,966.70 L1398.68,966.70 L1399.54,966.70 L1400.40,966.70 L1401.26,966.70 L1402.12,966.70 L1402.98,966.70 L1403.85,966.70 L1404.71,966.70 L1405.57,966.70 L1406.43,966.70 L1407.29,966.69 L1408.16,966.67 L1409.02,966.64 L1409.88,966.57 L1410.74,966.43 L1411.60,966.19 L1412.47,965.81 L1413.33,965.23 L1414.19,964.42 L1415.05,963.42 L1415.91,962.27 L1416.77,961.11 L1417.64,960.11 L1418.50,959.44 L1419.36,959.21 L1420.22,959.48 L1421.08,960.19 L1421.95,961.22 L1422.81,962.38 L1423.67,963.52 L1424.53,964.51 L1425.39,965.29 L1426.26,965.85 L1427.12,966.22 L1427.98,966.45 L1428.84,966.58 L1429.70,966.64 L1430.56,966.68 L1431.43,966.69 L1432.29,966.70 L1433.15,966.70 L1434.01,966.70 L1434.87,966.70 L1435.74,966.70 L1436.60,966.70 L1437.46,966.70 L1438.32,966.70 L1439.18,966.70 L1440.05,966.70 L1440.91,966.70 L1441.77,966.70 L1442.63,966.70 L1443.49,966.70 L1444.35,966.70 L1445.22,966.70 L1446.08,966.70 L1446.94,966.70 L1447.80,966.70 L1448.66,966.70 L1449.53,966.70 L1450.39,966.70 L1451.25,966.70 L1452.11,966.70 L1452.97,966.70 L1453.83,966.70 L1454.70,966.70 L1455.56,966.70 L1456.42,966.70 L1457.28,966.70 L1458.14,966.70 L1459.01,966.70 L1459.87,966.70 L1460.73,966.70 L1461.59,966.70 L1462.45,966.70 L1463.32,966.70 L1464.18,966.70 L1465.04,966.70 L1465.90,966.70 L1466.76,966.70 L1467.62,966.70 L1468.49,966.70 L1469.35,966.70 L1470.21,966.70 L1471.07,966.70 L1471.93,966.70 L1472.80,966.70 L1473.66,966.70 L1474.52,966.70 L1475.38,966.70 L1476.24,966.70 L1477.11,966.70 L1477.97,966.70 L1478.83,966.70 L1479.69,966.70 L1480.55,966.70 L1481.41,966.70 L1482.28,966.70 L1483.14,966.70 L1484.00,966.69 L1484.86,966.68 L1485.72,966.65 L1486.59,966.58 L1487.45,966.45 L1488.31,966.21 L1489.17,965.83 L1490.03,965.28 L1490.90,964.60 L1491.76,963.86 L1492.62,963.21 L1493.48,962.79 L1494.34,962.70 L1495.20,962.98 L1496.07,963.54 L1496.93,964.26 L1497.79,964.98 L1498.65,965.60 L1499.51,966.06 L1500.38,966.36 L1501.24,966.53 L1502.10,966.63 L1502.96,966.67 L1503.82,966.69 L1504.69,966.70 L1505.55,966.70 L1506.41,966.70 L1507.27,966.70 L1508.13,966.70 L1508.99,966.70 L1509.86,966.70 L1510.72,966.70 L1511.58,966.70 L1512.44,966.70 L1513.30,966.70 L1514.17,966.70 L1515.03,966.70 L1515.89,966.70 L1516.75,966.70 L1517.61,966.70 L1518.47,966.70 L1519.34,966.70 L1520.20,966.70 L1521.06,966.70 L1521.92,966.70 L1522.78,966.70 L1523.65,966.70 L1524.51,966.70 L1525.37,966.70 L1526.23,966.70 L1527.09,966.70 L1527.96,966.70 L1528.82,966.70 L1529.68,966.70 L1530.54,966.70 L1531.40,966.70 L1532.26,966.70 L1533.13,966.70 L1533.99,966.70 L1534.85,966.70 L1535.71,966.70 L1536.57,966.70 L1537.44,966.70 L1538.30,966.70 L1539.16,966.70 L1540.02,966.70 L1540.88,966.70 L1541.75,966.70 L1542.61,966.70 L1543.47,966.70 L1544.33,966.70 L1545.19,966.70 L1546.05,966.70 L1546.92,966.70 L1547.78,966.70 L1548.64,966.70 L1549.50,966.70 L1550.36,966.70 L1551.23,966.70 L1552.09,966.70 L1552.95,966.70 L1553.81,966.70 L1554.67,966.70 L1555.54,966.70 L1556.40,966.70 L1557.26,966.70 L1558.12,966.70 L1558.98,966.70 L1559.84,966.70 L1560.71,966.70 L1561.57,966.70 L1562.43,966.70 L1563.29,966.70 L1564.15,966.70 L1565.02,966.70 L1565.88,966.70 L1566.74,966.70 L1567.60,966.70 L1568.46,966.70 L1569.32,966.70 L1570.19,966.70 L1571.05,966.70 L1571.91,966.70 L1572.77,966.70 L1573.63,966.70 L1574.50,966.70 L1575.36,966.70 L1576.22,966.70 L1577.08,966.70 L1577.94,966.70 L1578.81,966.70 L1579.67,966.70 L1580.53,966.70 L1581.39,966.70 L1582.25,966.70 L1583.11,966.70 L1583.98,966.70 L1584.84,966.70 L1585.70,966.70 L1586.56,966.70 L1587.42,966.70 L1588.29,966.70 L1589.15,966.70 L1590.01,966.70 L1590.87,966.70 L1591.73,966.70 L1592.60,966.70 L1593.46,966.70 L1594.32,966.70 L1595.18,966.70 L1596.04,966.70 L1596.90,966.70 L1597.77,966.70 L1598.63,966.70 L1599.49,966.70 L1600.35,966.70 L1601.21,966.70 L1602.08,966.70 L1602.94,966.70 L1603.80,966.70 L1604.66,966.70 L1605.52,966.70 L1606.39,966.70 L1607.25,966.70 L1608.11,966.70 L1608.97,966.70 L1609.83,966.70 L1610.69,966.70 L1611.56,966.70 L1612.42,966.70 L1613.28,966.70 L1614.14,966.70 L1615.00,966.70 L1615.87,966.70 L1616.73,966.70 L1617.59,966.70 L1618.45,966.70 L1619.31,966.70 L1620.18,966.70 L1621.04,966.69 L1621.90,966.65 L1622.76,966.55 L1623.62,966.27 L1624.48,965.71 L1625.35,964.82 L1626.21,963.71 L1627.07,962.78" fill="none" stroke="#8a8a8a" stroke-width="2.8" stroke-linejoin="round"/>
<path d="M1023.76,962.78 L1024.63,963.71 L1025.49,964.82 L1026.35,965.71 L1027.21,966.27 L1028.07,966.55 L1028.94,966.65 L1029.80,966.69 L1030.66,966.70 L1031.52,966.70 L1032.38,966.70 L1033.24,966.70 L1034.11,966.70 L1034.97,966.70 L1035.83,966.70 L1036.69,966.70 L1037.55,966.70 L1038.42,966.70 L1039.28,966.70 L1040.14,966.70 L1041.00,966.70 L1041.86,966.70 L1042.73,966.70 L1043.59,966.70 L1044.45,966.70 L1045.31,966.70 L1046.17,966.70 L1047.03,966.70 L1047.90,966.70 L1048.76,966.70 L1049.62,966.70 L1050.48,966.70 L1051.34,966.70 L1052.21,966.70 L1053.07,966.70 L1053.93,966.70 L1054.79,966.70 L1055.65,966.70 L1056.51,966.70 L1057.38,966.70 L1058.24,966.70 L1059.10,966.70 L1059.96,966.70 L1060.82,966.70 L1061.69,966.70 L1062.55,966.70 L1063.41,966.70 L1064.27,966.70 L1065.13,966.70 L1066.00,966.70 L1066.86,966.70 L1067.72,966.70 L1068.58,966.70 L1069.44,966.70 L1070.30,966.70 L1071.17,966.70 L1072.03,966.70 L1072.89,966.70 L1073.75,966.70 L1074.61,966.70 L1075.48,966.70 L1076.34,966.70 L1077.20,966.70 L1078.06,966.70 L1078.92,966.70 L1079.79,966.70 L1080.65,966.70 L1081.51,966.70 L1082.37,966.70 L1083.23,966.70 L1084.09,966.70 L1084.96,966.70 L1085.82,966.70 L1086.68,966.70 L1087.54,966.70 L1088.40,966.70 L1089.27,966.70 L1090.13,966.70 L1090.99,966.70 L1091.85,966.70 L1092.71,966.70 L1093.58,966.70 L1094.44,966.70 L1095.30,966.70 L1096.16,966.70 L1097.02,966.70 L1097.88,966.70 L1098.75,966.70 L1099.61,966.70 L1100.47,966.70 L1101.33,966.70 L1102.19,966.70 L1103.06,966.70 L1103.92,966.70 L1104.78,966.70 L1105.64,966.70 L1106.50,966.70 L1107.36,966.70 L1108.23,966.70 L1109.09,966.70 L1109.95,966.70 L1110.81,966.70 L1111.67,966.70 L1112.54,966.70 L1113.40,966.70 L1114.26,966.70 L1115.12,966.70 L1115.98,966.70 L1116.85,966.70 L1117.71,966.70 L1118.57,966.70 L1119.43,966.70 L1120.29,966.70 L1121.15,966.70 L1122.02,966.70 L1122.88,966.70 L1123.74,966.70 L1124.60,966.70 L1125.46,966.70 L1126.33,966.70 L1127.19,966.70 L1128.05,966.70 L1128.91,966.70 L1129.77,966.70 L1130.64,966.70 L1131.50,966.70 L1132.36,966.70 L1133.22,966.70 L1134.08,966.70 L1134.94,966.70 L1135.81,966.70 L1136.67,966.70 L1137.53,966.70 L1138.39,966.70 L1139.25,966.70 L1140.12,966.70 L1140.98,966.70 L1141.84,966.70 L1142.70,966.70 L1143.56,966.70 L1144.43,966.70 L1145.29,966.70 L1146.15,966.70 L1147.01,966.70 L1147.87,966.70 L1148.73,966.70 L1149.60,966.70 L1150.46,966.70 L1151.32,966.70 L1152.18,966.70 L1153.04,966.70 L1153.91,966.70 L1154.77,966.70 L1155.63,966.70 L1156.49,966.70 L1157.35,966.70 L1158.22,966.70 L1159.08,966.70 L1159.94,966.70 L1160.80,966.70 L1161.66,966.70 L1162.52,966.70 L1163.39,966.70 L1164.25,966.70 L1165.11,966.70 L1165.97,966.70 L1166.83,966.70 L1167.70,966.70 L1168.56,966.70 L1169.42,966.70 L1170.28,966.70 L1171.14,966.70 L1172.00,966.70 L1172.87,966.70 L1173.73,966.70 L1174.59,966.70 L1175.45,966.70 L1176.31,966.70 L1177.18,966.70 L1178.04,966.70 L1178.90,966.70 L1179.76,966.70 L1180.62,966.70 L1181.49,966.70 L1182.35,966.70 L1183.21,966.70 L1184.07,966.70 L1184.93,966.70 L1185.79,966.70 L1186.66,966.70 L1187.52,966.70 L1188.38,966.70 L1189.24,966.70 L1190.10,966.70 L1190.97,966.70 L1191.83,966.70 L1192.69,966.70 L1193.55,966.70 L1194.41,966.70 L1195.28,966.70 L1196.14,966.70 L1197.00,966.70 L1197.86,966.70 L1198.72,966.70 L1199.58,966.70 L1200.45,966.70 L1201.31,966.70 L1202.17,966.70 L1203.03,966.70 L1203.89,966.70 L1204.76,966.70 L1205.62,966.70 L1206.48,966.70 L1207.34,966.70 L1208.20,966.70 L1209.07,966.70 L1209.93,966.70 L1210.79,966.70 L1211.65,966.70 L1212.51,966.70 L1213.37,966.70 L1214.24,966.70 L1215.10,966.70 L1215.96,966.70 L1216.82,966.70 L1217.68,966.70 L1218.55,966.70 L1219.41,966.70 L1220.27,966.70 L1221.13,966.70 L1221.99,966.70 L1222.85,966.70 L1223.72,966.70 L1224.58,966.70 L1225.44,966.70 L1226.30,966.70 L1227.16,966.70 L1228.03,966.70 L1228.89,966.70 L1229.75,966.70 L1230.61,966.70 L1231.47,966.70 L1232.34,966.70 L1233.20,966.70 L1234.06,966.70 L1234.92,966.70 L1235.78,966.70 L1236.64,966.70 L1237.51,966.70 L1238.37,966.70 L1239.23,966.70 L1240.09,966.70 L1240.95,966.70 L1241.82,966.70 L1242.68,966.70 L1243.54,966.70 L1244.40,966.70 L1245.26,966.70 L1246.13,966.70 L1246.99,966.70 L1247.85,966.69 L1248.71,966.67 L1249.57,966.61 L1250.43,966.48 L1251.30,966.22 L1252.16,965.78 L1253.02,965.14 L1253.88,964.33 L1254.74,963.52 L1255.61,962.91 L1256.47,962.69 L1257.33,962.93 L1258.19,963.56 L1259.05,964.38 L1259.92,965.18 L1260.78,965.81 L1261.64,966.23 L1262.50,966.48 L1263.36,966.59 L1264.22,966.63 L1265.09,966.63 L1265.95,966.61 L1266.81,966.56 L1267.67,966.50 L1268.53,966.40 L1269.40,966.27 L1270.26,966.10 L1271.12,965.88 L1271.98,965.60 L1272.84,965.26 L1273.71,964.85 L1274.57,964.38 L1275.43,963.86 L1276.29,963.29 L1277.15,962.69 L1278.01,962.09 L1278.88,961.52 L1279.74,961.00 L1280.60,960.57 L1281.46,960.25 L1282.32,960.06 L1283.19,960.01 L1284.05,960.11 L1284.91,960.34 L1285.77,960.69 L1286.63,961.13 L1287.49,961.64 L1288.36,962.15 L1289.22,962.61 L1290.08,962.97 L1290.94,963.11 L1291.80,962.96 L1292.67,962.42 L1293.53,961.41 L1294.39,959.92 L1295.25,958.00 L1296.11,955.78 L1296.98,953.47 L1297.84,951.27 L1298.70,949.33 L1299.56,947.65 L1300.42,946.10 L1301.28,944.41 L1302.15,942.22 L1303.01,939.17 L1303.87,934.96 L1304.73,929.40 L1305.59,922.40 L1306.46,913.94 L1307.32,904.10 L1308.18,892.99 L1309.04,880.76 L1309.90,867.62 L1310.77,853.79 L1311.63,839.58 L1312.49,825.29 L1313.35,811.30 L1314.21,797.99 L1315.07,785.76 L1315.94,774.99 L1316.80,766.03 L1317.66,759.20 L1318.52,754.73 L1319.38,752.78 L1320.25,753.43 L1321.11,756.65 L1321.97,762.32 L1322.83,770.25 L1323.69,780.15 L1324.56,791.70 L1325.42,804.52 L1326.28,818.22 L1327.14,832.41 L1328.00,846.71 L1328.86,860.78 L1329.73,874.34 L1330.59,887.13 L1331.45,898.99 L1332.31,909.77 L1333.17,919.42 L1334.04,927.90 L1334.90,935.25 L1335.76,941.52 L1336.62,946.78 L1337.48,951.13 L1338.34,954.68 L1339.21,957.53 L1340.07,959.79 L1340.93,961.56 L1341.79,962.92 L1342.65,963.95 L1343.52,964.73 L1344.38,965.30 L1345.24,965.72 L1346.10,966.02 L1346.96,966.24 L1347.83,966.39 L1348.69,966.49 L1349.55,966.56 L1350.41,966.61 L1351.27,966.64 L1352.13,966.66 L1353.00,966.68 L1353.86,966.69 L1354.72,966.69 L1355.58,966.69 L1356.44,966.70 L1357.31,966.70 L1358.17,966.70 L1359.03,966.70 L1359.89,966.70 L1360.75,966.70 L1361.62,966.70 L1362.48,966.70 L1363.34,966.69 L1364.20,966.68 L1365.06,966.64 L1365.92,966.56 L1366.79,966.38 L1367.65,966.08 L1368.51,965.60 L1369.37,964.94 L1370.23,964.17 L1371.10,963.42 L1371.96,962.88 L1372.82,962.69 L1373.68,962.91 L1374.54,963.48 L1375.41,964.23 L1376.27,965.00 L1377.13,965.64 L1377.99,966.11 L1378.85,966.40 L1379.71,966.57 L1380.58,966.65 L1381.44,966.68 L1382.30,966.69 L1383.16,966.70 L1384.02,966.70 L1384.89,966.70 L1385.75,966.70 L1386.61,966.70 L1387.47,966.70 L1388.33,966.70 L1389.20,966.70 L1390.06,966.70 L1390.92,966.70 L1391.78,966.70 L1392.64,966.70 L1393.50,966.70 L1394.37,966.70 L1395.23,966.70 L1396.09,966.70 L1396.95,966.70 L1397.81,966.70 L1398.68,966.70 L1399.54,966.70 L1400.40,966.70 L1401.26,966.70 L1402.12,966.70 L1402.98,966.70 L1403.85,966.70 L1404.71,966.70 L1405.57,966.70 L1406.43,966.70 L1407.29,966.69 L1408.16,966.67 L1409.02,966.64 L1409.88,966.57 L1410.74,966.43 L1411.60,966.19 L1412.47,965.81 L1413.33,965.23 L1414.19,964.42 L1415.05,963.42 L1415.91,962.27 L1416.77,961.11 L1417.64,960.11 L1418.50,959.44 L1419.36,959.21 L1420.22,959.48 L1421.08,960.19 L1421.95,961.22 L1422.81,962.38 L1423.67,963.52 L1424.53,964.51 L1425.39,965.29 L1426.26,965.85 L1427.12,966.22 L1427.98,966.45 L1428.84,966.58 L1429.70,966.64 L1430.56,966.68 L1431.43,966.69 L1432.29,966.70 L1433.15,966.70 L1434.01,966.70 L1434.87,966.70 L1435.74,966.70 L1436.60,966.70 L1437.46,966.70 L1438.32,966.70 L1439.18,966.70 L1440.05,966.70 L1440.91,966.70 L1441.77,966.70 L1442.63,966.70 L1443.49,966.70 L1444.35,966.70 L1445.22,966.70 L1446.08,966.70 L1446.94,966.70 L1447.80,966.70 L1448.66,966.70 L1449.53,966.70 L1450.39,966.70 L1451.25,966.70 L1452.11,966.70 L1452.97,966.70 L1453.83,966.70 L1454.70,966.70 L1455.56,966.70 L1456.42,966.70 L1457.28,966.70 L1458.14,966.70 L1459.01,966.70 L1459.87,966.70 L1460.73,966.70 L1461.59,966.70 L1462.45,966.70 L1463.32,966.70 L1464.18,966.70 L1465.04,966.70 L1465.90,966.70 L1466.76,966.70 L1467.62,966.70 L1468.49,966.70 L1469.35,966.70 L1470.21,966.70 L1471.07,966.70 L1471.93,966.70 L1472.80,966.70 L1473.66,966.70 L1474.52,966.70 L1475.38,966.70 L1476.24,966.70 L1477.11,966.70 L1477.97,966.70 L1478.83,966.70 L1479.69,966.70 L1480.55,966.70 L1481.41,966.70 L1482.28,966.70 L1483.14,966.70 L1484.00,966.69 L1484.86,966.68 L1485.72,966.65 L1486.59,966.58 L1487.45,966.45 L1488.31,966.21 L1489.17,965.83 L1490.03,965.28 L1490.90,964.60 L1491.76,963.86 L1492.62,963.21 L1493.48,962.79 L1494.34,962.70 L1495.20,962.98 L1496.07,963.54 L1496.93,964.26 L1497.79,964.98 L1498.65,965.60 L1499.51,966.06 L1500.38,966.36 L1501.24,966.53 L1502.10,966.63 L1502.96,966.67 L1503.82,966.69 L1504.69,966.70 L1505.55,966.70 L1506.41,966.70 L1507.27,966.70 L1508.13,966.70 L1508.99,966.70 L1509.86,966.70 L1510.72,966.70 L1511.58,966.70 L1512.44,966.70 L1513.30,966.70 L1514.17,966.70 L1515.03,966.70 L1515.89,966.70 L1516.75,966.70 L1517.61,966.70 L1518.47,966.70 L1519.34,966.70 L1520.20,966.70 L1521.06,966.70 L1521.92,966.70 L1522.78,966.70 L1523.65,966.70 L1524.51,966.70 L1525.37,966.70 L1526.23,966.70 L1527.09,966.70 L1527.96,966.70 L1528.82,966.70 L1529.68,966.70 L1530.54,966.70 L1531.40,966.70 L1532.26,966.70 L1533.13,966.70 L1533.99,966.70 L1534.85,966.70 L1535.71,966.70 L1536.57,966.70 L1537.44,966.70 L1538.30,966.70 L1539.16,966.70 L1540.02,966.70 L1540.88,966.70 L1541.75,966.70 L1542.61,966.70 L1543.47,966.70 L1544.33,966.70 L1545.19,966.70 L1546.05,966.70 L1546.92,966.70 L1547.78,966.70 L1548.64,966.70 L1549.50,966.70 L1550.36,966.70 L1551.23,966.70 L1552.09,966.70 L1552.95,966.70 L1553.81,966.70 L1554.67,966.70 L1555.54,966.70 L1556.40,966.70 L1557.26,966.70 L1558.12,966.70 L1558.98,966.70 L1559.84,966.70 L1560.71,966.70 L1561.57,966.70 L1562.43,966.70 L1563.29,966.70 L1564.15,966.70 L1565.02,966.70 L1565.88,966.70 L1566.74,966.70 L1567.60,966.70 L1568.46,966.70 L1569.32,966.70 L1570.19,966.70 L1571.05,966.70 L1571.91,966.70 L1572.77,966.70 L1573.63,966.70 L1574.50,966.70 L1575.36,966.70 L1576.22,966.70 L1577.08,966.70 L1577.94,966.70 L1578.81,966.70 L1579.67,966.70 L1580.53,966.70 L1581.39,966.70 L1582.25,966.70 L1583.11,966.70 L1583.98,966.70 L1584.84,966.70 L1585.70,966.70 L1586.56,966.70 L1587.42,966.70 L1588.29,966.70 L1589.15,966.70 L1590.01,966.70 L1590.87,966.70 L1591.73,966.70 L1592.60,966.70 L1593.46,966.70 L1594.32,966.70 L1595.18,966.70 L1596.04,966.70 L1596.90,966.70 L1597.77,966.70 L1598.63,966.70 L1599.49,966.70 L1600.35,966.70 L1601.21,966.70 L1602.08,966.70 L1602.94,966.70 L1603.80,966.70 L1604.66,966.70 L1605.52,966.70 L1606.39,966.70 L1607.25,966.70 L1608.11,966.70 L1608.97,966.70 L1609.83,966.70 L1610.69,966.70 L1611.56,966.70 L1612.42,966.70 L1613.28,966.70 L1614.14,966.70 L1615.00,966.70 L1615.87,966.70 L1616.73,966.70 L1617.59,966.70 L1618.45,966.70 L1619.31,966.70 L1620.18,966.70 L1621.04,966.69 L1621.90,966.65 L1622.76,966.55 L1623.62,966.27 L1624.48,965.71 L1625.35,964.82 L1626.21,963.71 L1627.07,962.78" fill="none" stroke="#2a2a2a" stroke-width="1.0" stroke-linejoin="round"/>
<text x="1678.7" y="646.0" font-size="37" font-weight="bold" stroke="#000" stroke-width="0.9">f</text>
<text x="1847.5" y="678.6" font-size="28.5" text-anchor="middle">Excitatory neuron</text>
<path d="M1847.2,856.3 L1847.20,697.80 A158.5,158.5 0 1,1 1835.04,1014.33 Z" fill="#cbd5e8" stroke="none" stroke-width="1"/>
<path d="M1847.2,856.3 L1835.04,1014.33 A158.5,158.5 0 0,1 1770.12,717.81 Z" fill="#fdcdac" stroke="none" stroke-width="1"/>
<path d="M1847.2,856.3 L1770.12,717.81 A158.5,158.5 0 0,1 1847.20,697.80 Z" fill="#b3e2cd" stroke="none" stroke-width="1"/>
<rect x="2020.5" y="806.5" width="23.5" height="23.0" fill="#b3e2cd"/>
<text x="2058.3" y="824.0" font-size="24">(−Inf, 0.9)</text>
<rect x="2020.5" y="844.8" width="23.5" height="23.0" fill="#fdcdac"/>
<text x="2058.3" y="862.6" font-size="24">[0.9, 1)</text>
<rect x="2020.5" y="883.0" width="23.5" height="23.0" fill="#cbd5e8"/>
<text x="2058.3" y="901.0" font-size="24">[1, Inf)</text>
<text x="1848.6" y="1060.8" font-size="28.3" text-anchor="middle">Max normalized-state Δ<tspan font-weight="bold" font-style="italic">Ψ</tspan></text>
<text x="0.0" y="1254.0" font-size="37" font-weight="bold" stroke="#000" stroke-width="0.9">g</text>
<line x1="140.6" y1="1257.0" x2="140.6" y2="1662.8" stroke="#000" stroke-width="1.6"/>
<line x1="139.8" y1="1662.0" x2="589.8" y2="1662.0" stroke="#000" stroke-width="1.6"/>
<line x1="128.3" y1="1644.2" x2="140.6" y2="1644.2" stroke="#000" stroke-width="1.6"/>
<text x="118.0" y="1652.2" font-size="22.5" text-anchor="end">0</text>
<line x1="128.3" y1="1520.1" x2="140.6" y2="1520.1" stroke="#000" stroke-width="1.6"/>
<text x="118.0" y="1528.1" font-size="22.5" text-anchor="end">2</text>
<line x1="128.3" y1="1396.1" x2="140.6" y2="1396.1" stroke="#000" stroke-width="1.6"/>
<text x="118.0" y="1404.1" font-size="22.5" text-anchor="end">4</text>
<line x1="128.3" y1="1272.0" x2="140.6" y2="1272.0" stroke="#000" stroke-width="1.6"/>
<text x="118.0" y="1280.0" font-size="22.5" text-anchor="end">6</text>
<line x1="224.3" y1="1662.0" x2="224.3" y2="1673.4" stroke="#000" stroke-width="1.6"/>
<line x1="365.5" y1="1662.0" x2="365.5" y2="1673.4" stroke="#000" stroke-width="1.6"/>
<line x1="506.0" y1="1662.0" x2="506.0" y2="1673.4" stroke="#000" stroke-width="1.6"/>
<line x1="171.5" y1="1644.2" x2="277.7" y2="1644.2" stroke="#555" stroke-width="1.8"/>
<path d="M429.12,1644.20 C428.76,1643.79 429.41,1643.02 427.01,1641.72 C424.61,1640.42 419.10,1638.17 414.71,1636.40 C410.31,1634.63 405.33,1633.15 400.65,1631.09 C395.96,1629.02 390.69,1626.36 386.59,1624.00 C382.49,1621.63 378.56,1619.27 376.04,1616.91 C373.53,1614.54 371.77,1612.18 371.47,1609.82 C371.18,1607.45 372.65,1605.09 374.29,1602.73 C375.93,1600.37 379.15,1598.00 381.32,1595.64 C383.48,1593.28 385.94,1590.91 387.29,1588.55 C388.64,1586.19 389.40,1583.82 389.40,1581.46 C389.40,1579.10 388.64,1576.73 387.29,1574.37 C385.94,1572.01 383.48,1569.65 381.32,1567.28 C379.15,1564.92 376.45,1562.56 374.29,1560.19 C372.12,1557.83 369.60,1555.47 368.31,1553.10 C367.02,1550.74 366.61,1548.97 366.55,1546.02 C366.50,1543.06 367.43,1538.93 367.96,1535.38 C368.49,1531.84 369.31,1527.29 369.72,1524.75 C370.13,1522.21 370.30,1520.91 370.42,1520.14 L360.58,1520.14 C360.70,1520.91 360.87,1522.21 361.28,1524.75 C361.69,1527.29 362.51,1531.84 363.04,1535.38 C363.57,1538.93 364.50,1543.06 364.45,1546.02 C364.39,1548.97 363.98,1550.74 362.69,1553.10 C361.40,1555.47 358.88,1557.83 356.71,1560.19 C354.55,1562.56 351.85,1564.92 349.68,1567.28 C347.52,1569.65 345.06,1572.01 343.71,1574.37 C342.36,1576.73 341.60,1579.10 341.60,1581.46 C341.60,1583.82 342.36,1586.19 343.71,1588.55 C345.06,1590.91 347.52,1593.28 349.68,1595.64 C351.85,1598.00 355.07,1600.37 356.71,1602.73 C358.35,1605.09 359.82,1607.45 359.53,1609.82 C359.23,1612.18 357.47,1614.54 354.96,1616.91 C352.44,1619.27 348.51,1621.63 344.41,1624.00 C340.31,1626.36 335.04,1629.02 330.35,1631.09 C325.67,1633.15 320.69,1634.63 316.29,1636.40 C311.90,1638.17 306.39,1640.42 303.99,1641.72 C301.59,1643.02 302.24,1643.79 301.88,1644.20 Z" fill="#9dd1f3" stroke="#111" stroke-width="1.7" stroke-linejoin="round"/>
<path d="M530.08,1644.20 C529.58,1642.60 528.46,1638.00 527.09,1634.63 C525.71,1631.26 523.46,1627.54 521.82,1624.00 C520.18,1620.45 517.77,1616.32 517.25,1613.36 C516.72,1610.41 516.43,1609.23 518.65,1606.27 C520.88,1603.32 527.15,1598.59 530.60,1595.64 C534.06,1592.69 537.40,1590.91 539.39,1588.55 C541.38,1586.19 542.38,1583.82 542.55,1581.46 C542.73,1579.10 541.85,1576.73 540.44,1574.37 C539.04,1572.01 536.93,1570.24 534.12,1567.28 C531.31,1564.33 526.80,1560.19 523.57,1556.65 C520.35,1553.10 516.54,1549.56 514.79,1546.02 C513.03,1542.47 512.85,1539.52 513.03,1535.38 C513.21,1531.25 515.84,1525.93 515.84,1521.20 C515.84,1516.48 514.08,1511.75 513.03,1507.03 C511.97,1502.30 510.45,1496.98 509.51,1492.85 C508.58,1488.71 507.87,1486.94 507.41,1482.21 C506.94,1477.49 506.82,1473.35 506.70,1464.49 C506.59,1455.63 506.73,1440.45 506.70,1429.04 C506.67,1417.64 506.56,1401.57 506.53,1396.08 L505.47,1396.08 C505.44,1401.57 505.33,1417.64 505.30,1429.04 C505.27,1440.45 505.41,1455.63 505.30,1464.49 C505.18,1473.35 505.06,1477.49 504.59,1482.21 C504.13,1486.94 503.42,1488.71 502.49,1492.85 C501.55,1496.98 500.03,1502.30 498.97,1507.03 C497.92,1511.75 496.16,1516.48 496.16,1521.20 C496.16,1525.93 498.79,1531.25 498.97,1535.38 C499.15,1539.52 498.97,1542.47 497.21,1546.02 C495.46,1549.56 491.65,1553.10 488.43,1556.65 C485.20,1560.19 480.69,1564.33 477.88,1567.28 C475.07,1570.24 472.96,1572.01 471.56,1574.37 C470.15,1576.73 469.27,1579.10 469.45,1581.46 C469.62,1583.82 470.62,1586.19 472.61,1588.55 C474.60,1590.91 477.94,1592.69 481.40,1595.64 C484.85,1598.59 491.12,1603.32 493.35,1606.27 C495.57,1609.23 495.28,1610.41 494.75,1613.36 C494.23,1616.32 491.82,1620.45 490.18,1624.00 C488.54,1627.54 486.29,1631.26 484.91,1634.63 C483.54,1638.00 482.42,1642.60 481.92,1644.20 Z" fill="#c5e4f3" stroke="#111" stroke-width="1.7" stroke-linejoin="round"/>
<polyline points="224.3,1309.6 224.3,1302.6 365.5,1302.6 365.5,1309.6" fill="none" stroke="#222" stroke-width="1.6"/>
<polyline points="365.5,1297.3 365.5,1290.3 506.0,1290.3 506.0,1297.3" fill="none" stroke="#222" stroke-width="1.6"/>
<polyline points="224.3,1350.8 224.3,1343.0 506.0,1343.0 506.0,1350.8" fill="none" stroke="#222" stroke-width="1.6"/>
<text x="297.0" y="1294.5" font-size="25.5" text-anchor="middle">2.5 × 10<tspan dy="-9" font-size="17">−9</tspan></text>
<text x="441.0" y="1285.0" font-size="25.5" text-anchor="middle">3.0 × 10<tspan dy="-9" font-size="17">−7</tspan></text>
<text x="383.0" y="1337.0" font-size="25.5" text-anchor="middle">2.2 × 10<tspan dy="-9" font-size="17">−16</tspan></text>
<text x="76.0" y="1459.0" font-size="28.5" text-anchor="middle" transform="rotate(-90 76.0 1459.0)">Sampled % exons significant</text>
<text x="241.8" y="1694.5" font-size="25.8" text-anchor="end" transform="rotate(-45 241.8 1694.5)">L2–L3 IT_CUX2</text>
<text x="383.0" y="1694.5" font-size="25.8" text-anchor="end" transform="rotate(-45 383.0 1694.5)">L2–L4 IT_CUX2.RORB</text>
<text x="523.5" y="1694.5" font-size="25.8" text-anchor="end" transform="rotate(-45 523.5 1694.5)">L3–L5/L6 IT_RORB</text>
<text x="732.3" y="1265.0" font-size="37" font-weight="bold" stroke="#000" stroke-width="0.9">h</text>
<line x1="842.3" y1="1274.5" x2="842.3" y2="1677.8" stroke="#000" stroke-width="1.6"/>
<line x1="841.5" y1="1677.0" x2="1322.8" y2="1677.0" stroke="#000" stroke-width="1.6"/>
<line x1="830.7" y1="1658.3" x2="842.3" y2="1658.3" stroke="#000" stroke-width="1.6"/>
<text x="820.0" y="1666.6" font-size="23.5" text-anchor="end">0</text>
<line x1="830.7" y1="1581.8" x2="842.3" y2="1581.8" stroke="#000" stroke-width="1.6"/>
<text x="820.0" y="1590.0" font-size="23.5" text-anchor="end">2.5</text>
<line x1="830.7" y1="1505.2" x2="842.3" y2="1505.2" stroke="#000" stroke-width="1.6"/>
<text x="820.0" y="1513.5" font-size="23.5" text-anchor="end">5.0</text>
<line x1="830.7" y1="1428.6" x2="842.3" y2="1428.6" stroke="#000" stroke-width="1.6"/>
<text x="820.0" y="1436.9" font-size="23.5" text-anchor="end">7.5</text>
<line x1="830.7" y1="1352.1" x2="842.3" y2="1352.1" stroke="#000" stroke-width="1.6"/>
<text x="820.0" y="1360.4" font-size="23.5" text-anchor="end">10.0</text>
<line x1="830.7" y1="1275.5" x2="842.3" y2="1275.5" stroke="#000" stroke-width="1.6"/>
<text x="820.0" y="1283.8" font-size="23.5" text-anchor="end">12.5</text>
<line x1="932.0" y1="1677.0" x2="932.0" y2="1687.5" stroke="#000" stroke-width="1.6"/>
<text x="932.0" y="1715.6" font-size="22" text-anchor="middle">D<tspan dy="-9" font-size="14">+</tspan><tspan dy="9">S</tspan><tspan dy="-9" font-size="14">−</tspan></text>
<line x1="1082.0" y1="1677.0" x2="1082.0" y2="1687.5" stroke="#000" stroke-width="1.6"/>
<text x="1082.0" y="1715.6" font-size="22" text-anchor="middle">D<tspan dy="-9" font-size="14">−</tspan><tspan dy="9">S</tspan><tspan dy="-9" font-size="14">+</tspan></text>
<line x1="1233.2" y1="1677.0" x2="1233.2" y2="1687.5" stroke="#000" stroke-width="1.6"/>
<text x="1233.2" y="1715.6" font-size="22" text-anchor="middle">D<tspan dy="-9" font-size="14">+</tspan><tspan dy="9">S</tspan><tspan dy="-9" font-size="14">+</tspan></text>
<path d="M953.44,1658.30 C953.26,1657.30 953.15,1655.07 952.39,1652.32 C951.62,1649.56 950.34,1645.28 948.87,1641.76 C947.41,1638.24 945.24,1634.72 943.60,1631.20 C941.96,1627.68 940.38,1624.16 939.03,1620.64 C937.68,1617.12 936.51,1613.60 935.51,1610.08 C934.52,1606.56 933.55,1603.04 933.05,1599.52 C932.56,1596.00 932.64,1593.66 932.56,1588.97 C932.48,1584.27 932.42,1576.65 932.56,1571.37 C932.70,1566.09 932.91,1563.16 933.41,1557.29 C933.90,1551.42 934.81,1542.62 935.51,1536.17 C936.22,1529.72 937.04,1523.74 937.62,1518.57 C938.21,1513.41 939.03,1509.89 939.03,1505.20 C939.03,1500.51 938.33,1495.81 937.62,1490.42 C936.92,1485.02 935.57,1478.69 934.81,1472.82 C934.05,1466.95 933.45,1462.26 933.05,1455.22 C932.66,1448.18 932.54,1443.49 932.42,1430.59 C932.30,1417.68 932.36,1390.87 932.35,1377.79 C932.34,1364.71 932.35,1356.38 932.35,1352.10 L931.65,1352.10 C931.65,1356.38 931.66,1364.71 931.65,1377.79 C931.64,1390.87 931.70,1417.68 931.58,1430.59 C931.46,1443.49 931.34,1448.18 930.95,1455.22 C930.55,1462.26 929.95,1466.95 929.19,1472.82 C928.43,1478.69 927.08,1485.02 926.38,1490.42 C925.67,1495.81 924.97,1500.51 924.97,1505.20 C924.97,1509.89 925.79,1513.41 926.38,1518.57 C926.96,1523.74 927.78,1529.72 928.49,1536.17 C929.19,1542.62 930.10,1551.42 930.59,1557.29 C931.09,1563.16 931.30,1566.09 931.44,1571.37 C931.58,1576.65 931.52,1584.27 931.44,1588.97 C931.36,1593.66 931.44,1596.00 930.95,1599.52 C930.45,1603.04 929.48,1606.56 928.49,1610.08 C927.49,1613.60 926.32,1617.12 924.97,1620.64 C923.62,1624.16 922.04,1627.68 920.40,1631.20 C918.76,1634.72 916.59,1638.24 915.13,1641.76 C913.66,1645.28 912.38,1649.56 911.61,1652.32 C910.85,1655.07 910.74,1657.30 910.56,1658.30 Z" fill="#d9a8cc" stroke="#111" stroke-width="1.5" stroke-linejoin="round"/>
<line x1="1014.6" y1="1658.3" x2="1150.6" y2="1658.3" stroke="#333" stroke-width="1.8"/>
<path d="M1255.69,1658.30 C1255.46,1656.72 1255.11,1652.14 1254.29,1648.80 C1253.47,1645.45 1252.06,1641.76 1250.77,1638.24 C1249.48,1634.72 1248.02,1631.20 1246.56,1627.68 C1245.09,1624.16 1243.51,1620.64 1241.99,1617.12 C1240.46,1613.60 1238.65,1610.08 1237.42,1606.56 C1236.19,1603.04 1235.22,1600.11 1234.61,1596.00 C1234.00,1591.90 1233.88,1586.62 1233.76,1581.93 C1233.65,1577.23 1233.53,1573.13 1233.90,1567.85 C1234.28,1562.57 1235.19,1556.70 1236.01,1550.25 C1236.83,1543.80 1238.12,1535.00 1238.82,1529.13 C1239.53,1523.27 1239.88,1519.04 1240.23,1515.05 C1240.58,1511.07 1240.82,1506.84 1240.93,1505.20 L1225.47,1505.20 C1225.58,1506.84 1225.82,1511.07 1226.17,1515.05 C1226.52,1519.04 1226.87,1523.27 1227.58,1529.13 C1228.28,1535.00 1229.57,1543.80 1230.39,1550.25 C1231.21,1556.70 1232.12,1562.57 1232.50,1567.85 C1232.87,1573.13 1232.75,1577.23 1232.64,1581.93 C1232.52,1586.62 1232.40,1591.90 1231.79,1596.00 C1231.18,1600.11 1230.21,1603.04 1228.98,1606.56 C1227.75,1610.08 1225.94,1613.60 1224.41,1617.12 C1222.89,1620.64 1221.31,1624.16 1219.84,1627.68 C1218.38,1631.20 1216.92,1634.72 1215.63,1638.24 C1214.34,1641.76 1212.93,1645.45 1212.11,1648.80 C1211.29,1652.14 1210.94,1656.72 1210.71,1658.30 Z" fill="#e87dad" stroke="#111" stroke-width="1.5" stroke-linejoin="round"/>
<polyline points="932.0,1346.5 932.0,1337.0 1079.6,1337.0 1079.6,1346.5" fill="none" stroke="#222" stroke-width="1.6"/>
<polyline points="1082.0,1346.5 1082.0,1337.0 1233.2,1337.0 1233.2,1346.5" fill="none" stroke="#222" stroke-width="1.6"/>
<text x="1004.7" y="1323.7" font-size="25.5" text-anchor="middle">1.5 × 10<tspan dy="-9" font-size="17">−7</tspan></text>
<text x="1155.9" y="1323.7" font-size="25.5" text-anchor="middle">1.5 × 10<tspan dy="-9" font-size="17">−7</tspan></text>
<text x="751.0" y="1474.8" font-size="28.5" text-anchor="middle" transform="rotate(-90 751.0 1474.8)">Sampled % exons significant</text>
<text x="1420.0" y="1263.0" font-size="37" font-weight="bold" stroke="#000" stroke-width="0.9">i</text>
<line x1="1688.3" y1="1262.9" x2="1688.3" y2="1628.5" stroke="#000" stroke-width="1.6"/>
<line x1="1687.5" y1="1627.7" x2="1946.6" y2="1627.7" stroke="#000" stroke-width="1.6"/>
<line x1="1701.0" y1="1627.7" x2="1701.0" y2="1640.0" stroke="#000" stroke-width="1.6"/>
<text x="1701.0" y="1668.2" font-size="22.5" text-anchor="middle">0</text>
<line x1="1767.1" y1="1627.7" x2="1767.1" y2="1640.0" stroke="#000" stroke-width="1.6"/>
<text x="1767.1" y="1668.2" font-size="22.5" text-anchor="middle">2</text>
<line x1="1833.1" y1="1627.7" x2="1833.1" y2="1640.0" stroke="#000" stroke-width="1.6"/>
<text x="1833.1" y="1668.2" font-size="22.5" text-anchor="middle">4</text>
<line x1="1899.2" y1="1627.7" x2="1899.2" y2="1640.0" stroke="#000" stroke-width="1.6"/>
<text x="1899.2" y="1668.2" font-size="22.5" text-anchor="middle">6</text>
<line x1="1675.3" y1="1315.0" x2="1688.3" y2="1315.0" stroke="#000" stroke-width="1.6"/>
<text x="1664.7" y="1324.5" font-size="25.3" text-anchor="end">L3–L5/L6 IT_<tspan font-style="italic">RORB</tspan></text>
<line x1="1675.3" y1="1434.4" x2="1688.3" y2="1434.4" stroke="#000" stroke-width="1.6"/>
<text x="1664.7" y="1443.9" font-size="25.3" text-anchor="end">L2–L4 IT_<tspan font-style="italic">CUX2.RORB</tspan></text>
<line x1="1675.3" y1="1555.0" x2="1688.3" y2="1555.0" stroke="#000" stroke-width="1.6"/>
<text x="1664.7" y="1564.5" font-size="25.3" text-anchor="end">L2–L3 IT_<tspan font-style="italic">CUX2</tspan></text>
<line x1="1750.0" y1="1315.0" x2="1753.3" y2="1315.0" stroke="#333" stroke-width="1.2" stroke-dasharray="3,2"/>
<line x1="1760.7" y1="1315.0" x2="1767.0" y2="1315.0" stroke="#333" stroke-width="1.2" stroke-dasharray="3,2"/>
<rect x="1753.3" y="1269.2" width="7.4" height="90.7" fill="#cbd5e8" stroke="#222" stroke-width="1.4"/>
<line x1="1757.0" y1="1269.2" x2="1757.0" y2="1359.9" stroke="#222" stroke-width="1.4"/>
<circle cx="1739.5" cy="1315" r="3.6" fill="#000"/>
<circle cx="1771" cy="1315" r="3.6" fill="#000"/>
<line x1="1849.0" y1="1434.4" x2="1858.7" y2="1434.4" stroke="#333" stroke-width="1.2" stroke-dasharray="3,2"/>
<line x1="1867.5" y1="1434.4" x2="1876.0" y2="1434.4" stroke="#333" stroke-width="1.2" stroke-dasharray="3,2"/>
<rect x="1858.7" y="1389.8" width="8.8" height="90.2" fill="#fdcdac" stroke="#222" stroke-width="1.4"/>
<line x1="1863.3" y1="1389.8" x2="1863.3" y2="1480.0" stroke="#222" stroke-width="1.4"/>
<circle cx="1844" cy="1434.4" r="3.6" fill="#000"/>
<circle cx="1883.4" cy="1434.4" r="3.6" fill="#000"/>
<line x1="1753.0" y1="1555.0" x2="1756.1" y2="1555.0" stroke="#333" stroke-width="1.2" stroke-dasharray="3,2"/>
<line x1="1763.8" y1="1555.0" x2="1770.0" y2="1555.0" stroke="#333" stroke-width="1.2" stroke-dasharray="3,2"/>
<rect x="1756.1" y="1510" width="7.7" height="90.7" fill="#b3e2cd" stroke="#222" stroke-width="1.4"/>
<line x1="1759.6" y1="1510.0" x2="1759.6" y2="1600.7" stroke="#222" stroke-width="1.4"/>
<polyline points="1934.6,1317.4 1946.6,1317.4 1946.6,1433.7 1934.6,1433.7" fill="none" stroke="#222" stroke-width="1.6"/>
<polyline points="1934.6,1440.7 1946.6,1440.7 1946.6,1558.5 1934.6,1558.5" fill="none" stroke="#222" stroke-width="1.6"/>
<text x="1958.0" y="1375.5" font-size="23.5" text-anchor="middle" transform="rotate(90 1958.0 1375.5)">2.87 × 10<tspan dy="-8" font-size="15">−6</tspan></text>
<text x="1958.0" y="1499.5" font-size="23.5" text-anchor="middle" transform="rotate(90 1958.0 1499.5)">2.87 × 10<tspan dy="-8" font-size="15">−6</tspan></text>
<text x="1807.0" y="1709.3" font-size="28.6" text-anchor="middle">Significance per tested peaks</text>
<text x="1807.0" y="1740.2" font-size="28.6" text-anchor="middle">closest to target genes (%)</text>
<text x="1.5" y="1932.5" font-size="37" font-weight="bold" stroke="#000" stroke-width="0.9">j</text>
<line x1="93.2" y1="1986.6" x2="93.2" y2="2528.0" stroke="#000" stroke-width="1.6"/>
<line x1="92.4" y1="2527.3" x2="666.0" y2="2527.3" stroke="#000" stroke-width="1.6"/>
<line x1="81.6" y1="2510.5" x2="93.2" y2="2510.5" stroke="#000" stroke-width="1.6"/>
<text x="70.0" y="2518.3" font-size="22" text-anchor="end">0</text>
<line x1="81.6" y1="2377.4" x2="93.2" y2="2377.4" stroke="#000" stroke-width="1.6"/>
<text x="70.0" y="2385.2" font-size="22" text-anchor="end">3</text>
<line x1="81.6" y1="2250.2" x2="93.2" y2="2250.2" stroke="#000" stroke-width="1.6"/>
<text x="70.0" y="2258.0" font-size="22" text-anchor="end">6</text>
<line x1="81.6" y1="2123.5" x2="93.2" y2="2123.5" stroke="#000" stroke-width="1.6"/>
<text x="70.0" y="2131.3" font-size="22" text-anchor="end">9</text>
<line x1="81.6" y1="1996.3" x2="93.2" y2="1996.3" stroke="#000" stroke-width="1.6"/>
<text x="70.0" y="2004.1" font-size="22" text-anchor="end">12</text>
<line x1="172.9" y1="2527.3" x2="172.9" y2="2538.6" stroke="#000" stroke-width="1.6"/>
<text x="172.9" y="2570.4" font-size="26.5" text-anchor="middle">UTR</text>
<line x1="308.3" y1="2527.3" x2="308.3" y2="2538.6" stroke="#000" stroke-width="1.6"/>
<text x="308.3" y="2570.4" font-size="26.5" text-anchor="middle">Exon</text>
<line x1="443.4" y1="2527.3" x2="443.4" y2="2538.6" stroke="#000" stroke-width="1.6"/>
<text x="443.4" y="2570.4" font-size="26.5" text-anchor="middle">Intron</text>
<line x1="578.9" y1="2527.3" x2="578.9" y2="2538.6" stroke="#000" stroke-width="1.6"/>
<text x="578.9" y="2570.4" font-size="26.5" text-anchor="middle">Intergenic</text>
<text x="29.0" y="2258.0" font-size="28.1" text-anchor="middle" transform="rotate(-90 29.0 2258.0)">Significance per tested peaks (%)</text>
<rect x="109.7" y="1950.9" width="37.4" height="111.3" fill="#efefef"/>
<line x1="128.4" y1="1954.8" x2="128.4" y2="1960.5" stroke="#222" stroke-width="1.4"/>
<line x1="128.4" y1="1978.9" x2="128.4" y2="1984.9" stroke="#222" stroke-width="1.4"/>
<rect x="114.3" y="1960.5" width="28.2" height="18.4" fill="#b3e2cd" stroke="#222" stroke-width="1.4"/>
<line x1="114.3" y1="1969.6" x2="142.5" y2="1969.6" stroke="#222" stroke-width="1.4"/>
<text x="162.4" y="1976.4" font-size="25.8">L2–L3 IT_<tspan font-style="italic">CUX2</tspan></text>
<line x1="128.4" y1="1991.6" x2="128.4" y2="1997.3" stroke="#222" stroke-width="1.4"/>
<line x1="128.4" y1="2016.0" x2="128.4" y2="2021.4" stroke="#222" stroke-width="1.4"/>
<rect x="114.3" y="1997.3" width="28.2" height="18.7" fill="#fdcdac" stroke="#222" stroke-width="1.4"/>
<line x1="114.3" y1="2006.1" x2="142.5" y2="2006.1" stroke="#222" stroke-width="1.4"/>
<text x="162.4" y="2014.3" font-size="25.8">L2–L4 IT_<tspan font-style="italic">CUX2.RORB</tspan></text>
<line x1="128.4" y1="2029.1" x2="128.4" y2="2034.2" stroke="#222" stroke-width="1.4"/>
<line x1="128.4" y1="2052.9" x2="128.4" y2="2058.0" stroke="#222" stroke-width="1.4"/>
<rect x="114.3" y="2034.2" width="28.2" height="18.7" fill="#cbd5e8" stroke="#222" stroke-width="1.4"/>
<line x1="114.3" y1="2043.2" x2="142.5" y2="2043.2" stroke="#222" stroke-width="1.4"/>
<text x="162.4" y="2051.2" font-size="25.8">L3–L5/L6 IT_<tspan font-style="italic">RORB</tspan></text>
<line x1="139.8" y1="2474.9" x2="139.8" y2="2480.5" stroke="#222" stroke-width="1.5"/>
<line x1="139.8" y1="2486.1" x2="139.8" y2="2491.8" stroke="#222" stroke-width="1.5"/>
<rect x="124.6" y="2480.5" width="30.3" height="5.6" fill="#b3e2cd" stroke="#222" stroke-width="1.5"/>
<line x1="124.6" y1="2483.1" x2="154.9" y2="2483.1" stroke="#222" stroke-width="1.5"/>
<line x1="173.2" y1="2416.2" x2="173.2" y2="2423.3" stroke="#222" stroke-width="1.5"/>
<line x1="173.2" y1="2436.4" x2="173.2" y2="2445.0" stroke="#222" stroke-width="1.5"/>
<rect x="157.9" y="2423.3" width="30.7" height="13.1" fill="#fdcdac" stroke="#222" stroke-width="1.5"/>
<line x1="157.9" y1="2429.3" x2="188.6" y2="2429.3" stroke="#222" stroke-width="1.5"/>
<line x1="206.9" y1="2474.9" x2="206.9" y2="2479.8" stroke="#222" stroke-width="1.5"/>
<line x1="206.9" y1="2486.1" x2="206.9" y2="2489.9" stroke="#222" stroke-width="1.5"/>
<rect x="191.6" y="2479.8" width="30.7" height="6.3" fill="#cbd5e8" stroke="#222" stroke-width="1.5"/>
<line x1="191.6" y1="2483.1" x2="222.3" y2="2483.1" stroke="#222" stroke-width="1.5"/>
<line x1="274.6" y1="2403.8" x2="274.6" y2="2411.3" stroke="#222" stroke-width="1.5"/>
<line x1="274.6" y1="2420.7" x2="274.6" y2="2428.9" stroke="#222" stroke-width="1.5"/>
<rect x="259.3" y="2411.3" width="30.7" height="9.4" fill="#b3e2cd" stroke="#222" stroke-width="1.5"/>
<line x1="259.3" y1="2415.8" x2="290.0" y2="2415.8" stroke="#222" stroke-width="1.5"/>
<line x1="308.5" y1="2277.4" x2="308.5" y2="2296.4" stroke="#222" stroke-width="1.5"/>
<line x1="308.5" y1="2312.9" x2="308.5" y2="2335.4" stroke="#222" stroke-width="1.5"/>
<rect x="293.3" y="2296.4" width="30.3" height="16.5" fill="#fdcdac" stroke="#222" stroke-width="1.5"/>
<line x1="293.3" y1="2302.0" x2="323.6" y2="2302.0" stroke="#222" stroke-width="1.5"/>
<line x1="342.4" y1="2422.5" x2="342.4" y2="2429.3" stroke="#222" stroke-width="1.5"/>
<line x1="342.4" y1="2445.4" x2="342.4" y2="2452.5" stroke="#222" stroke-width="1.5"/>
<rect x="327.0" y="2429.3" width="30.7" height="16.1" fill="#cbd5e8" stroke="#222" stroke-width="1.5"/>
<line x1="327.0" y1="2441.2" x2="357.7" y2="2441.2" stroke="#222" stroke-width="1.5"/>
<line x1="410.2" y1="2387.0" x2="410.2" y2="2397.5" stroke="#222" stroke-width="1.5"/>
<line x1="410.2" y1="2409.4" x2="410.2" y2="2422.5" stroke="#222" stroke-width="1.5"/>
<rect x="395.1" y="2397.5" width="30.3" height="11.9" fill="#b3e2cd" stroke="#222" stroke-width="1.5"/>
<line x1="395.1" y1="2403.8" x2="425.4" y2="2403.8" stroke="#222" stroke-width="1.5"/>
<line x1="443.8" y1="2213.0" x2="443.8" y2="2228.7" stroke="#222" stroke-width="1.5"/>
<line x1="443.8" y1="2249.7" x2="443.8" y2="2276.6" stroke="#222" stroke-width="1.5"/>
<rect x="428.4" y="2228.7" width="30.7" height="21.0" fill="#fdcdac" stroke="#222" stroke-width="1.5"/>
<line x1="428.4" y1="2242.2" x2="459.1" y2="2242.2" stroke="#222" stroke-width="1.5"/>
<line x1="477.8" y1="2388.1" x2="477.8" y2="2398.2" stroke="#222" stroke-width="1.5"/>
<line x1="477.8" y1="2414.3" x2="477.8" y2="2423.7" stroke="#222" stroke-width="1.5"/>
<rect x="462.8" y="2398.2" width="30.0" height="16.1" fill="#cbd5e8" stroke="#222" stroke-width="1.5"/>
<line x1="462.8" y1="2405.0" x2="492.8" y2="2405.0" stroke="#222" stroke-width="1.5"/>
<line x1="544.8" y1="2327.1" x2="544.8" y2="2337.2" stroke="#222" stroke-width="1.5"/>
<line x1="544.8" y1="2350.3" x2="544.8" y2="2362.7" stroke="#222" stroke-width="1.5"/>
<rect x="529.4" y="2337.2" width="30.7" height="13.1" fill="#b3e2cd" stroke="#222" stroke-width="1.5"/>
<line x1="529.4" y1="2344.0" x2="560.1" y2="2344.0" stroke="#222" stroke-width="1.5"/>
<line x1="579.0" y1="2049.5" x2="579.0" y2="2091.4" stroke="#222" stroke-width="1.5"/>
<line x1="579.0" y1="2128.8" x2="579.0" y2="2163.2" stroke="#222" stroke-width="1.5"/>
<rect x="563.8" y="2091.4" width="30.4" height="37.4" fill="#fdcdac" stroke="#222" stroke-width="1.5"/>
<line x1="563.8" y1="2106.4" x2="594.2" y2="2106.4" stroke="#222" stroke-width="1.5"/>
<line x1="612.3" y1="2325.2" x2="612.3" y2="2353.3" stroke="#222" stroke-width="1.5"/>
<line x1="612.3" y1="2375.8" x2="612.3" y2="2403.1" stroke="#222" stroke-width="1.5"/>
<rect x="596.8" y="2353.3" width="31.0" height="22.5" fill="#cbd5e8" stroke="#222" stroke-width="1.5"/>
<line x1="596.8" y1="2363.4" x2="627.8" y2="2363.4" stroke="#222" stroke-width="1.5"/>
<circle cx="410.4" cy="2376.5" r="2.8" fill="#000"/>
<circle cx="545.1" cy="2316.6" r="2.8" fill="#000"/>
<polyline points="138.8,2366.4 138.8,2360.0 172.5,2360.0 172.5,2366.4" fill="none" stroke="#222" stroke-width="1.5"/>
<text x="155.3" y="2349.6" font-size="22.5" text-anchor="middle">2.87 × 10<tspan dy="-8" font-size="15">−6</tspan></text>
<polyline points="173.2,2406.4 173.2,2400.1 206.2,2400.1 206.2,2406.4" fill="none" stroke="#222" stroke-width="1.5"/>
<text x="182.6" y="2390.7" font-size="22.5" text-anchor="middle">2.87 × 10<tspan dy="-8" font-size="15">−6</tspan></text>
<polyline points="273.5,2265.4 273.5,2259.0 307.6,2259.0 307.6,2265.4" fill="none" stroke="#222" stroke-width="1.5"/>
<text x="242.1" y="2251.5" font-size="22.5" text-anchor="middle">2.87 × 10<tspan dy="-8" font-size="15">−6</tspan></text>
<polyline points="310.5,2265.4 310.5,2259.0 343.5,2259.0 343.5,2265.4" fill="none" stroke="#222" stroke-width="1.5"/>
<text x="364.6" y="2251.5" font-size="22.5" text-anchor="middle">2.86 × 10<tspan dy="-8" font-size="15">−6</tspan></text>
<polyline points="273.5,2228.3 273.5,2222.0 343.5,2222.0 343.5,2228.3" fill="none" stroke="#222" stroke-width="1.5"/>
<text x="303.6" y="2213.0" font-size="22.5" text-anchor="middle">3.82 × 10<tspan dy="-8" font-size="15">−6</tspan></text>
<polyline points="408.6,2171.8 408.6,2165.1 442.2,2165.1 442.2,2171.8" fill="none" stroke="#222" stroke-width="1.5"/>
<text x="413.4" y="2155.7" font-size="22.5" text-anchor="middle">2.87 × 10<tspan dy="-8" font-size="15">−6</tspan></text>
<polyline points="443.0,2205.5 443.0,2198.8 475.2,2198.8 475.2,2205.5" fill="none" stroke="#222" stroke-width="1.5"/>
<text x="454.0" y="2192.4" font-size="22.5" text-anchor="middle">2.87 × 10<tspan dy="-8" font-size="15">−6</tspan></text>
<polyline points="543.6,2030.8 543.6,2023.3 577.3,2023.3 577.3,2030.8" fill="none" stroke="#222" stroke-width="1.5"/>
<text x="556.9" y="2018.4" font-size="22.5" text-anchor="middle">5.73 × 10<tspan dy="-8" font-size="15">−6</tspan></text>
<polyline points="578.1,1990.4 578.1,1982.9 610.6,1982.9 610.6,1990.4" fill="none" stroke="#222" stroke-width="1.5"/>
<text x="579.4" y="1975.4" font-size="22.5" text-anchor="middle">7.16 × 10<tspan dy="-8" font-size="15">−5</tspan></text>
<text x="743.0" y="1942.0" font-size="37" font-weight="bold" stroke="#000" stroke-width="0.9">k</text>
<text x="796.3" y="1951.0" font-size="25.5">PFC L2–L4 IT_<tspan font-style="italic">CUX2.RORB</tspan></text>
<path d="M903.0,1977.6 L903.0,1975.8 L903.8,1975.6 L904.6,1975.8 L905.4,1976.1 L906.2,1976.5 L907.0,1976.8 L907.8,1976.9 L908.6,1976.6 L909.4,1975.9 L910.2,1975.1 L911.0,1974.8 L911.8,1975.2 L912.6,1976.0 L913.4,1976.8 L914.2,1977.3 L915.0,1977.5 L915.8,1977.6 L916.6,1977.4 L917.4,1976.7 L918.2,1975.6 L919.0,1975.5 L919.8,1976.4 L920.6,1977.1 L921.4,1977.2 L922.2,1977.0 L923.0,1976.9 L923.8,1976.8 L924.6,1976.8 L925.4,1976.9 L926.2,1977.1 L927.0,1977.2 L927.8,1977.4 L928.6,1977.5 L929.4,1977.5 L930.2,1977.3 L931.0,1976.9 L931.8,1976.4 L932.6,1976.0 L933.4,1976.1 L934.2,1976.7 L935.0,1977.2 L935.8,1977.5 L936.6,1977.6 L937.4,1977.6 L938.2,1977.4 L939.0,1976.9 L939.8,1976.3 L940.6,1976.1 L941.4,1976.2 L942.2,1976.3 L943.0,1976.1 L943.8,1976.0 L944.6,1976.0 L945.4,1976.4 L946.2,1976.7 L947.0,1977.1 L947.8,1977.2 L948.6,1977.2 L949.4,1977.1 L950.2,1976.9 L951.0,1976.6 L951.8,1976.4 L952.6,1976.3 L953.4,1976.2 L954.2,1976.2 L955.0,1976.1 L955.8,1975.8 L956.6,1975.3 L957.4,1974.8 L958.2,1974.4 L959.0,1974.3 L959.8,1974.4 L960.6,1974.5 L961.4,1974.0 L962.2,1973.4 L963.0,1973.8 L963.8,1974.8 L964.6,1975.5 L965.4,1975.7 L966.2,1976.0 L967.0,1976.3 L967.8,1976.5 L968.6,1976.6 L969.4,1976.5 L970.2,1976.4 L971.0,1976.4 L971.8,1976.4 L972.6,1976.6 L973.4,1976.9 L974.2,1977.1 L975.0,1977.3 L975.8,1977.4 L976.6,1977.3 L977.4,1977.1 L978.2,1976.7 L979.0,1976.3 L979.8,1976.3 L980.6,1976.5 L981.4,1976.9 L982.2,1977.3 L983.0,1977.5 L983.8,1977.4 L984.6,1976.7 L985.4,1975.3 L986.2,1974.4 L987.0,1975.1 L987.8,1976.5 L988.6,1977.0 L989.4,1976.6 L990.2,1975.8 L991.0,1974.9 L991.8,1974.3 L992.6,1974.2 L993.4,1974.7 L994.2,1975.6 L995.0,1976.3 L995.8,1976.8 L996.6,1976.7 L997.4,1976.2 L998.2,1975.5 L999.0,1974.8 L999.8,1974.6 L1000.6,1974.9 L1001.4,1975.3 L1002.2,1975.4 L1003.0,1975.2 L1003.8,1975.2 L1004.6,1975.4 L1005.4,1975.8 L1006.2,1975.9 L1007.0,1975.5 L1007.8,1974.8 L1008.6,1974.3 L1009.4,1974.7 L1010.2,1975.5 L1011.0,1975.9 L1011.8,1975.8 L1012.6,1975.4 L1013.4,1975.0 L1014.2,1974.8 L1015.0,1974.9 L1015.8,1975.4 L1016.6,1976.0 L1017.4,1976.6 L1018.2,1977.1 L1019.0,1977.3 L1019.8,1977.3 L1020.6,1976.8 L1021.4,1975.9 L1022.2,1975.2 L1023.0,1975.3 L1023.8,1976.1 L1024.6,1977.0 L1025.4,1977.3 L1026.2,1977.2 L1027.0,1976.9 L1027.8,1976.3 L1028.6,1975.5 L1029.4,1974.8 L1030.2,1974.4 L1031.0,1974.4 L1031.8,1974.9 L1032.6,1975.7 L1033.4,1976.4 L1034.2,1976.8 L1035.0,1976.9 L1035.8,1976.6 L1036.6,1976.1 L1037.4,1975.6 L1038.2,1975.5 L1039.0,1975.8 L1039.8,1976.3 L1040.6,1976.8 L1041.4,1977.0 L1042.2,1976.9 L1043.0,1976.7 L1043.8,1976.6 L1044.6,1976.5 L1045.4,1976.7 L1046.2,1976.9 L1047.0,1977.1 L1047.8,1977.3 L1048.6,1977.3 L1049.4,1977.2 L1050.2,1977.0 L1051.0,1976.7 L1051.8,1976.5 L1052.6,1976.5 L1053.4,1976.6 L1054.2,1976.8 L1055.0,1977.1 L1055.8,1977.3 L1056.6,1977.5 L1057.4,1977.5 L1058.2,1977.2 L1059.0,1976.7 L1059.8,1976.7 L1060.6,1977.1 L1061.4,1977.5 L1062.2,1977.6 L1063.0,1977.5 L1063.8,1977.2 L1064.6,1976.8 L1065.4,1976.4 L1066.2,1976.3 L1067.0,1976.6 L1067.8,1976.9 L1068.6,1977.0 L1069.4,1976.7 L1070.2,1976.2 L1071.0,1975.6 L1071.8,1975.2 L1072.6,1975.1 L1073.4,1975.4 L1074.2,1975.9 L1075.0,1976.5 L1075.8,1976.9 L1076.6,1977.2 L1077.4,1976.9 L1078.2,1976.0 L1079.0,1975.9 L1079.8,1976.5 L1080.6,1976.6 L1081.4,1976.4 L1082.2,1976.4 L1083.0,1976.6 L1083.8,1977.0 L1084.6,1977.3 L1085.4,1977.4 L1086.2,1977.4 L1087.0,1977.1 L1087.8,1976.7 L1088.6,1976.4 L1089.4,1976.4 L1090.2,1976.7 L1091.0,1977.1 L1091.8,1977.4 L1092.6,1977.5 L1093.4,1977.4 L1094.2,1977.2 L1095.0,1976.8 L1095.8,1976.4 L1096.6,1976.0 L1097.4,1975.8 L1098.2,1975.9 L1099.0,1976.2 L1099.8,1976.5 L1100.6,1976.8 L1101.4,1976.7 L1102.2,1976.2 L1103.0,1975.6 L1103.8,1975.1 L1104.6,1975.2 L1105.4,1975.7 L1106.2,1976.5 L1107.0,1977.0 L1107.8,1977.2 L1108.6,1976.6 L1109.4,1975.5 L1110.2,1974.9 L1111.0,1975.6 L1111.8,1976.8 L1112.6,1977.4 L1113.4,1977.6 L1114.2,1977.6 L1115.0,1977.6 L1115.8,1977.4 L1116.6,1976.5 L1117.4,1974.8 L1118.2,1974.7 L1119.0,1976.2 L1119.8,1977.1 L1120.6,1976.8 L1121.4,1976.3 L1122.2,1976.4 L1123.0,1976.8 L1123.8,1976.3 L1124.6,1975.0 L1125.4,1974.4 L1126.2,1974.4 L1127.0,1973.8 L1127.8,1973.4 L1128.6,1972.8 L1129.4,1973.2 L1130.2,1973.1 L1131.0,1970.8 L1131.8,1968.8 L1132.6,1968.5 L1133.4,1966.8 L1134.2,1965.5 L1135.0,1961.8 L1135.8,1954.5 L1136.6,1958.1 L1137.4,1957.7 L1138.2,1956.1 L1139.0,1956.7 L1139.8,1960.7 L1140.6,1963.8 L1141.4,1970.2 L1142.2,1972.8 L1143.0,1973.4 L1143.8,1975.2 L1144.6,1976.0 L1145.4,1976.4 L1146.2,1976.2 L1147.0,1975.5 L1147.8,1974.7 L1148.6,1974.3 L1149.4,1974.5 L1150.2,1975.2 L1151.0,1976.0 L1151.8,1976.8 L1152.6,1977.2 L1153.4,1977.5 L1154.2,1977.5 L1155.0,1977.4 L1155.8,1977.0 L1156.6,1976.3 L1157.4,1975.8 L1158.2,1975.9 L1159.0,1976.5 L1159.8,1977.0 L1160.6,1977.2 L1161.4,1977.1 L1162.2,1976.9 L1163.0,1976.7 L1163.8,1976.5 L1164.6,1976.4 L1165.4,1976.4 L1166.2,1976.6 L1167.0,1976.6 L1167.8,1976.5 L1168.6,1976.1 L1169.4,1975.5 L1170.2,1975.2 L1171.0,1975.2 L1171.8,1975.1 L1172.6,1974.8 L1173.4,1974.4 L1174.2,1974.2 L1175.0,1974.3 L1175.8,1974.7 L1176.6,1975.3 L1177.4,1975.8 L1178.2,1976.3 L1179.0,1976.4 L1179.8,1975.6 L1180.6,1975.3 L1181.4,1975.4 L1182.2,1975.4 L1183.0,1975.1 L1183.8,1974.9 L1184.6,1975.0 L1185.4,1975.2 L1186.2,1974.6 L1187.0,1975.2 L1187.8,1974.2 L1188.6,1973.5 L1189.4,1972.7 L1190.2,1973.1 L1191.0,1973.4 L1191.8,1973.5 L1192.6,1973.5 L1193.4,1973.5 L1194.2,1973.1 L1195.0,1973.6 L1195.8,1974.5 L1196.6,1975.2 L1197.4,1976.0 L1198.2,1976.6 L1199.0,1976.5 L1199.8,1976.5 L1200.6,1976.2 L1201.4,1976.0 L1202.2,1975.7 L1203.0,1975.1 L1203.8,1974.6 L1204.6,1974.4 L1205.4,1974.9 L1206.2,1975.9 L1207.0,1976.7 L1207.8,1977.2 L1208.6,1977.2 L1209.4,1977.0 L1210.2,1976.7 L1211.0,1976.3 L1211.8,1975.7 L1212.6,1975.1 L1213.4,1974.5 L1214.2,1974.2 L1215.0,1974.3 L1215.8,1974.7 L1216.6,1975.5 L1217.4,1976.1 L1218.2,1976.6 L1219.0,1976.7 L1219.8,1976.5 L1220.6,1976.4 L1221.4,1976.6 L1222.2,1976.9 L1223.0,1977.3 L1223.8,1977.4 L1224.6,1977.1 L1225.4,1976.6 L1226.2,1976.3 L1227.0,1976.7 L1227.8,1977.2 L1228.6,1977.5 L1229.4,1977.6 L1230.2,1977.6 L1231.0,1977.5 L1231.8,1977.2 L1232.6,1976.5 L1233.4,1975.7 L1234.2,1975.4 L1235.0,1975.9 L1235.8,1976.7 L1236.6,1977.3 L1237.4,1977.5 L1238.2,1977.5 L1239.0,1976.9 L1239.8,1975.8 L1240.6,1975.1 L1241.4,1975.7 L1242.2,1976.8 L1243.0,1977.4 L1243.8,1977.6 L1244.6,1977.5 L1245.4,1976.9 L1246.2,1975.8 L1247.0,1975.1 L1247.8,1975.6 L1248.6,1976.1 L1249.4,1975.8 L1250.2,1975.1 L1251.0,1974.5 L1251.8,1974.4 L1252.6,1974.7 L1253.4,1975.1 L1254.2,1975.3 L1255.0,1975.4 L1255.8,1975.7 L1256.6,1976.2 L1257.4,1976.8 L1258.2,1977.2 L1259.0,1977.5 L1259.8,1977.5 L1260.6,1977.1 L1261.4,1975.9 L1262.2,1974.6 L1263.0,1974.9 L1263.8,1976.0 L1264.6,1975.9 L1265.4,1975.7 L1266.2,1976.6 L1267.0,1977.2 L1267.8,1977.0 L1268.6,1976.6 L1269.4,1976.8 L1270.2,1977.2 L1271.0,1977.4 L1271.8,1977.4 L1272.6,1977.2 L1273.4,1976.7 L1274.2,1976.5 L1275.0,1976.0 L1275.8,1976.0 L1276.6,1975.5 L1277.4,1975.0 L1278.2,1974.8 L1279.0,1974.9 L1279.8,1972.9 L1280.6,1973.6 L1281.4,1973.0 L1282.2,1971.6 L1283.0,1968.5 L1283.8,1970.3 L1284.6,1970.4 L1285.4,1968.5 L1286.2,1968.2 L1287.0,1969.9 L1287.8,1967.4 L1288.6,1968.8 L1289.4,1972.1 L1290.2,1970.4 L1291.0,1971.9 L1291.8,1971.8 L1292.6,1970.4 L1293.4,1969.7 L1294.2,1969.1 L1295.0,1968.9 L1295.8,1970.2 L1296.6,1968.3 L1297.4,1968.8 L1298.2,1969.9 L1299.0,1969.7 L1299.8,1970.7 L1300.6,1971.5 L1301.4,1971.8 L1302.2,1972.0 L1303.0,1972.4 L1303.8,1972.8 L1304.6,1973.6 L1305.4,1974.4 L1306.2,1975.4 L1307.0,1976.2 L1307.8,1976.8 L1308.6,1977.0 L1309.4,1977.0 L1310.2,1976.6 L1311.0,1975.8 L1311.8,1974.7 L1312.6,1973.9 L1313.4,1972.4 L1314.2,1973.2 L1315.0,1974.5 L1315.8,1976.0 L1316.6,1977.0 L1317.4,1977.4 L1318.2,1977.3 L1319.0,1976.7 L1319.8,1975.6 L1320.6,1975.2 L1321.4,1975.5 L1322.2,1975.5 L1323.0,1975.5 L1323.8,1975.8 L1324.6,1975.8 L1325.4,1975.1 L1326.2,1974.9 L1327.0,1976.1 L1327.8,1977.2 L1328.6,1977.4 L1329.4,1977.0 L1330.2,1976.1 L1331.0,1974.8 L1331.8,1973.9 L1332.6,1973.8 L1333.4,1974.0 L1334.2,1974.2 L1335.0,1974.4 L1335.8,1974.9 L1336.6,1975.5 L1337.4,1976.1 L1338.2,1976.6 L1339.0,1976.8 L1339.8,1976.8 L1340.6,1976.8 L1341.4,1976.9 L1342.2,1977.1 L1343.0,1977.3 L1343.8,1977.4 L1344.6,1977.4 L1345.4,1977.3 L1346.2,1976.9 L1347.0,1976.4 L1347.8,1975.7 L1348.6,1975.1 L1349.4,1974.6 L1350.2,1974.4 L1351.0,1974.1 L1351.8,1974.0 L1352.6,1974.5 L1353.4,1975.7 L1354.2,1976.8 L1355.0,1977.4 L1355.8,1977.6 L1356.6,1977.6 L1357.4,1977.6 L1358.2,1977.6 L1359.0,1977.5 L1359.8,1977.3 L1360.6,1977.0 L1361.4,1976.9 L1362.2,1977.1 L1363.0,1977.4 L1363.8,1977.5 L1364.6,1977.6 L1365.4,1977.6 L1366.2,1977.6 L1367.0,1977.4 L1367.8,1977.1 L1368.6,1976.7 L1369.4,1976.4 L1370.2,1976.2 L1371.0,1976.0 L1371.8,1975.6 L1372.6,1975.0 L1373.4,1974.5 L1374.2,1974.5 L1375.0,1974.9 L1375.8,1975.6 L1376.6,1976.3 L1377.4,1976.9 L1378.2,1977.3 L1379.0,1977.5 L1379.8,1977.5 L1380.6,1977.4 L1381.4,1977.0 L1382.2,1976.4 L1383.0,1976.3 L1383.8,1976.6 L1384.6,1976.4 L1385.4,1975.8 L1386.2,1975.2 L1387.0,1974.8 L1387.8,1974.9 L1388.6,1975.4 L1389.4,1976.2 L1390.2,1976.8 L1391.0,1977.2 L1391.8,1977.5 L1392.6,1977.6 L1393.4,1977.5 L1394.2,1977.0 L1395.0,1975.7 L1395.8,1974.9 L1396.6,1975.7 L1397.4,1976.9 L1398.2,1977.2 L1399.0,1976.9 L1399.8,1976.5 L1400.6,1976.4 L1401.4,1976.7 L1402.2,1977.1 L1403.0,1977.2 L1403.8,1977.1 L1404.6,1976.7 L1405.4,1976.3 L1406.2,1975.9 L1407.0,1975.6 L1407.8,1975.2 L1408.6,1974.3 L1409.4,1973.4 L1410.2,1973.9 L1411.0,1975.5 L1411.8,1976.9 L1412.6,1977.4 L1413.4,1977.6 L1414.2,1977.6 L1415.0,1977.4 L1415.8,1976.6 L1416.6,1975.0 L1417.4,1974.7 L1418.2,1976.2 L1419.0,1977.3 L1419.8,1977.6 L1420.6,1977.6 L1421.4,1977.2 L1422.2,1975.8 L1423.0,1974.2 L1423.8,1975.1 L1424.6,1976.9 L1425.4,1977.4 L1426.2,1977.3 L1427.0,1976.8 L1427.8,1976.2 L1428.6,1975.8 L1429.4,1975.8 L1430.2,1976.2 L1431.0,1976.4 L1431.8,1976.2 L1432.6,1976.0 L1433.4,1976.0 L1434.2,1976.2 L1435.0,1976.2 L1435.8,1976.1 L1436.6,1976.1 L1437.4,1976.2 L1438.2,1976.4 L1439.0,1976.7 L1439.8,1977.0 L1440.6,1977.3 L1441.4,1977.4 L1442.2,1977.5 L1443.0,1977.5 L1443.8,1977.3 L1444.6,1976.5 L1445.4,1976.2 L1446.2,1976.8 L1447.0,1977.2 L1447.8,1976.6 L1448.6,1975.3 L1449.4,1974.5 L1450.2,1975.1 L1451.0,1976.5 L1451.8,1977.3 L1452.6,1977.5 L1453.4,1977.5 L1454.2,1977.3 L1455.0,1977.0 L1455.8,1976.7 L1456.6,1976.5 L1457.4,1976.4 L1458.2,1976.0 L1459.0,1975.4 L1459.8,1975.1 L1460.6,1975.5 L1461.4,1976.3 L1462.2,1977.0 L1463.0,1977.4 L1463.8,1977.4 L1464.6,1977.2 L1465.4,1976.7 L1466.2,1976.0 L1467.0,1975.5 L1467.8,1975.5 L1467.8,1977.6 Z" fill="#e8736b" stroke="none" stroke-width="1"/>
<line x1="869.5" y1="1977.6" x2="1493.7" y2="1977.6" stroke="#222" stroke-width="1.6"/>
<text x="796.3" y="2047.0" font-size="25.5">VIS L2–L4 IT_<tspan font-style="italic">CUX2.RORB</tspan></text>
<path d="M903.0,2074.6 L903.0,2074.1 L903.8,2073.9 L904.6,2073.6 L905.4,2073.4 L906.2,2073.3 L907.0,2073.3 L907.8,2073.5 L908.6,2073.7 L909.4,2073.9 L910.2,2074.1 L911.0,2074.1 L911.8,2073.9 L912.6,2073.5 L913.4,2073.0 L914.2,2072.6 L915.0,2072.4 L915.8,2072.5 L916.6,2072.8 L917.4,2072.9 L918.2,2072.8 L919.0,2072.9 L919.8,2073.3 L920.6,2073.8 L921.4,2074.1 L922.2,2074.1 L923.0,2073.9 L923.8,2073.6 L924.6,2073.4 L925.4,2073.2 L926.2,2073.2 L927.0,2073.2 L927.8,2072.9 L928.6,2072.6 L929.4,2073.0 L930.2,2073.8 L931.0,2074.3 L931.8,2074.5 L932.6,2074.4 L933.4,2074.3 L934.2,2073.8 L935.0,2073.3 L935.8,2072.8 L936.6,2072.7 L937.4,2072.9 L938.2,2073.2 L939.0,2073.0 L939.8,2072.4 L940.6,2071.9 L941.4,2071.9 L942.2,2072.4 L943.0,2072.6 L943.8,2072.3 L944.6,2071.7 L945.4,2071.4 L946.2,2071.3 L947.0,2071.2 L947.8,2071.2 L948.6,2071.4 L949.4,2072.0 L950.2,2072.8 L951.0,2073.4 L951.8,2073.7 L952.6,2073.3 L953.4,2072.4 L954.2,2071.5 L955.0,2071.1 L955.8,2071.7 L956.6,2072.7 L957.4,2073.3 L958.2,2073.2 L959.0,2072.8 L959.8,2072.6 L960.6,2072.8 L961.4,2073.4 L962.2,2074.0 L963.0,2074.3 L963.8,2074.4 L964.6,2074.3 L965.4,2074.1 L966.2,2073.9 L967.0,2073.9 L967.8,2074.0 L968.6,2074.2 L969.4,2074.4 L970.2,2074.5 L971.0,2074.3 L971.8,2073.5 L972.6,2072.8 L973.4,2073.4 L974.2,2074.3 L975.0,2074.5 L975.8,2074.5 L976.6,2074.4 L977.4,2074.3 L978.2,2074.1 L979.0,2073.9 L979.8,2073.9 L980.6,2073.9 L981.4,2073.8 L982.2,2073.6 L983.0,2073.3 L983.8,2073.2 L984.6,2073.3 L985.4,2073.4 L986.2,2073.4 L987.0,2073.5 L987.8,2073.7 L988.6,2074.0 L989.4,2074.1 L990.2,2074.0 L991.0,2073.7 L991.8,2073.3 L992.6,2072.9 L993.4,2072.6 L994.2,2072.6 L995.0,2072.8 L995.8,2072.9 L996.6,2072.8 L997.4,2072.6 L998.2,2072.3 L999.0,2072.0 L999.8,2071.9 L1000.6,2071.7 L1001.4,2071.4 L1002.2,2071.0 L1003.0,2070.8 L1003.8,2071.0 L1004.6,2071.5 L1005.4,2072.4 L1006.2,2073.2 L1007.0,2073.8 L1007.8,2074.1 L1008.6,2074.1 L1009.4,2073.6 L1010.2,2073.0 L1011.0,2072.8 L1011.8,2072.8 L1012.6,2072.8 L1013.4,2072.8 L1014.2,2073.0 L1015.0,2073.3 L1015.8,2073.6 L1016.6,2074.0 L1017.4,2074.2 L1018.2,2074.4 L1019.0,2074.3 L1019.8,2073.5 L1020.6,2072.1 L1021.4,2071.3 L1022.2,2072.2 L1023.0,2073.6 L1023.8,2074.1 L1024.6,2073.9 L1025.4,2073.4 L1026.2,2072.7 L1027.0,2072.1 L1027.8,2071.6 L1028.6,2071.5 L1029.4,2071.8 L1030.2,2072.3 L1031.0,2073.0 L1031.8,2073.7 L1032.6,2074.1 L1033.4,2074.3 L1034.2,2074.2 L1035.0,2073.9 L1035.8,2073.5 L1036.6,2073.6 L1037.4,2074.0 L1038.2,2074.2 L1039.0,2074.2 L1039.8,2073.9 L1040.6,2073.4 L1041.4,2072.8 L1042.2,2072.2 L1043.0,2071.7 L1043.8,2071.6 L1044.6,2071.8 L1045.4,2072.3 L1046.2,2072.8 L1047.0,2073.1 L1047.8,2072.4 L1048.6,2071.2 L1049.4,2071.1 L1050.2,2072.5 L1051.0,2073.9 L1051.8,2074.5 L1052.6,2074.6 L1053.4,2074.6 L1054.2,2074.5 L1055.0,2074.2 L1055.8,2073.4 L1056.6,2072.1 L1057.4,2070.8 L1058.2,2070.2 L1059.0,2070.5 L1059.8,2071.2 L1060.6,2071.7 L1061.4,2072.2 L1062.2,2072.7 L1063.0,2073.2 L1063.8,2073.5 L1064.6,2073.6 L1065.4,2073.5 L1066.2,2073.7 L1067.0,2074.1 L1067.8,2074.3 L1068.6,2074.4 L1069.4,2074.4 L1070.2,2074.2 L1071.0,2074.0 L1071.8,2073.8 L1072.6,2073.7 L1073.4,2073.6 L1074.2,2073.6 L1075.0,2073.7 L1075.8,2073.7 L1076.6,2073.3 L1077.4,2073.0 L1078.2,2073.4 L1079.0,2074.1 L1079.8,2074.5 L1080.6,2074.6 L1081.4,2074.6 L1082.2,2074.6 L1083.0,2074.4 L1083.8,2074.0 L1084.6,2072.9 L1085.4,2071.4 L1086.2,2070.1 L1087.0,2069.7 L1087.8,2070.0 L1088.6,2070.3 L1089.4,2070.2 L1090.2,2069.9 L1091.0,2069.9 L1091.8,2070.0 L1092.6,2070.4 L1093.4,2071.0 L1094.2,2071.4 L1095.0,2071.4 L1095.8,2071.5 L1096.6,2071.1 L1097.4,2070.7 L1098.2,2071.0 L1099.0,2071.1 L1099.8,2070.4 L1100.6,2070.2 L1101.4,2070.2 L1102.2,2070.5 L1103.0,2071.0 L1103.8,2070.6 L1104.6,2071.1 L1105.4,2070.9 L1106.2,2070.1 L1107.0,2070.8 L1107.8,2069.5 L1108.6,2070.2 L1109.4,2072.0 L1110.2,2072.5 L1111.0,2072.4 L1111.8,2072.9 L1112.6,2072.9 L1113.4,2073.1 L1114.2,2072.7 L1115.0,2072.3 L1115.8,2072.2 L1116.6,2072.5 L1117.4,2072.7 L1118.2,2073.3 L1119.0,2073.8 L1119.8,2074.1 L1120.6,2074.3 L1121.4,2074.5 L1122.2,2074.5 L1123.0,2074.2 L1123.8,2073.3 L1124.6,2072.6 L1125.4,2073.2 L1126.2,2074.1 L1127.0,2074.2 L1127.8,2073.7 L1128.6,2072.9 L1129.4,2072.5 L1130.2,2071.3 L1131.0,2066.8 L1131.8,2062.9 L1132.6,2059.2 L1133.4,2059.5 L1134.2,2054.1 L1135.0,2054.6 L1135.8,2056.9 L1136.6,2054.4 L1137.4,2056.6 L1138.2,2064.8 L1139.0,2062.3 L1139.8,2066.2 L1140.6,2064.8 L1141.4,2069.2 L1142.2,2067.7 L1143.0,2068.0 L1143.8,2070.5 L1144.6,2071.2 L1145.4,2071.6 L1146.2,2072.7 L1147.0,2073.2 L1147.8,2073.6 L1148.6,2073.7 L1149.4,2073.4 L1150.2,2073.3 L1151.0,2073.1 L1151.8,2072.9 L1152.6,2072.6 L1153.4,2072.2 L1154.2,2071.8 L1155.0,2071.6 L1155.8,2071.7 L1156.6,2071.9 L1157.4,2071.9 L1158.2,2071.9 L1159.0,2072.0 L1159.8,2072.5 L1160.6,2073.0 L1161.4,2073.5 L1162.2,2073.4 L1163.0,2072.8 L1163.8,2072.5 L1164.6,2072.0 L1165.4,2071.1 L1166.2,2070.5 L1167.0,2068.3 L1167.8,2067.7 L1168.6,2066.9 L1169.4,2064.8 L1170.2,2060.4 L1171.0,2062.7 L1171.8,2058.7 L1172.6,2054.8 L1173.4,2051.7 L1174.2,2049.6 L1175.0,2048.8 L1175.8,2032.6 L1176.6,2042.9 L1177.4,2037.9 L1178.2,2037.7 L1179.0,2030.6 L1179.8,2028.6 L1180.6,2033.8 L1181.4,2023.8 L1182.2,2012.4 L1183.0,2001.7 L1183.8,1995.7 L1184.6,1990.8 L1185.4,1994.7 L1186.2,1997.9 L1187.0,2024.5 L1187.8,2012.8 L1188.6,2026.0 L1189.4,2033.2 L1190.2,2039.4 L1191.0,2040.9 L1191.8,2045.7 L1192.6,2042.7 L1193.4,2039.6 L1194.2,2033.6 L1195.0,2048.6 L1195.8,2041.0 L1196.6,2046.1 L1197.4,2052.3 L1198.2,2057.9 L1199.0,2064.0 L1199.8,2066.8 L1200.6,2068.2 L1201.4,2067.4 L1202.2,2070.1 L1203.0,2070.9 L1203.8,2072.7 L1204.6,2073.4 L1205.4,2073.7 L1206.2,2073.7 L1207.0,2073.5 L1207.8,2073.4 L1208.6,2073.4 L1209.4,2073.5 L1210.2,2073.7 L1211.0,2074.0 L1211.8,2074.2 L1212.6,2074.2 L1213.4,2074.2 L1214.2,2074.0 L1215.0,2073.8 L1215.8,2073.4 L1216.6,2073.2 L1217.4,2072.7 L1218.2,2072.2 L1219.0,2071.6 L1219.8,2071.2 L1220.6,2070.7 L1221.4,2071.0 L1222.2,2070.7 L1223.0,2071.9 L1223.8,2072.5 L1224.6,2072.3 L1225.4,2071.7 L1226.2,2071.6 L1227.0,2070.5 L1227.8,2069.8 L1228.6,2068.3 L1229.4,2067.2 L1230.2,2069.3 L1231.0,2070.3 L1231.8,2071.0 L1232.6,2071.9 L1233.4,2071.0 L1234.2,2071.5 L1235.0,2072.2 L1235.8,2071.7 L1236.6,2070.6 L1237.4,2071.3 L1238.2,2070.6 L1239.0,2070.2 L1239.8,2069.0 L1240.6,2066.6 L1241.4,2061.6 L1242.2,2063.4 L1243.0,2064.7 L1243.8,2062.2 L1244.6,2061.5 L1245.4,2064.9 L1246.2,2068.0 L1247.0,2069.8 L1247.8,2072.3 L1248.6,2073.0 L1249.4,2073.0 L1250.2,2073.1 L1251.0,2073.7 L1251.8,2074.2 L1252.6,2074.4 L1253.4,2074.2 L1254.2,2073.8 L1255.0,2073.3 L1255.8,2072.6 L1256.6,2072.2 L1257.4,2072.0 L1258.2,2072.3 L1259.0,2072.9 L1259.8,2073.5 L1260.6,2074.0 L1261.4,2074.2 L1262.2,2074.3 L1263.0,2074.3 L1263.8,2074.0 L1264.6,2073.0 L1265.4,2071.6 L1266.2,2071.6 L1267.0,2072.1 L1267.8,2071.4 L1268.6,2071.0 L1269.4,2070.1 L1270.2,2069.5 L1271.0,2068.0 L1271.8,2066.6 L1272.6,2065.3 L1273.4,2066.9 L1274.2,2063.9 L1275.0,2059.8 L1275.8,2055.9 L1276.6,2053.5 L1277.4,2050.3 L1278.2,2045.9 L1279.0,2043.5 L1279.8,2047.4 L1280.6,2034.2 L1281.4,2013.5 L1282.2,2021.2 L1283.0,2008.4 L1283.8,1993.4 L1284.6,2004.6 L1285.4,2009.3 L1286.2,2021.5 L1287.0,2020.5 L1287.8,2018.4 L1288.6,2014.2 L1289.4,2012.7 L1290.2,2033.4 L1291.0,2031.5 L1291.8,2022.9 L1292.6,2032.4 L1293.4,2043.2 L1294.2,2044.9 L1295.0,2047.2 L1295.8,2054.7 L1296.6,2063.1 L1297.4,2064.8 L1298.2,2065.4 L1299.0,2067.6 L1299.8,2067.9 L1300.6,2068.8 L1301.4,2069.7 L1302.2,2069.6 L1303.0,2069.7 L1303.8,2070.6 L1304.6,2069.6 L1305.4,2068.7 L1306.2,2068.1 L1307.0,2067.6 L1307.8,2068.7 L1308.6,2066.6 L1309.4,2069.3 L1310.2,2068.8 L1311.0,2070.3 L1311.8,2070.8 L1312.6,2072.4 L1313.4,2072.9 L1314.2,2072.8 L1315.0,2072.5 L1315.8,2072.7 L1316.6,2073.0 L1317.4,2072.8 L1318.2,2072.5 L1319.0,2072.2 L1319.8,2072.1 L1320.6,2072.1 L1321.4,2072.2 L1322.2,2072.3 L1323.0,2072.4 L1323.8,2072.6 L1324.6,2072.9 L1325.4,2073.3 L1326.2,2073.7 L1327.0,2073.7 L1327.8,2073.0 L1328.6,2072.2 L1329.4,2072.3 L1330.2,2073.4 L1331.0,2074.2 L1331.8,2074.4 L1332.6,2074.2 L1333.4,2073.8 L1334.2,2073.2 L1335.0,2072.3 L1335.8,2071.6 L1336.6,2071.1 L1337.4,2071.1 L1338.2,2071.6 L1339.0,2072.3 L1339.8,2073.1 L1340.6,2073.8 L1341.4,2074.2 L1342.2,2074.4 L1343.0,2074.5 L1343.8,2074.4 L1344.6,2073.7 L1345.4,2072.8 L1346.2,2073.0 L1347.0,2073.6 L1347.8,2073.3 L1348.6,2072.3 L1349.4,2071.4 L1350.2,2071.1 L1351.0,2071.6 L1351.8,2072.4 L1352.6,2072.9 L1353.4,2073.0 L1354.2,2073.0 L1355.0,2073.2 L1355.8,2073.2 L1356.6,2072.7 L1357.4,2072.0 L1358.2,2071.3 L1359.0,2071.0 L1359.8,2071.1 L1360.6,2071.6 L1361.4,2072.3 L1362.2,2073.0 L1363.0,2073.7 L1363.8,2074.0 L1364.6,2073.8 L1365.4,2072.8 L1366.2,2071.8 L1367.0,2071.7 L1367.8,2072.8 L1368.6,2073.9 L1369.4,2074.4 L1370.2,2074.5 L1371.0,2074.4 L1371.8,2074.1 L1372.6,2073.7 L1373.4,2073.3 L1374.2,2073.1 L1375.0,2072.7 L1375.8,2071.8 L1376.6,2070.7 L1377.4,2071.2 L1378.2,2072.8 L1379.0,2073.9 L1379.8,2074.0 L1380.6,2073.6 L1381.4,2072.9 L1382.2,2072.2 L1383.0,2071.8 L1383.8,2071.9 L1384.6,2072.4 L1385.4,2073.0 L1386.2,2073.4 L1387.0,2073.6 L1387.8,2073.4 L1388.6,2073.1 L1389.4,2072.9 L1390.2,2072.7 L1391.0,2072.8 L1391.8,2073.1 L1392.6,2073.5 L1393.4,2073.7 L1394.2,2073.8 L1395.0,2073.6 L1395.8,2073.3 L1396.6,2072.8 L1397.4,2072.4 L1398.2,2072.0 L1399.0,2072.0 L1399.8,2072.2 L1400.6,2072.6 L1401.4,2073.1 L1402.2,2073.5 L1403.0,2073.8 L1403.8,2074.0 L1404.6,2074.0 L1405.4,2073.8 L1406.2,2073.6 L1407.0,2073.4 L1407.8,2072.9 L1408.6,2072.2 L1409.4,2071.6 L1410.2,2071.7 L1411.0,2072.4 L1411.8,2073.3 L1412.6,2074.0 L1413.4,2074.3 L1414.2,2074.3 L1415.0,2074.2 L1415.8,2074.0 L1416.6,2073.9 L1417.4,2073.8 L1418.2,2073.6 L1419.0,2073.5 L1419.8,2072.9 L1420.6,2072.1 L1421.4,2071.8 L1422.2,2071.6 L1423.0,2071.1 L1423.8,2070.8 L1424.6,2070.9 L1425.4,2071.4 L1426.2,2072.2 L1427.0,2073.0 L1427.8,2073.6 L1428.6,2073.9 L1429.4,2074.0 L1430.2,2073.9 L1431.0,2073.6 L1431.8,2073.4 L1432.6,2073.3 L1433.4,2073.4 L1434.2,2073.7 L1435.0,2074.0 L1435.8,2074.3 L1436.6,2074.4 L1437.4,2074.3 L1438.2,2073.7 L1439.0,2072.7 L1439.8,2071.8 L1440.6,2071.8 L1441.4,2072.7 L1442.2,2073.7 L1443.0,2074.3 L1443.8,2074.5 L1444.6,2074.4 L1445.4,2074.1 L1446.2,2073.5 L1447.0,2072.8 L1447.8,2072.1 L1448.6,2071.5 L1449.4,2071.3 L1450.2,2071.5 L1451.0,2071.8 L1451.8,2072.0 L1452.6,2072.2 L1453.4,2072.3 L1454.2,2072.5 L1455.0,2072.7 L1455.8,2072.8 L1456.6,2072.8 L1457.4,2072.6 L1458.2,2072.4 L1459.0,2072.3 L1459.8,2072.4 L1460.6,2072.7 L1461.4,2073.1 L1462.2,2073.5 L1463.0,2073.1 L1463.8,2071.7 L1464.6,2071.1 L1465.4,2072.6 L1466.2,2074.1 L1467.0,2074.5 L1467.8,2074.6 L1467.8,2074.6 Z" fill="#b39a1e" stroke="none" stroke-width="1"/>
<line x1="869.5" y1="2074.6" x2="1493.7" y2="2074.6" stroke="#222" stroke-width="1.6"/>
<text x="796.3" y="2143.8" font-size="25.5">PFC L3–L5/L6 IT_<tspan font-style="italic">RORB</tspan></text>
<path d="M903.0,2172.1 L903.0,2169.7 L903.8,2168.8 L904.6,2169.4 L905.4,2170.8 L906.2,2171.8 L907.0,2172.0 L907.8,2171.8 L908.6,2171.3 L909.4,2170.3 L910.2,2169.3 L911.0,2168.8 L911.8,2169.3 L912.6,2170.3 L913.4,2171.2 L914.2,2171.8 L915.0,2172.0 L915.8,2171.7 L916.6,2170.3 L917.4,2169.0 L918.2,2169.8 L919.0,2171.2 L919.8,2171.7 L920.6,2171.3 L921.4,2170.6 L922.2,2169.6 L923.0,2168.9 L923.8,2168.8 L924.6,2169.4 L925.4,2170.4 L926.2,2171.2 L927.0,2171.7 L927.8,2171.9 L928.6,2171.7 L929.4,2171.0 L930.2,2169.8 L931.0,2168.6 L931.8,2168.1 L932.6,2168.5 L933.4,2169.4 L934.2,2170.2 L935.0,2170.5 L935.8,2170.6 L936.6,2170.8 L937.4,2171.1 L938.2,2171.3 L939.0,2171.5 L939.8,2171.3 L940.6,2170.6 L941.4,2169.7 L942.2,2168.9 L943.0,2168.9 L943.8,2169.6 L944.6,2170.5 L945.4,2171.0 L946.2,2171.1 L947.0,2170.7 L947.8,2170.1 L948.6,2169.6 L949.4,2169.2 L950.2,2168.8 L951.0,2168.6 L951.8,2168.5 L952.6,2168.9 L953.4,2169.7 L954.2,2170.6 L955.0,2171.3 L955.8,2171.7 L956.6,2171.8 L957.4,2171.3 L958.2,2170.5 L959.0,2170.2 L959.8,2170.8 L960.6,2170.9 L961.4,2170.3 L962.2,2169.3 L963.0,2168.6 L963.8,2168.6 L964.6,2169.4 L965.4,2170.4 L966.2,2171.2 L967.0,2171.7 L967.8,2171.6 L968.6,2171.2 L969.4,2170.4 L970.2,2169.7 L971.0,2169.6 L971.8,2170.1 L972.6,2170.9 L973.4,2171.6 L974.2,2171.9 L975.0,2172.1 L975.8,2172.1 L976.6,2172.0 L977.4,2171.6 L978.2,2171.0 L979.0,2170.6 L979.8,2170.8 L980.6,2171.4 L981.4,2171.8 L982.2,2171.7 L983.0,2171.2 L983.8,2170.2 L984.6,2169.2 L985.4,2168.7 L986.2,2169.0 L987.0,2169.9 L987.8,2170.6 L988.6,2170.8 L989.4,2170.5 L990.2,2169.9 L991.0,2169.5 L991.8,2169.2 L992.6,2169.6 L993.4,2170.0 L994.2,2170.4 L995.0,2170.9 L995.8,2170.8 L996.6,2169.9 L997.4,2169.3 L998.2,2168.2 L999.0,2167.2 L999.8,2165.9 L1000.6,2166.6 L1001.4,2166.4 L1002.2,2167.3 L1003.0,2167.8 L1003.8,2165.7 L1004.6,2164.8 L1005.4,2164.6 L1006.2,2165.4 L1007.0,2166.4 L1007.8,2167.3 L1008.6,2168.9 L1009.4,2168.6 L1010.2,2167.3 L1011.0,2166.9 L1011.8,2166.0 L1012.6,2166.5 L1013.4,2167.3 L1014.2,2168.1 L1015.0,2168.1 L1015.8,2167.9 L1016.6,2167.7 L1017.4,2167.9 L1018.2,2168.8 L1019.0,2169.8 L1019.8,2170.8 L1020.6,2171.4 L1021.4,2171.6 L1022.2,2171.5 L1023.0,2170.9 L1023.8,2170.0 L1024.6,2169.2 L1025.4,2168.8 L1026.2,2169.0 L1027.0,2169.9 L1027.8,2170.8 L1028.6,2171.5 L1029.4,2171.9 L1030.2,2172.0 L1031.0,2171.9 L1031.8,2171.4 L1032.6,2170.6 L1033.4,2169.7 L1034.2,2169.2 L1035.0,2169.4 L1035.8,2170.3 L1036.6,2171.2 L1037.4,2171.8 L1038.2,2172.0 L1039.0,2172.0 L1039.8,2171.9 L1040.6,2171.3 L1041.4,2169.7 L1042.2,2167.2 L1043.0,2165.6 L1043.8,2166.0 L1044.6,2167.0 L1045.4,2167.5 L1046.2,2167.7 L1047.0,2167.9 L1047.8,2168.3 L1048.6,2168.8 L1049.4,2169.0 L1050.2,2169.2 L1051.0,2169.3 L1051.8,2169.5 L1052.6,2170.1 L1053.4,2170.5 L1054.2,2170.4 L1055.0,2170.8 L1055.8,2170.8 L1056.6,2170.2 L1057.4,2169.7 L1058.2,2168.9 L1059.0,2168.8 L1059.8,2168.4 L1060.6,2168.7 L1061.4,2169.2 L1062.2,2169.7 L1063.0,2170.2 L1063.8,2170.1 L1064.6,2170.0 L1065.4,2169.8 L1066.2,2169.1 L1067.0,2169.5 L1067.8,2169.6 L1068.6,2169.2 L1069.4,2168.7 L1070.2,2168.9 L1071.0,2169.7 L1071.8,2169.6 L1072.6,2169.2 L1073.4,2169.6 L1074.2,2170.3 L1075.0,2170.6 L1075.8,2170.5 L1076.6,2170.6 L1077.4,2170.7 L1078.2,2170.5 L1079.0,2169.7 L1079.8,2168.8 L1080.6,2168.4 L1081.4,2168.8 L1082.2,2169.7 L1083.0,2170.3 L1083.8,2170.4 L1084.6,2170.4 L1085.4,2170.7 L1086.2,2171.3 L1087.0,2171.8 L1087.8,2172.0 L1088.6,2171.9 L1089.4,2171.7 L1090.2,2171.2 L1091.0,2170.7 L1091.8,2170.4 L1092.6,2170.5 L1093.4,2171.0 L1094.2,2171.5 L1095.0,2171.8 L1095.8,2171.8 L1096.6,2171.5 L1097.4,2170.7 L1098.2,2169.5 L1099.0,2168.4 L1099.8,2168.0 L1100.6,2168.5 L1101.4,2169.7 L1102.2,2170.9 L1103.0,2171.6 L1103.8,2171.9 L1104.6,2172.0 L1105.4,2171.5 L1106.2,2170.4 L1107.0,2168.9 L1107.8,2168.1 L1108.6,2168.6 L1109.4,2169.5 L1110.2,2169.9 L1111.0,2169.9 L1111.8,2169.6 L1112.6,2169.3 L1113.4,2168.8 L1114.2,2168.3 L1115.0,2167.9 L1115.8,2167.8 L1116.6,2168.1 L1117.4,2168.7 L1118.2,2169.5 L1119.0,2170.3 L1119.8,2171.0 L1120.6,2171.5 L1121.4,2171.8 L1122.2,2171.9 L1123.0,2171.3 L1123.8,2169.8 L1124.6,2169.3 L1125.4,2170.5 L1126.2,2171.1 L1127.0,2170.9 L1127.8,2170.5 L1128.6,2170.3 L1129.4,2170.4 L1130.2,2170.6 L1131.0,2170.4 L1131.8,2170.0 L1132.6,2168.4 L1133.4,2167.6 L1134.2,2164.4 L1135.0,2161.2 L1135.8,2159.5 L1136.6,2162.2 L1137.4,2161.9 L1138.2,2162.4 L1139.0,2164.5 L1139.8,2168.9 L1140.6,2169.2 L1141.4,2169.7 L1142.2,2170.0 L1143.0,2169.4 L1143.8,2168.8 L1144.6,2168.7 L1145.4,2169.3 L1146.2,2170.2 L1147.0,2171.1 L1147.8,2171.5 L1148.6,2171.6 L1149.4,2171.4 L1150.2,2170.9 L1151.0,2170.5 L1151.8,2170.2 L1152.6,2170.1 L1153.4,2170.4 L1154.2,2170.7 L1155.0,2171.2 L1155.8,2171.6 L1156.6,2171.8 L1157.4,2171.8 L1158.2,2170.8 L1159.0,2168.7 L1159.8,2167.9 L1160.6,2169.6 L1161.4,2170.7 L1162.2,2169.4 L1163.0,2167.7 L1163.8,2168.0 L1164.6,2169.8 L1165.4,2171.1 L1166.2,2171.1 L1167.0,2170.3 L1167.8,2169.4 L1168.6,2168.9 L1169.4,2169.1 L1170.2,2169.9 L1171.0,2170.8 L1171.8,2171.4 L1172.6,2171.7 L1173.4,2171.4 L1174.2,2170.9 L1175.0,2169.6 L1175.8,2166.9 L1176.6,2165.0 L1177.4,2163.7 L1178.2,2163.1 L1179.0,2162.6 L1179.8,2163.7 L1180.6,2162.9 L1181.4,2163.3 L1182.2,2164.0 L1183.0,2166.1 L1183.8,2167.1 L1184.6,2167.0 L1185.4,2168.6 L1186.2,2170.5 L1187.0,2171.0 L1187.8,2171.1 L1188.6,2170.6 L1189.4,2170.4 L1190.2,2170.0 L1191.0,2170.0 L1191.8,2170.4 L1192.6,2170.9 L1193.4,2171.3 L1194.2,2171.5 L1195.0,2171.4 L1195.8,2171.1 L1196.6,2170.5 L1197.4,2169.7 L1198.2,2168.9 L1199.0,2168.1 L1199.8,2167.4 L1200.6,2166.8 L1201.4,2166.6 L1202.2,2166.9 L1203.0,2167.7 L1203.8,2168.8 L1204.6,2169.9 L1205.4,2170.8 L1206.2,2171.4 L1207.0,2171.8 L1207.8,2171.8 L1208.6,2171.7 L1209.4,2171.4 L1210.2,2171.2 L1211.0,2171.1 L1211.8,2171.2 L1212.6,2171.4 L1213.4,2171.5 L1214.2,2171.3 L1215.0,2170.5 L1215.8,2169.4 L1216.6,2168.4 L1217.4,2167.9 L1218.2,2167.9 L1219.0,2167.9 L1219.8,2167.8 L1220.6,2167.6 L1221.4,2167.6 L1222.2,2168.0 L1223.0,2168.7 L1223.8,2169.5 L1224.6,2170.1 L1225.4,2170.1 L1226.2,2169.5 L1227.0,2168.5 L1227.8,2167.6 L1228.6,2167.4 L1229.4,2167.7 L1230.2,2167.7 L1231.0,2167.3 L1231.8,2168.1 L1232.6,2170.2 L1233.4,2171.6 L1234.2,2172.0 L1235.0,2172.1 L1235.8,2172.0 L1236.6,2171.5 L1237.4,2170.4 L1238.2,2169.1 L1239.0,2168.7 L1239.8,2169.7 L1240.6,2170.8 L1241.4,2171.0 L1242.2,2170.9 L1243.0,2171.2 L1243.8,2171.7 L1244.6,2171.9 L1245.4,2172.0 L1246.2,2171.9 L1247.0,2171.7 L1247.8,2171.5 L1248.6,2171.1 L1249.4,2170.7 L1250.2,2170.4 L1251.0,2170.1 L1251.8,2169.8 L1252.6,2169.5 L1253.4,2169.2 L1254.2,2169.2 L1255.0,2169.6 L1255.8,2170.2 L1256.6,2170.7 L1257.4,2170.3 L1258.2,2168.9 L1259.0,2167.6 L1259.8,2167.8 L1260.6,2169.4 L1261.4,2171.0 L1262.2,2171.8 L1263.0,2171.9 L1263.8,2171.2 L1264.6,2170.5 L1265.4,2170.6 L1266.2,2171.3 L1267.0,2171.9 L1267.8,2172.0 L1268.6,2171.8 L1269.4,2171.4 L1270.2,2170.9 L1271.0,2170.2 L1271.8,2169.9 L1272.6,2170.0 L1273.4,2170.5 L1274.2,2170.9 L1275.0,2170.9 L1275.8,2170.8 L1276.6,2169.3 L1277.4,2166.4 L1278.2,2164.3 L1279.0,2162.8 L1279.8,2157.7 L1280.6,2163.4 L1281.4,2159.7 L1282.2,2158.1 L1283.0,2163.0 L1283.8,2162.4 L1284.6,2165.1 L1285.4,2164.1 L1286.2,2162.5 L1287.0,2165.5 L1287.8,2166.1 L1288.6,2166.0 L1289.4,2163.7 L1290.2,2164.5 L1291.0,2162.3 L1291.8,2163.1 L1292.6,2164.4 L1293.4,2165.8 L1294.2,2168.0 L1295.0,2168.6 L1295.8,2169.2 L1296.6,2169.8 L1297.4,2169.7 L1298.2,2169.3 L1299.0,2168.7 L1299.8,2168.1 L1300.6,2167.6 L1301.4,2167.4 L1302.2,2167.4 L1303.0,2167.7 L1303.8,2168.3 L1304.6,2169.1 L1305.4,2169.6 L1306.2,2169.6 L1307.0,2169.3 L1307.8,2168.9 L1308.6,2168.7 L1309.4,2168.8 L1310.2,2169.0 L1311.0,2168.8 L1311.8,2168.3 L1312.6,2167.9 L1313.4,2167.6 L1314.2,2167.5 L1315.0,2167.7 L1315.8,2168.0 L1316.6,2168.5 L1317.4,2169.0 L1318.2,2169.7 L1319.0,2170.3 L1319.8,2170.7 L1320.6,2170.9 L1321.4,2170.6 L1322.2,2169.9 L1323.0,2169.0 L1323.8,2168.3 L1324.6,2168.0 L1325.4,2168.4 L1326.2,2169.3 L1327.0,2170.3 L1327.8,2171.0 L1328.6,2171.4 L1329.4,2171.2 L1330.2,2170.6 L1331.0,2169.6 L1331.8,2168.6 L1332.6,2167.8 L1333.4,2167.7 L1334.2,2168.3 L1335.0,2169.1 L1335.8,2169.8 L1336.6,2170.3 L1337.4,2170.6 L1338.2,2170.9 L1339.0,2171.2 L1339.8,2171.4 L1340.6,2171.7 L1341.4,2171.9 L1342.2,2171.8 L1343.0,2171.3 L1343.8,2170.1 L1344.6,2168.5 L1345.4,2167.7 L1346.2,2168.6 L1347.0,2170.2 L1347.8,2171.4 L1348.6,2171.9 L1349.4,2172.0 L1350.2,2171.6 L1351.0,2170.5 L1351.8,2168.7 L1352.6,2167.5 L1353.4,2168.0 L1354.2,2169.2 L1355.0,2170.0 L1355.8,2170.5 L1356.6,2171.1 L1357.4,2171.4 L1358.2,2171.3 L1359.0,2170.7 L1359.8,2169.9 L1360.6,2169.0 L1361.4,2168.3 L1362.2,2167.9 L1363.0,2168.0 L1363.8,2168.5 L1364.6,2169.0 L1365.4,2169.2 L1366.2,2169.1 L1367.0,2168.6 L1367.8,2167.9 L1368.6,2167.4 L1369.4,2167.2 L1370.2,2167.3 L1371.0,2167.5 L1371.8,2167.6 L1372.6,2167.5 L1373.4,2167.2 L1374.2,2167.1 L1375.0,2167.4 L1375.8,2168.1 L1376.6,2168.9 L1377.4,2168.8 L1378.2,2168.3 L1379.0,2168.7 L1379.8,2170.1 L1380.6,2171.4 L1381.4,2171.9 L1382.2,2171.5 L1383.0,2169.5 L1383.8,2168.0 L1384.6,2169.7 L1385.4,2171.6 L1386.2,2172.0 L1387.0,2171.8 L1387.8,2171.3 L1388.6,2170.3 L1389.4,2169.4 L1390.2,2169.0 L1391.0,2169.0 L1391.8,2168.7 L1392.6,2168.3 L1393.4,2168.3 L1394.2,2168.8 L1395.0,2169.1 L1395.8,2169.4 L1396.6,2169.5 L1397.4,2169.1 L1398.2,2167.7 L1399.0,2167.4 L1399.8,2169.2 L1400.6,2170.7 L1401.4,2171.0 L1402.2,2170.6 L1403.0,2170.2 L1403.8,2169.8 L1404.6,2169.8 L1405.4,2170.0 L1406.2,2170.4 L1407.0,2170.9 L1407.8,2171.4 L1408.6,2171.7 L1409.4,2171.7 L1410.2,2171.4 L1411.0,2170.4 L1411.8,2169.1 L1412.6,2168.3 L1413.4,2168.6 L1414.2,2169.4 L1415.0,2169.7 L1415.8,2169.1 L1416.6,2168.3 L1417.4,2168.0 L1418.2,2168.5 L1419.0,2169.7 L1419.8,2170.8 L1420.6,2171.5 L1421.4,2171.6 L1422.2,2170.9 L1423.0,2169.4 L1423.8,2168.4 L1424.6,2169.0 L1425.4,2170.4 L1426.2,2171.0 L1427.0,2170.3 L1427.8,2168.8 L1428.6,2167.6 L1429.4,2167.7 L1430.2,2169.1 L1431.0,2170.6 L1431.8,2171.6 L1432.6,2172.0 L1433.4,2172.1 L1434.2,2172.1 L1435.0,2172.0 L1435.8,2171.5 L1436.6,2170.7 L1437.4,2170.8 L1438.2,2171.5 L1439.0,2171.8 L1439.8,2171.5 L1440.6,2171.1 L1441.4,2170.6 L1442.2,2170.2 L1443.0,2170.1 L1443.8,2170.4 L1444.6,2170.9 L1445.4,2171.4 L1446.2,2171.7 L1447.0,2171.8 L1447.8,2171.7 L1448.6,2171.4 L1449.4,2171.0 L1450.2,2170.7 L1451.0,2170.4 L1451.8,2170.0 L1452.6,2169.4 L1453.4,2168.7 L1454.2,2168.0 L1455.0,2167.7 L1455.8,2167.9 L1456.6,2168.5 L1457.4,2169.4 L1458.2,2170.4 L1459.0,2171.1 L1459.8,2171.5 L1460.6,2171.4 L1461.4,2170.7 L1462.2,2169.5 L1463.0,2168.5 L1463.8,2168.5 L1464.6,2169.5 L1465.4,2170.8 L1466.2,2171.6 L1467.0,2172.0 L1467.8,2172.1 L1467.8,2172.1 Z" fill="#3aae3a" stroke="none" stroke-width="1"/>
<line x1="869.5" y1="2172.1" x2="1493.7" y2="2172.1" stroke="#222" stroke-width="1.6"/>
<text x="796.3" y="2239.0" font-size="25.5">VIS L3–L5/L6 IT_<tspan font-style="italic">RORB</tspan></text>
<path d="M903.0,2269.2 L903.0,2269.2 L903.8,2269.1 L904.6,2269.0 L905.4,2268.8 L906.2,2268.5 L907.0,2268.2 L907.8,2267.8 L908.6,2267.6 L909.4,2267.6 L910.2,2267.9 L911.0,2268.3 L911.8,2268.6 L912.6,2268.9 L913.4,2269.1 L914.2,2269.0 L915.0,2268.7 L915.8,2268.2 L916.6,2268.3 L917.4,2268.8 L918.2,2269.1 L919.0,2269.2 L919.8,2269.1 L920.6,2268.9 L921.4,2268.6 L922.2,2268.4 L923.0,2268.4 L923.8,2268.6 L924.6,2268.9 L925.4,2269.1 L926.2,2269.2 L927.0,2269.2 L927.8,2269.2 L928.6,2268.9 L929.4,2268.2 L930.2,2266.8 L931.0,2266.2 L931.8,2266.9 L932.6,2267.7 L933.4,2268.1 L934.2,2268.1 L935.0,2268.0 L935.8,2267.7 L936.6,2267.6 L937.4,2268.0 L938.2,2268.2 L939.0,2267.8 L939.8,2267.3 L940.6,2267.6 L941.4,2268.1 L942.2,2268.2 L943.0,2267.8 L943.8,2267.3 L944.6,2267.0 L945.4,2266.9 L946.2,2267.1 L947.0,2267.3 L947.8,2267.4 L948.6,2267.2 L949.4,2266.8 L950.2,2266.7 L951.0,2267.0 L951.8,2267.6 L952.6,2268.2 L953.4,2268.7 L954.2,2269.0 L955.0,2269.0 L955.8,2268.9 L956.6,2268.6 L957.4,2268.2 L958.2,2268.1 L959.0,2268.2 L959.8,2268.5 L960.6,2268.6 L961.4,2268.4 L962.2,2267.8 L963.0,2267.1 L963.8,2266.6 L964.6,2266.5 L965.4,2266.8 L966.2,2267.5 L967.0,2268.1 L967.8,2268.3 L968.6,2268.1 L969.4,2267.7 L970.2,2267.3 L971.0,2267.1 L971.8,2266.9 L972.6,2266.6 L973.4,2266.4 L974.2,2266.4 L975.0,2266.7 L975.8,2267.2 L976.6,2267.7 L977.4,2268.2 L978.2,2268.5 L979.0,2268.5 L979.8,2268.2 L980.6,2267.9 L981.4,2267.6 L982.2,2267.4 L983.0,2267.6 L983.8,2267.9 L984.6,2268.1 L985.4,2267.9 L986.2,2267.4 L987.0,2267.5 L987.8,2268.3 L988.6,2268.9 L989.4,2269.1 L990.2,2268.9 L991.0,2268.4 L991.8,2268.1 L992.6,2268.4 L993.4,2268.9 L994.2,2269.1 L995.0,2269.2 L995.8,2269.1 L996.6,2269.0 L997.4,2268.9 L998.2,2268.7 L999.0,2268.6 L999.8,2268.5 L1000.6,2268.4 L1001.4,2268.5 L1002.2,2268.7 L1003.0,2268.8 L1003.8,2268.9 L1004.6,2268.9 L1005.4,2268.8 L1006.2,2268.6 L1007.0,2268.5 L1007.8,2268.5 L1008.6,2268.6 L1009.4,2268.9 L1010.2,2269.0 L1011.0,2269.1 L1011.8,2269.1 L1012.6,2268.9 L1013.4,2268.5 L1014.2,2267.8 L1015.0,2267.1 L1015.8,2266.5 L1016.6,2266.4 L1017.4,2266.8 L1018.2,2267.6 L1019.0,2268.3 L1019.8,2268.8 L1020.6,2269.0 L1021.4,2268.8 L1022.2,2268.2 L1023.0,2267.4 L1023.8,2267.0 L1024.6,2267.3 L1025.4,2268.1 L1026.2,2268.7 L1027.0,2268.8 L1027.8,2268.5 L1028.6,2267.9 L1029.4,2267.4 L1030.2,2267.3 L1031.0,2267.7 L1031.8,2268.3 L1032.6,2268.8 L1033.4,2268.9 L1034.2,2268.8 L1035.0,2268.5 L1035.8,2268.2 L1036.6,2267.8 L1037.4,2267.6 L1038.2,2267.6 L1039.0,2267.6 L1039.8,2267.3 L1040.6,2267.0 L1041.4,2267.7 L1042.2,2268.7 L1043.0,2269.0 L1043.8,2268.9 L1044.6,2268.5 L1045.4,2267.9 L1046.2,2267.2 L1047.0,2266.7 L1047.8,2266.7 L1048.6,2267.2 L1049.4,2267.9 L1050.2,2268.5 L1051.0,2268.7 L1051.8,2268.4 L1052.6,2267.8 L1053.4,2267.2 L1054.2,2267.3 L1055.0,2267.9 L1055.8,2268.2 L1056.6,2268.0 L1057.4,2267.6 L1058.2,2267.3 L1059.0,2267.4 L1059.8,2267.6 L1060.6,2268.0 L1061.4,2268.1 L1062.2,2267.9 L1063.0,2267.5 L1063.8,2267.5 L1064.6,2268.0 L1065.4,2268.5 L1066.2,2268.9 L1067.0,2268.8 L1067.8,2268.4 L1068.6,2267.6 L1069.4,2267.1 L1070.2,2267.3 L1071.0,2267.9 L1071.8,2268.6 L1072.6,2268.8 L1073.4,2268.7 L1074.2,2268.2 L1075.0,2267.6 L1075.8,2266.9 L1076.6,2266.7 L1077.4,2266.9 L1078.2,2267.6 L1079.0,2268.2 L1079.8,2268.7 L1080.6,2268.9 L1081.4,2268.9 L1082.2,2268.7 L1083.0,2268.4 L1083.8,2268.1 L1084.6,2267.9 L1085.4,2267.6 L1086.2,2267.3 L1087.0,2267.1 L1087.8,2266.9 L1088.6,2266.6 L1089.4,2266.4 L1090.2,2266.3 L1091.0,2266.3 L1091.8,2266.5 L1092.6,2266.9 L1093.4,2267.4 L1094.2,2267.9 L1095.0,2268.4 L1095.8,2268.8 L1096.6,2268.9 L1097.4,2268.9 L1098.2,2268.6 L1099.0,2268.0 L1099.8,2267.3 L1100.6,2267.1 L1101.4,2267.5 L1102.2,2268.2 L1103.0,2268.6 L1103.8,2268.2 L1104.6,2266.9 L1105.4,2266.1 L1106.2,2266.4 L1107.0,2266.6 L1107.8,2266.5 L1108.6,2266.7 L1109.4,2266.9 L1110.2,2267.0 L1111.0,2267.1 L1111.8,2267.5 L1112.6,2268.1 L1113.4,2268.7 L1114.2,2269.0 L1115.0,2269.1 L1115.8,2269.0 L1116.6,2268.8 L1117.4,2268.5 L1118.2,2268.2 L1119.0,2268.0 L1119.8,2268.0 L1120.6,2268.1 L1121.4,2268.4 L1122.2,2268.7 L1123.0,2268.9 L1123.8,2269.0 L1124.6,2268.9 L1125.4,2268.6 L1126.2,2268.1 L1127.0,2267.9 L1127.8,2268.2 L1128.6,2268.6 L1129.4,2268.7 L1130.2,2268.5 L1131.0,2268.0 L1131.8,2267.2 L1132.6,2266.6 L1133.4,2265.4 L1134.2,2265.4 L1135.0,2263.3 L1135.8,2264.2 L1136.6,2262.7 L1137.4,2260.2 L1138.2,2260.6 L1139.0,2263.2 L1139.8,2264.4 L1140.6,2264.6 L1141.4,2265.8 L1142.2,2266.8 L1143.0,2267.2 L1143.8,2267.7 L1144.6,2267.8 L1145.4,2267.8 L1146.2,2267.6 L1147.0,2267.4 L1147.8,2267.4 L1148.6,2267.5 L1149.4,2267.8 L1150.2,2268.2 L1151.0,2268.6 L1151.8,2268.8 L1152.6,2269.0 L1153.4,2269.0 L1154.2,2268.9 L1155.0,2268.8 L1155.8,2268.6 L1156.6,2268.4 L1157.4,2268.1 L1158.2,2267.8 L1159.0,2267.6 L1159.8,2267.9 L1160.6,2268.2 L1161.4,2268.2 L1162.2,2267.8 L1163.0,2267.4 L1163.8,2267.1 L1164.6,2266.9 L1165.4,2267.0 L1166.2,2267.3 L1167.0,2267.6 L1167.8,2268.0 L1168.6,2268.3 L1169.4,2268.5 L1170.2,2268.7 L1171.0,2268.8 L1171.8,2268.9 L1172.6,2268.9 L1173.4,2268.7 L1174.2,2267.8 L1175.0,2266.2 L1175.8,2263.1 L1176.6,2262.8 L1177.4,2257.7 L1178.2,2255.6 L1179.0,2251.9 L1179.8,2257.0 L1180.6,2251.3 L1181.4,2259.2 L1182.2,2262.4 L1183.0,2261.3 L1183.8,2262.2 L1184.6,2263.4 L1185.4,2263.1 L1186.2,2261.2 L1187.0,2259.3 L1187.8,2261.0 L1188.6,2258.5 L1189.4,2261.2 L1190.2,2257.2 L1191.0,2260.1 L1191.8,2259.4 L1192.6,2263.3 L1193.4,2265.1 L1194.2,2264.5 L1195.0,2265.2 L1195.8,2266.3 L1196.6,2267.3 L1197.4,2267.5 L1198.2,2267.5 L1199.0,2267.1 L1199.8,2266.9 L1200.6,2266.9 L1201.4,2267.2 L1202.2,2267.7 L1203.0,2268.2 L1203.8,2268.5 L1204.6,2268.6 L1205.4,2268.3 L1206.2,2267.8 L1207.0,2267.3 L1207.8,2266.9 L1208.6,2266.9 L1209.4,2266.9 L1210.2,2266.9 L1211.0,2266.8 L1211.8,2266.9 L1212.6,2267.1 L1213.4,2267.3 L1214.2,2267.4 L1215.0,2267.3 L1215.8,2267.1 L1216.6,2266.9 L1217.4,2266.9 L1218.2,2267.1 L1219.0,2267.4 L1219.8,2267.8 L1220.6,2268.1 L1221.4,2268.5 L1222.2,2268.6 L1223.0,2268.6 L1223.8,2268.4 L1224.6,2268.3 L1225.4,2267.6 L1226.2,2267.6 L1227.0,2268.0 L1227.8,2267.9 L1228.6,2268.2 L1229.4,2267.7 L1230.2,2267.5 L1231.0,2266.7 L1231.8,2265.3 L1232.6,2264.5 L1233.4,2264.9 L1234.2,2265.2 L1235.0,2265.7 L1235.8,2266.0 L1236.6,2265.8 L1237.4,2264.7 L1238.2,2266.1 L1239.0,2264.8 L1239.8,2264.4 L1240.6,2265.4 L1241.4,2263.5 L1242.2,2264.1 L1243.0,2264.7 L1243.8,2263.9 L1244.6,2265.4 L1245.4,2265.8 L1246.2,2266.4 L1247.0,2266.0 L1247.8,2266.5 L1248.6,2266.9 L1249.4,2266.0 L1250.2,2266.4 L1251.0,2266.1 L1251.8,2266.0 L1252.6,2266.6 L1253.4,2267.4 L1254.2,2267.4 L1255.0,2267.7 L1255.8,2267.9 L1256.6,2267.8 L1257.4,2267.6 L1258.2,2267.7 L1259.0,2268.2 L1259.8,2268.5 L1260.6,2268.8 L1261.4,2268.7 L1262.2,2268.2 L1263.0,2268.2 L1263.8,2268.6 L1264.6,2269.0 L1265.4,2269.1 L1266.2,2269.0 L1267.0,2268.8 L1267.8,2268.5 L1268.6,2268.1 L1269.4,2267.9 L1270.2,2268.1 L1271.0,2268.4 L1271.8,2268.8 L1272.6,2268.9 L1273.4,2268.7 L1274.2,2268.2 L1275.0,2266.8 L1275.8,2265.0 L1276.6,2262.3 L1277.4,2256.0 L1278.2,2255.7 L1279.0,2250.4 L1279.8,2242.7 L1280.6,2233.3 L1281.4,2248.7 L1282.2,2237.2 L1283.0,2244.3 L1283.8,2253.1 L1284.6,2257.6 L1285.4,2256.4 L1286.2,2260.5 L1287.0,2259.8 L1287.8,2261.9 L1288.6,2260.7 L1289.4,2260.2 L1290.2,2260.9 L1291.0,2257.9 L1291.8,2260.7 L1292.6,2258.5 L1293.4,2262.7 L1294.2,2263.8 L1295.0,2264.6 L1295.8,2263.4 L1296.6,2265.2 L1297.4,2265.3 L1298.2,2266.4 L1299.0,2267.7 L1299.8,2268.0 L1300.6,2268.6 L1301.4,2268.5 L1302.2,2268.1 L1303.0,2267.6 L1303.8,2267.0 L1304.6,2266.6 L1305.4,2266.6 L1306.2,2266.9 L1307.0,2267.3 L1307.8,2267.7 L1308.6,2267.9 L1309.4,2267.9 L1310.2,2267.5 L1311.0,2267.0 L1311.8,2266.5 L1312.6,2266.3 L1313.4,2266.6 L1314.2,2267.2 L1315.0,2267.8 L1315.8,2268.2 L1316.6,2268.2 L1317.4,2268.0 L1318.2,2267.7 L1319.0,2267.2 L1319.8,2267.0 L1320.6,2266.9 L1321.4,2267.1 L1322.2,2267.5 L1323.0,2267.9 L1323.8,2268.1 L1324.6,2268.0 L1325.4,2267.5 L1326.2,2266.8 L1327.0,2266.4 L1327.8,2266.7 L1328.6,2267.4 L1329.4,2268.1 L1330.2,2268.3 L1331.0,2268.3 L1331.8,2268.4 L1332.6,2268.7 L1333.4,2269.0 L1334.2,2269.1 L1335.0,2269.2 L1335.8,2269.2 L1336.6,2269.2 L1337.4,2269.1 L1338.2,2268.6 L1339.0,2267.4 L1339.8,2266.6 L1340.6,2267.0 L1341.4,2267.5 L1342.2,2267.6 L1343.0,2267.7 L1343.8,2268.0 L1344.6,2268.4 L1345.4,2268.7 L1346.2,2268.6 L1347.0,2268.6 L1347.8,2268.7 L1348.6,2268.9 L1349.4,2269.0 L1350.2,2269.0 L1351.0,2268.9 L1351.8,2268.6 L1352.6,2268.2 L1353.4,2267.7 L1354.2,2267.3 L1355.0,2267.0 L1355.8,2267.0 L1356.6,2267.2 L1357.4,2267.4 L1358.2,2267.3 L1359.0,2266.8 L1359.8,2266.8 L1360.6,2267.6 L1361.4,2268.3 L1362.2,2268.3 L1363.0,2267.4 L1363.8,2266.4 L1364.6,2266.4 L1365.4,2267.3 L1366.2,2268.0 L1367.0,2268.2 L1367.8,2268.2 L1368.6,2268.2 L1369.4,2268.2 L1370.2,2268.3 L1371.0,2268.4 L1371.8,2268.3 L1372.6,2268.2 L1373.4,2267.9 L1374.2,2267.5 L1375.0,2267.3 L1375.8,2267.2 L1376.6,2267.2 L1377.4,2267.2 L1378.2,2267.2 L1379.0,2266.9 L1379.8,2266.6 L1380.6,2266.4 L1381.4,2266.4 L1382.2,2266.7 L1383.0,2267.1 L1383.8,2267.4 L1384.6,2267.6 L1385.4,2267.8 L1386.2,2267.9 L1387.0,2268.1 L1387.8,2268.1 L1388.6,2267.7 L1389.4,2267.2 L1390.2,2266.6 L1391.0,2266.1 L1391.8,2266.1 L1392.6,2265.4 L1393.4,2265.1 L1394.2,2266.2 L1395.0,2267.0 L1395.8,2267.2 L1396.6,2267.0 L1397.4,2266.9 L1398.2,2267.0 L1399.0,2267.5 L1399.8,2268.3 L1400.6,2268.8 L1401.4,2268.9 L1402.2,2268.6 L1403.0,2268.0 L1403.8,2267.3 L1404.6,2266.7 L1405.4,2266.4 L1406.2,2266.5 L1407.0,2267.1 L1407.8,2267.8 L1408.6,2268.5 L1409.4,2268.9 L1410.2,2269.0 L1411.0,2268.9 L1411.8,2268.4 L1412.6,2268.1 L1413.4,2268.2 L1414.2,2268.6 L1415.0,2268.5 L1415.8,2268.2 L1416.6,2267.7 L1417.4,2267.4 L1418.2,2267.3 L1419.0,2267.5 L1419.8,2267.9 L1420.6,2268.3 L1421.4,2268.6 L1422.2,2268.4 L1423.0,2267.6 L1423.8,2267.3 L1424.6,2267.8 L1425.4,2268.3 L1426.2,2268.3 L1427.0,2268.4 L1427.8,2268.6 L1428.6,2268.6 L1429.4,2268.4 L1430.2,2268.1 L1431.0,2267.9 L1431.8,2267.7 L1432.6,2267.6 L1433.4,2267.3 L1434.2,2266.9 L1435.0,2266.7 L1435.8,2266.8 L1436.6,2267.1 L1437.4,2267.6 L1438.2,2268.1 L1439.0,2268.5 L1439.8,2268.8 L1440.6,2269.0 L1441.4,2269.1 L1442.2,2269.0 L1443.0,2268.3 L1443.8,2266.9 L1444.6,2266.7 L1445.4,2267.4 L1446.2,2267.4 L1447.0,2266.8 L1447.8,2266.4 L1448.6,2266.4 L1449.4,2266.8 L1450.2,2267.4 L1451.0,2268.1 L1451.8,2268.6 L1452.6,2268.9 L1453.4,2269.0 L1454.2,2269.0 L1455.0,2268.6 L1455.8,2268.2 L1456.6,2268.0 L1457.4,2267.9 L1458.2,2267.7 L1459.0,2267.4 L1459.8,2267.5 L1460.6,2267.9 L1461.4,2268.5 L1462.2,2268.9 L1463.0,2269.1 L1463.8,2268.9 L1464.6,2268.4 L1465.4,2268.4 L1466.2,2268.9 L1467.0,2269.1 L1467.8,2269.2 L1467.8,2269.2 Z" fill="#26b3b3" stroke="none" stroke-width="1"/>
<line x1="869.5" y1="2269.2" x2="1493.7" y2="2269.2" stroke="#222" stroke-width="1.6"/>
<text x="796.3" y="2327.0" font-size="25.5">PFC L2–L3 IT_<tspan font-style="italic">CUX2</tspan></text>
<path d="M903.0,2366.9 L903.0,2366.8 L903.8,2366.7 L904.6,2366.5 L905.4,2366.2 L906.2,2365.6 L907.0,2364.9 L907.8,2364.3 L908.6,2363.9 L909.4,2363.8 L910.2,2364.0 L911.0,2364.3 L911.8,2364.6 L912.6,2365.0 L913.4,2365.3 L914.2,2365.7 L915.0,2366.1 L915.8,2366.4 L916.6,2366.7 L917.4,2366.8 L918.2,2366.8 L919.0,2366.6 L919.8,2366.4 L920.6,2366.3 L921.4,2366.5 L922.2,2366.7 L923.0,2366.9 L923.8,2366.9 L924.6,2366.8 L925.4,2366.7 L926.2,2366.5 L927.0,2366.3 L927.8,2366.0 L928.6,2365.8 L929.4,2365.6 L930.2,2365.4 L931.0,2365.2 L931.8,2364.9 L932.6,2364.6 L933.4,2364.6 L934.2,2364.7 L935.0,2365.1 L935.8,2365.5 L936.6,2365.9 L937.4,2366.0 L938.2,2365.8 L939.0,2365.4 L939.8,2365.2 L940.6,2365.6 L941.4,2366.2 L942.2,2366.5 L943.0,2366.6 L943.8,2366.3 L944.6,2365.7 L945.4,2365.0 L946.2,2364.7 L947.0,2364.9 L947.8,2365.6 L948.6,2366.2 L949.4,2366.3 L950.2,2366.0 L951.0,2365.3 L951.8,2364.9 L952.6,2365.3 L953.4,2365.8 L954.2,2365.7 L955.0,2365.0 L955.8,2364.9 L956.6,2365.7 L957.4,2366.3 L958.2,2366.2 L959.0,2365.7 L959.8,2365.1 L960.6,2364.5 L961.4,2364.0 L962.2,2363.8 L963.0,2363.8 L963.8,2364.0 L964.6,2364.3 L965.4,2364.5 L966.2,2364.8 L967.0,2365.2 L967.8,2365.5 L968.6,2365.5 L969.4,2364.8 L970.2,2363.7 L971.0,2363.6 L971.8,2364.7 L972.6,2366.0 L973.4,2366.7 L974.2,2366.9 L975.0,2366.8 L975.8,2366.7 L976.6,2366.5 L977.4,2366.3 L978.2,2366.2 L979.0,2366.2 L979.8,2366.3 L980.6,2366.5 L981.4,2366.6 L982.2,2366.6 L983.0,2366.5 L983.8,2366.1 L984.6,2365.7 L985.4,2365.2 L986.2,2364.9 L987.0,2365.0 L987.8,2365.3 L988.6,2365.8 L989.4,2366.3 L990.2,2366.6 L991.0,2366.8 L991.8,2366.8 L992.6,2366.5 L993.4,2365.6 L994.2,2364.3 L995.0,2363.7 L995.8,2364.6 L996.6,2365.9 L997.4,2366.6 L998.2,2366.7 L999.0,2366.6 L999.8,2366.3 L1000.6,2366.1 L1001.4,2365.9 L1002.2,2365.9 L1003.0,2365.9 L1003.8,2365.8 L1004.6,2365.9 L1005.4,2366.0 L1006.2,2365.9 L1007.0,2365.6 L1007.8,2365.9 L1008.6,2366.6 L1009.4,2366.8 L1010.2,2366.9 L1011.0,2366.9 L1011.8,2366.9 L1012.6,2366.9 L1013.4,2366.7 L1014.2,2366.1 L1015.0,2365.7 L1015.8,2366.0 L1016.6,2366.5 L1017.4,2366.7 L1018.2,2366.4 L1019.0,2366.0 L1019.8,2365.4 L1020.6,2364.8 L1021.4,2364.5 L1022.2,2364.5 L1023.0,2364.9 L1023.8,2365.3 L1024.6,2365.6 L1025.4,2365.5 L1026.2,2365.3 L1027.0,2364.9 L1027.8,2364.7 L1028.6,2364.6 L1029.4,2364.5 L1030.2,2364.3 L1031.0,2364.1 L1031.8,2363.9 L1032.6,2364.1 L1033.4,2364.5 L1034.2,2365.2 L1035.0,2365.7 L1035.8,2366.0 L1036.6,2365.9 L1037.4,2365.5 L1038.2,2365.0 L1039.0,2364.4 L1039.8,2364.0 L1040.6,2364.0 L1041.4,2364.2 L1042.2,2364.6 L1043.0,2364.9 L1043.8,2365.1 L1044.6,2365.0 L1045.4,2364.9 L1046.2,2364.8 L1047.0,2365.1 L1047.8,2365.4 L1048.6,2365.8 L1049.4,2366.0 L1050.2,2366.2 L1051.0,2366.2 L1051.8,2366.2 L1052.6,2366.1 L1053.4,2365.9 L1054.2,2365.5 L1055.0,2365.0 L1055.8,2364.5 L1056.6,2364.3 L1057.4,2364.2 L1058.2,2364.3 L1059.0,2364.4 L1059.8,2364.7 L1060.6,2365.2 L1061.4,2365.8 L1062.2,2366.3 L1063.0,2366.6 L1063.8,2366.7 L1064.6,2366.5 L1065.4,2365.9 L1066.2,2365.2 L1067.0,2364.7 L1067.8,2365.0 L1068.6,2365.6 L1069.4,2366.0 L1070.2,2365.9 L1071.0,2365.4 L1071.8,2364.6 L1072.6,2364.0 L1073.4,2363.8 L1074.2,2364.2 L1075.0,2364.9 L1075.8,2365.6 L1076.6,2366.2 L1077.4,2366.5 L1078.2,2366.6 L1079.0,2366.6 L1079.8,2366.4 L1080.6,2366.3 L1081.4,2366.2 L1082.2,2366.2 L1083.0,2366.2 L1083.8,2366.0 L1084.6,2365.8 L1085.4,2365.8 L1086.2,2366.1 L1087.0,2366.2 L1087.8,2366.1 L1088.6,2365.9 L1089.4,2365.8 L1090.2,2365.9 L1091.0,2365.9 L1091.8,2365.7 L1092.6,2365.7 L1093.4,2365.7 L1094.2,2365.7 L1095.0,2365.4 L1095.8,2365.3 L1096.6,2365.9 L1097.4,2366.5 L1098.2,2366.7 L1099.0,2366.5 L1099.8,2366.2 L1100.6,2365.9 L1101.4,2365.7 L1102.2,2365.7 L1103.0,2365.7 L1103.8,2365.7 L1104.6,2365.5 L1105.4,2365.2 L1106.2,2364.7 L1107.0,2364.2 L1107.8,2363.7 L1108.6,2363.6 L1109.4,2363.8 L1110.2,2364.2 L1111.0,2364.7 L1111.8,2364.8 L1112.6,2364.8 L1113.4,2364.8 L1114.2,2364.9 L1115.0,2365.1 L1115.8,2365.5 L1116.6,2365.8 L1117.4,2365.9 L1118.2,2365.6 L1119.0,2365.2 L1119.8,2365.2 L1120.6,2365.6 L1121.4,2365.8 L1122.2,2365.5 L1123.0,2364.9 L1123.8,2364.4 L1124.6,2364.3 L1125.4,2364.7 L1126.2,2365.1 L1127.0,2365.1 L1127.8,2364.2 L1128.6,2363.5 L1129.4,2363.9 L1130.2,2364.8 L1131.0,2364.8 L1131.8,2364.1 L1132.6,2363.2 L1133.4,2360.4 L1134.2,2358.0 L1135.0,2353.3 L1135.8,2352.3 L1136.6,2356.4 L1137.4,2355.5 L1138.2,2356.1 L1139.0,2356.1 L1139.8,2361.1 L1140.6,2363.6 L1141.4,2365.2 L1142.2,2365.9 L1143.0,2366.1 L1143.8,2366.1 L1144.6,2366.2 L1145.4,2366.4 L1146.2,2366.6 L1147.0,2366.8 L1147.8,2366.9 L1148.6,2366.9 L1149.4,2366.9 L1150.2,2366.8 L1151.0,2366.6 L1151.8,2366.3 L1152.6,2366.1 L1153.4,2366.1 L1154.2,2365.7 L1155.0,2364.9 L1155.8,2364.3 L1156.6,2364.4 L1157.4,2365.3 L1158.2,2366.2 L1159.0,2366.7 L1159.8,2366.9 L1160.6,2366.9 L1161.4,2366.6 L1162.2,2365.4 L1163.0,2364.5 L1163.8,2365.3 L1164.6,2366.3 L1165.4,2366.5 L1166.2,2366.3 L1167.0,2366.2 L1167.8,2366.0 L1168.6,2365.9 L1169.4,2365.9 L1170.2,2365.9 L1171.0,2365.9 L1171.8,2365.7 L1172.6,2365.5 L1173.4,2365.3 L1174.2,2365.3 L1175.0,2365.5 L1175.8,2365.8 L1176.6,2366.1 L1177.4,2366.4 L1178.2,2366.6 L1179.0,2366.8 L1179.8,2366.8 L1180.6,2366.6 L1181.4,2366.2 L1182.2,2366.1 L1183.0,2366.4 L1183.8,2366.5 L1184.6,2366.2 L1185.4,2365.8 L1186.2,2365.5 L1187.0,2365.4 L1187.8,2365.5 L1188.6,2365.5 L1189.4,2365.2 L1190.2,2364.6 L1191.0,2364.0 L1191.8,2363.8 L1192.6,2364.0 L1193.4,2364.7 L1194.2,2365.5 L1195.0,2366.1 L1195.8,2366.5 L1196.6,2366.8 L1197.4,2366.8 L1198.2,2366.6 L1199.0,2365.9 L1199.8,2365.0 L1200.6,2364.7 L1201.4,2365.2 L1202.2,2366.0 L1203.0,2366.5 L1203.8,2366.6 L1204.6,2366.4 L1205.4,2366.1 L1206.2,2365.9 L1207.0,2365.7 L1207.8,2365.4 L1208.6,2364.8 L1209.4,2364.0 L1210.2,2363.7 L1211.0,2364.4 L1211.8,2365.5 L1212.6,2366.4 L1213.4,2366.8 L1214.2,2366.9 L1215.0,2366.9 L1215.8,2366.8 L1216.6,2366.5 L1217.4,2365.9 L1218.2,2365.4 L1219.0,2365.1 L1219.8,2365.0 L1220.6,2364.8 L1221.4,2364.5 L1222.2,2364.2 L1223.0,2364.2 L1223.8,2364.6 L1224.6,2365.1 L1225.4,2365.7 L1226.2,2366.2 L1227.0,2366.5 L1227.8,2366.4 L1228.6,2365.8 L1229.4,2364.9 L1230.2,2364.7 L1231.0,2365.4 L1231.8,2366.0 L1232.6,2366.2 L1233.4,2366.2 L1234.2,2366.2 L1235.0,2366.2 L1235.8,2365.9 L1236.6,2364.8 L1237.4,2364.2 L1238.2,2365.5 L1239.0,2366.5 L1239.8,2366.3 L1240.6,2365.4 L1241.4,2364.5 L1242.2,2364.1 L1243.0,2363.9 L1243.8,2363.1 L1244.6,2362.5 L1245.4,2362.6 L1246.2,2363.3 L1247.0,2364.0 L1247.8,2364.4 L1248.6,2364.9 L1249.4,2365.3 L1250.2,2365.7 L1251.0,2365.9 L1251.8,2366.0 L1252.6,2366.0 L1253.4,2366.1 L1254.2,2366.3 L1255.0,2366.6 L1255.8,2366.7 L1256.6,2366.7 L1257.4,2366.5 L1258.2,2366.1 L1259.0,2365.8 L1259.8,2365.7 L1260.6,2365.9 L1261.4,2366.2 L1262.2,2366.4 L1263.0,2366.3 L1263.8,2366.0 L1264.6,2365.6 L1265.4,2365.1 L1266.2,2364.7 L1267.0,2364.6 L1267.8,2364.8 L1268.6,2365.1 L1269.4,2365.6 L1270.2,2365.9 L1271.0,2366.1 L1271.8,2366.1 L1272.6,2365.9 L1273.4,2365.5 L1274.2,2365.1 L1275.0,2364.7 L1275.8,2364.4 L1276.6,2364.1 L1277.4,2363.9 L1278.2,2363.9 L1279.0,2364.2 L1279.8,2364.7 L1280.6,2365.3 L1281.4,2365.9 L1282.2,2366.4 L1283.0,2366.6 L1283.8,2366.7 L1284.6,2366.5 L1285.4,2366.1 L1286.2,2365.6 L1287.0,2365.1 L1287.8,2365.1 L1288.6,2365.5 L1289.4,2366.1 L1290.2,2366.5 L1291.0,2366.8 L1291.8,2366.9 L1292.6,2366.9 L1293.4,2366.8 L1294.2,2366.5 L1295.0,2365.6 L1295.8,2365.1 L1296.6,2365.7 L1297.4,2366.4 L1298.2,2366.5 L1299.0,2366.2 L1299.8,2365.9 L1300.6,2365.6 L1301.4,2365.6 L1302.2,2365.8 L1303.0,2366.1 L1303.8,2366.4 L1304.6,2366.6 L1305.4,2366.8 L1306.2,2366.8 L1307.0,2366.7 L1307.8,2366.4 L1308.6,2366.2 L1309.4,2366.2 L1310.2,2366.4 L1311.0,2366.6 L1311.8,2366.7 L1312.6,2366.6 L1313.4,2366.4 L1314.2,2366.0 L1315.0,2365.4 L1315.8,2364.7 L1316.6,2364.2 L1317.4,2363.9 L1318.2,2363.9 L1319.0,2363.9 L1319.8,2363.9 L1320.6,2363.8 L1321.4,2363.6 L1322.2,2363.6 L1323.0,2363.9 L1323.8,2364.4 L1324.6,2365.0 L1325.4,2365.6 L1326.2,2366.0 L1327.0,2366.0 L1327.8,2365.8 L1328.6,2365.4 L1329.4,2365.0 L1330.2,2364.8 L1331.0,2364.9 L1331.8,2365.1 L1332.6,2365.1 L1333.4,2364.9 L1334.2,2364.9 L1335.0,2365.0 L1335.8,2365.0 L1336.6,2364.9 L1337.4,2365.0 L1338.2,2365.2 L1339.0,2365.3 L1339.8,2365.1 L1340.6,2364.8 L1341.4,2364.4 L1342.2,2364.2 L1343.0,2364.2 L1343.8,2364.4 L1344.6,2364.5 L1345.4,2365.1 L1346.2,2365.1 L1347.0,2364.7 L1347.8,2364.4 L1348.6,2364.7 L1349.4,2364.8 L1350.2,2364.5 L1351.0,2364.5 L1351.8,2365.2 L1352.6,2365.8 L1353.4,2366.3 L1354.2,2366.6 L1355.0,2366.7 L1355.8,2366.7 L1356.6,2366.5 L1357.4,2366.2 L1358.2,2365.8 L1359.0,2365.5 L1359.8,2365.4 L1360.6,2365.6 L1361.4,2365.9 L1362.2,2366.2 L1363.0,2366.3 L1363.8,2366.1 L1364.6,2365.8 L1365.4,2365.8 L1366.2,2366.2 L1367.0,2366.4 L1367.8,2366.4 L1368.6,2366.3 L1369.4,2366.2 L1370.2,2366.1 L1371.0,2366.0 L1371.8,2365.9 L1372.6,2365.7 L1373.4,2365.5 L1374.2,2365.0 L1375.0,2364.4 L1375.8,2363.7 L1376.6,2363.1 L1377.4,2363.0 L1378.2,2363.4 L1379.0,2364.0 L1379.8,2364.6 L1380.6,2364.9 L1381.4,2364.9 L1382.2,2364.7 L1383.0,2364.7 L1383.8,2365.3 L1384.6,2366.0 L1385.4,2366.4 L1386.2,2366.4 L1387.0,2366.2 L1387.8,2366.0 L1388.6,2365.8 L1389.4,2365.8 L1390.2,2365.9 L1391.0,2366.1 L1391.8,2366.1 L1392.6,2365.6 L1393.4,2364.4 L1394.2,2363.7 L1395.0,2364.7 L1395.8,2366.0 L1396.6,2366.6 L1397.4,2366.4 L1398.2,2366.0 L1399.0,2365.8 L1399.8,2365.2 L1400.6,2364.1 L1401.4,2363.2 L1402.2,2361.5 L1403.0,2361.5 L1403.8,2363.0 L1404.6,2364.5 L1405.4,2365.2 L1406.2,2365.9 L1407.0,2366.1 L1407.8,2365.9 L1408.6,2365.7 L1409.4,2365.7 L1410.2,2365.9 L1411.0,2366.2 L1411.8,2366.5 L1412.6,2366.7 L1413.4,2366.8 L1414.2,2366.9 L1415.0,2366.8 L1415.8,2366.6 L1416.6,2366.1 L1417.4,2365.4 L1418.2,2364.9 L1419.0,2364.8 L1419.8,2364.6 L1420.6,2364.1 L1421.4,2363.8 L1422.2,2363.9 L1423.0,2364.5 L1423.8,2365.2 L1424.6,2365.9 L1425.4,2366.3 L1426.2,2365.9 L1427.0,2365.1 L1427.8,2365.1 L1428.6,2365.9 L1429.4,2366.0 L1430.2,2365.3 L1431.0,2364.6 L1431.8,2364.6 L1432.6,2365.4 L1433.4,2366.3 L1434.2,2366.7 L1435.0,2366.5 L1435.8,2365.6 L1436.6,2364.3 L1437.4,2363.9 L1438.2,2364.7 L1439.0,2365.6 L1439.8,2365.8 L1440.6,2365.4 L1441.4,2364.8 L1442.2,2364.4 L1443.0,2364.3 L1443.8,2364.6 L1444.6,2365.2 L1445.4,2365.7 L1446.2,2366.1 L1447.0,2366.2 L1447.8,2365.9 L1448.6,2365.2 L1449.4,2364.4 L1450.2,2363.7 L1451.0,2363.4 L1451.8,2363.5 L1452.6,2363.9 L1453.4,2364.3 L1454.2,2364.6 L1455.0,2364.8 L1455.8,2365.1 L1456.6,2365.2 L1457.4,2365.0 L1458.2,2364.9 L1459.0,2365.4 L1459.8,2366.1 L1460.6,2366.6 L1461.4,2366.8 L1462.2,2366.9 L1463.0,2366.9 L1463.8,2366.9 L1464.6,2366.8 L1465.4,2366.5 L1466.2,2366.1 L1467.0,2366.1 L1467.8,2366.4 L1467.8,2366.9 Z" fill="#5f87cc" stroke="none" stroke-width="1"/>
<line x1="869.5" y1="2366.9" x2="1493.7" y2="2366.9" stroke="#222" stroke-width="1.6"/>
<text x="796.3" y="2428.5" font-size="25.5">VIS L2–L3 IT_<tspan font-style="italic">CUX2</tspan></text>
<path d="M903.0,2464.1 L903.0,2464.0 L903.8,2464.0 L904.6,2463.8 L905.4,2463.6 L906.2,2463.3 L907.0,2463.1 L907.8,2462.9 L908.6,2462.9 L909.4,2463.1 L910.2,2463.3 L911.0,2463.5 L911.8,2463.7 L912.6,2463.8 L913.4,2463.8 L914.2,2463.6 L915.0,2463.4 L915.8,2463.1 L916.6,2463.0 L917.4,2463.0 L918.2,2463.1 L919.0,2463.3 L919.8,2463.3 L920.6,2463.2 L921.4,2463.2 L922.2,2463.3 L923.0,2463.6 L923.8,2463.8 L924.6,2464.0 L925.4,2463.9 L926.2,2463.8 L927.0,2463.6 L927.8,2463.5 L928.6,2463.3 L929.4,2463.3 L930.2,2463.4 L931.0,2463.5 L931.8,2463.5 L932.6,2463.3 L933.4,2463.1 L934.2,2463.1 L935.0,2463.1 L935.8,2463.1 L936.6,2463.0 L937.4,2462.9 L938.2,2462.7 L939.0,2462.7 L939.8,2462.8 L940.6,2463.0 L941.4,2463.3 L942.2,2463.5 L943.0,2463.6 L943.8,2463.6 L944.6,2463.5 L945.4,2463.4 L946.2,2463.2 L947.0,2463.2 L947.8,2463.1 L948.6,2463.1 L949.4,2463.1 L950.2,2463.0 L951.0,2462.7 L951.8,2462.3 L952.6,2461.8 L953.4,2461.6 L954.2,2461.6 L955.0,2461.8 L955.8,2462.2 L956.6,2462.6 L957.4,2462.8 L958.2,2463.0 L959.0,2463.0 L959.8,2463.0 L960.6,2463.2 L961.4,2463.3 L962.2,2463.5 L963.0,2463.7 L963.8,2463.9 L964.6,2464.0 L965.4,2464.0 L966.2,2464.0 L967.0,2463.7 L967.8,2462.9 L968.6,2462.3 L969.4,2462.7 L970.2,2463.5 L971.0,2463.9 L971.8,2463.9 L972.6,2463.6 L973.4,2463.3 L974.2,2462.9 L975.0,2462.4 L975.8,2462.1 L976.6,2462.0 L977.4,2462.2 L978.2,2462.5 L979.0,2462.9 L979.8,2463.3 L980.6,2463.5 L981.4,2463.5 L982.2,2463.2 L983.0,2462.8 L983.8,2462.2 L984.6,2461.8 L985.4,2461.6 L986.2,2461.7 L987.0,2462.1 L987.8,2462.4 L988.6,2462.5 L989.4,2462.4 L990.2,2462.4 L991.0,2462.5 L991.8,2462.9 L992.6,2463.3 L993.4,2463.6 L994.2,2463.5 L995.0,2463.3 L995.8,2463.0 L996.6,2462.6 L997.4,2462.3 L998.2,2462.2 L999.0,2462.3 L999.8,2462.4 L1000.6,2462.5 L1001.4,2462.5 L1002.2,2462.4 L1003.0,2462.3 L1003.8,2462.3 L1004.6,2462.5 L1005.4,2462.8 L1006.2,2463.0 L1007.0,2463.2 L1007.8,2463.2 L1008.6,2463.0 L1009.4,2462.5 L1010.2,2462.0 L1011.0,2461.7 L1011.8,2461.6 L1012.6,2461.7 L1013.4,2461.8 L1014.2,2462.0 L1015.0,2462.3 L1015.8,2463.0 L1016.6,2463.5 L1017.4,2463.7 L1018.2,2463.4 L1019.0,2463.2 L1019.8,2463.4 L1020.6,2463.5 L1021.4,2463.2 L1022.2,2462.8 L1023.0,2462.4 L1023.8,2462.1 L1024.6,2462.0 L1025.4,2462.1 L1026.2,2462.5 L1027.0,2462.9 L1027.8,2463.4 L1028.6,2463.7 L1029.4,2463.9 L1030.2,2464.0 L1031.0,2464.0 L1031.8,2463.7 L1032.6,2462.8 L1033.4,2462.3 L1034.2,2462.9 L1035.0,2463.5 L1035.8,2463.6 L1036.6,2463.5 L1037.4,2463.5 L1038.2,2463.4 L1039.0,2463.2 L1039.8,2462.8 L1040.6,2462.3 L1041.4,2462.0 L1042.2,2462.2 L1043.0,2462.6 L1043.8,2463.1 L1044.6,2463.3 L1045.4,2463.0 L1046.2,2462.6 L1047.0,2462.1 L1047.8,2461.7 L1048.6,2461.5 L1049.4,2461.4 L1050.2,2461.4 L1051.0,2461.7 L1051.8,2462.3 L1052.6,2463.1 L1053.4,2463.7 L1054.2,2464.0 L1055.0,2464.1 L1055.8,2464.1 L1056.6,2464.1 L1057.4,2463.9 L1058.2,2463.6 L1059.0,2463.2 L1059.8,2463.1 L1060.6,2463.3 L1061.4,2463.7 L1062.2,2464.0 L1063.0,2464.1 L1063.8,2464.1 L1064.6,2464.1 L1065.4,2464.1 L1066.2,2464.0 L1067.0,2463.5 L1067.8,2462.9 L1068.6,2462.9 L1069.4,2463.5 L1070.2,2463.9 L1071.0,2464.1 L1071.8,2464.0 L1072.6,2463.8 L1073.4,2463.4 L1074.2,2462.7 L1075.0,2462.1 L1075.8,2461.7 L1076.6,2461.7 L1077.4,2461.8 L1078.2,2461.7 L1079.0,2461.5 L1079.8,2461.6 L1080.6,2462.2 L1081.4,2462.9 L1082.2,2463.3 L1083.0,2463.5 L1083.8,2463.5 L1084.6,2463.5 L1085.4,2463.5 L1086.2,2463.4 L1087.0,2463.2 L1087.8,2463.3 L1088.6,2463.5 L1089.4,2463.7 L1090.2,2463.9 L1091.0,2464.1 L1091.8,2464.0 L1092.6,2463.6 L1093.4,2462.7 L1094.2,2461.8 L1095.0,2461.6 L1095.8,2462.4 L1096.6,2463.3 L1097.4,2463.7 L1098.2,2463.7 L1099.0,2463.5 L1099.8,2463.2 L1100.6,2463.1 L1101.4,2463.0 L1102.2,2462.9 L1103.0,2462.9 L1103.8,2462.8 L1104.6,2462.6 L1105.4,2462.4 L1106.2,2462.2 L1107.0,2462.2 L1107.8,2462.3 L1108.6,2462.7 L1109.4,2463.1 L1110.2,2463.5 L1111.0,2463.6 L1111.8,2463.1 L1112.6,2462.3 L1113.4,2462.2 L1114.2,2462.6 L1115.0,2462.5 L1115.8,2462.3 L1116.6,2462.2 L1117.4,2462.4 L1118.2,2462.7 L1119.0,2463.1 L1119.8,2463.4 L1120.6,2463.5 L1121.4,2463.5 L1122.2,2463.5 L1123.0,2463.5 L1123.8,2463.6 L1124.6,2463.7 L1125.4,2463.8 L1126.2,2463.7 L1127.0,2463.6 L1127.8,2463.2 L1128.6,2462.7 L1129.4,2462.0 L1130.2,2461.4 L1131.0,2461.2 L1131.8,2460.7 L1132.6,2460.9 L1133.4,2461.3 L1134.2,2461.0 L1135.0,2459.7 L1135.8,2457.7 L1136.6,2457.1 L1137.4,2456.4 L1138.2,2458.0 L1139.0,2458.3 L1139.8,2459.4 L1140.6,2460.5 L1141.4,2460.5 L1142.2,2461.7 L1143.0,2462.5 L1143.8,2463.3 L1144.6,2463.8 L1145.4,2464.0 L1146.2,2464.0 L1147.0,2463.8 L1147.8,2463.3 L1148.6,2462.9 L1149.4,2462.7 L1150.2,2462.8 L1151.0,2462.9 L1151.8,2463.0 L1152.6,2463.1 L1153.4,2463.2 L1154.2,2463.5 L1155.0,2463.7 L1155.8,2463.9 L1156.6,2464.0 L1157.4,2464.0 L1158.2,2463.8 L1159.0,2462.8 L1159.8,2461.7 L1160.6,2462.4 L1161.4,2463.6 L1162.2,2464.0 L1163.0,2464.1 L1163.8,2464.0 L1164.6,2463.7 L1165.4,2463.2 L1166.2,2462.6 L1167.0,2462.5 L1167.8,2462.8 L1168.6,2463.3 L1169.4,2463.8 L1170.2,2464.0 L1171.0,2464.1 L1171.8,2464.0 L1172.6,2463.9 L1173.4,2463.5 L1174.2,2462.8 L1175.0,2462.0 L1175.8,2461.8 L1176.6,2461.9 L1177.4,2462.3 L1178.2,2462.5 L1179.0,2460.9 L1179.8,2459.4 L1180.6,2457.7 L1181.4,2455.8 L1182.2,2453.8 L1183.0,2457.7 L1183.8,2454.7 L1184.6,2458.4 L1185.4,2456.8 L1186.2,2459.5 L1187.0,2461.8 L1187.8,2461.6 L1188.6,2461.2 L1189.4,2461.8 L1190.2,2463.0 L1191.0,2463.8 L1191.8,2464.0 L1192.6,2464.0 L1193.4,2464.0 L1194.2,2463.8 L1195.0,2463.5 L1195.8,2463.2 L1196.6,2463.0 L1197.4,2463.0 L1198.2,2463.2 L1199.0,2463.0 L1199.8,2462.3 L1200.6,2461.9 L1201.4,2462.4 L1202.2,2463.0 L1203.0,2463.1 L1203.8,2463.2 L1204.6,2463.3 L1205.4,2463.5 L1206.2,2463.7 L1207.0,2463.9 L1207.8,2463.9 L1208.6,2463.5 L1209.4,2462.5 L1210.2,2462.1 L1211.0,2462.7 L1211.8,2463.3 L1212.6,2463.3 L1213.4,2462.9 L1214.2,2462.5 L1215.0,2462.2 L1215.8,2462.1 L1216.6,2462.3 L1217.4,2462.7 L1218.2,2463.1 L1219.0,2463.4 L1219.8,2463.4 L1220.6,2463.4 L1221.4,2463.5 L1222.2,2463.7 L1223.0,2463.9 L1223.8,2464.0 L1224.6,2464.0 L1225.4,2463.9 L1226.2,2463.7 L1227.0,2463.2 L1227.8,2462.6 L1228.6,2462.0 L1229.4,2461.7 L1230.2,2461.7 L1231.0,2461.9 L1231.8,2462.3 L1232.6,2462.3 L1233.4,2462.2 L1234.2,2462.1 L1235.0,2462.1 L1235.8,2462.3 L1236.6,2462.4 L1237.4,2462.3 L1238.2,2462.0 L1239.0,2461.2 L1239.8,2460.7 L1240.6,2460.3 L1241.4,2460.1 L1242.2,2459.5 L1243.0,2459.6 L1243.8,2459.6 L1244.6,2459.8 L1245.4,2460.4 L1246.2,2460.3 L1247.0,2460.8 L1247.8,2460.8 L1248.6,2461.3 L1249.4,2461.4 L1250.2,2462.0 L1251.0,2460.9 L1251.8,2460.7 L1252.6,2460.6 L1253.4,2461.0 L1254.2,2461.1 L1255.0,2461.9 L1255.8,2462.2 L1256.6,2461.4 L1257.4,2460.7 L1258.2,2460.4 L1259.0,2460.9 L1259.8,2462.2 L1260.6,2462.8 L1261.4,2463.3 L1262.2,2463.1 L1263.0,2462.9 L1263.8,2463.0 L1264.6,2463.2 L1265.4,2463.2 L1266.2,2463.3 L1267.0,2463.2 L1267.8,2462.8 L1268.6,2462.6 L1269.4,2462.3 L1270.2,2462.1 L1271.0,2462.1 L1271.8,2462.3 L1272.6,2462.4 L1273.4,2462.5 L1274.2,2462.5 L1275.0,2462.6 L1275.8,2462.7 L1276.6,2462.1 L1277.4,2461.9 L1278.2,2460.2 L1279.0,2459.1 L1279.8,2457.7 L1280.6,2457.6 L1281.4,2457.4 L1282.2,2458.3 L1283.0,2460.3 L1283.8,2460.2 L1284.6,2459.3 L1285.4,2460.8 L1286.2,2461.9 L1287.0,2462.8 L1287.8,2463.4 L1288.6,2463.4 L1289.4,2463.0 L1290.2,2462.8 L1291.0,2462.9 L1291.8,2463.3 L1292.6,2463.6 L1293.4,2463.5 L1294.2,2462.3 L1295.0,2461.1 L1295.8,2461.5 L1296.6,2462.0 L1297.4,2462.0 L1298.2,2462.0 L1299.0,2462.2 L1299.8,2462.5 L1300.6,2462.8 L1301.4,2462.8 L1302.2,2462.6 L1303.0,2462.5 L1303.8,2462.6 L1304.6,2462.9 L1305.4,2463.0 L1306.2,2462.9 L1307.0,2462.7 L1307.8,2462.8 L1308.6,2463.1 L1309.4,2463.5 L1310.2,2463.7 L1311.0,2463.7 L1311.8,2463.4 L1312.6,2463.1 L1313.4,2462.9 L1314.2,2462.9 L1315.0,2462.7 L1315.8,2461.7 L1316.6,2461.3 L1317.4,2462.6 L1318.2,2463.8 L1319.0,2464.1 L1319.8,2464.0 L1320.6,2463.6 L1321.4,2463.1 L1322.2,2462.9 L1323.0,2463.3 L1323.8,2463.8 L1324.6,2464.0 L1325.4,2464.1 L1326.2,2464.1 L1327.0,2464.1 L1327.8,2464.1 L1328.6,2463.9 L1329.4,2463.5 L1330.2,2462.9 L1331.0,2462.7 L1331.8,2463.0 L1332.6,2463.5 L1333.4,2463.6 L1334.2,2463.4 L1335.0,2463.3 L1335.8,2463.2 L1336.6,2463.4 L1337.4,2463.6 L1338.2,2463.8 L1339.0,2464.0 L1339.8,2464.1 L1340.6,2464.1 L1341.4,2464.0 L1342.2,2463.7 L1343.0,2463.0 L1343.8,2462.0 L1344.6,2461.6 L1345.4,2462.2 L1346.2,2463.2 L1347.0,2463.7 L1347.8,2463.7 L1348.6,2463.5 L1349.4,2463.1 L1350.2,2462.8 L1351.0,2462.5 L1351.8,2462.5 L1352.6,2462.6 L1353.4,2462.8 L1354.2,2463.0 L1355.0,2463.1 L1355.8,2463.4 L1356.6,2463.8 L1357.4,2464.0 L1358.2,2464.1 L1359.0,2464.1 L1359.8,2464.1 L1360.6,2464.1 L1361.4,2464.1 L1362.2,2463.9 L1363.0,2463.6 L1363.8,2463.5 L1364.6,2463.8 L1365.4,2464.0 L1366.2,2464.1 L1367.0,2464.0 L1367.8,2463.8 L1368.6,2463.5 L1369.4,2463.5 L1370.2,2463.8 L1371.0,2464.0 L1371.8,2464.1 L1372.6,2464.1 L1373.4,2464.0 L1374.2,2463.9 L1375.0,2463.7 L1375.8,2463.5 L1376.6,2463.4 L1377.4,2463.3 L1378.2,2463.3 L1379.0,2463.4 L1379.8,2463.6 L1380.6,2463.8 L1381.4,2463.9 L1382.2,2463.9 L1383.0,2463.8 L1383.8,2463.4 L1384.6,2463.0 L1385.4,2462.6 L1386.2,2462.6 L1387.0,2462.7 L1387.8,2462.9 L1388.6,2462.9 L1389.4,2462.9 L1390.2,2463.0 L1391.0,2463.3 L1391.8,2463.6 L1392.6,2463.7 L1393.4,2463.6 L1394.2,2463.2 L1395.0,2462.7 L1395.8,2462.5 L1396.6,2462.7 L1397.4,2463.3 L1398.2,2463.7 L1399.0,2464.0 L1399.8,2464.1 L1400.6,2464.0 L1401.4,2463.8 L1402.2,2463.5 L1403.0,2463.0 L1403.8,2462.7 L1404.6,2462.7 L1405.4,2463.0 L1406.2,2463.2 L1407.0,2463.1 L1407.8,2462.7 L1408.6,2462.2 L1409.4,2461.9 L1410.2,2462.0 L1411.0,2462.4 L1411.8,2463.0 L1412.6,2463.5 L1413.4,2463.7 L1414.2,2463.7 L1415.0,2463.3 L1415.8,2462.6 L1416.6,2462.0 L1417.4,2462.0 L1418.2,2462.6 L1419.0,2463.3 L1419.8,2463.8 L1420.6,2464.0 L1421.4,2463.9 L1422.2,2463.8 L1423.0,2463.6 L1423.8,2463.4 L1424.6,2463.4 L1425.4,2463.6 L1426.2,2463.8 L1427.0,2463.9 L1427.8,2463.8 L1428.6,2463.3 L1429.4,2462.8 L1430.2,2463.0 L1431.0,2463.5 L1431.8,2463.9 L1432.6,2464.1 L1433.4,2464.1 L1434.2,2463.9 L1435.0,2463.7 L1435.8,2463.2 L1436.6,2462.6 L1437.4,2462.1 L1438.2,2461.8 L1439.0,2461.7 L1439.8,2461.7 L1440.6,2461.7 L1441.4,2461.8 L1442.2,2462.0 L1443.0,2462.0 L1443.8,2461.9 L1444.6,2462.0 L1445.4,2462.1 L1446.2,2462.2 L1447.0,2462.0 L1447.8,2461.9 L1448.6,2462.0 L1449.4,2462.4 L1450.2,2463.0 L1451.0,2463.5 L1451.8,2463.8 L1452.6,2464.0 L1453.4,2463.9 L1454.2,2463.6 L1455.0,2463.0 L1455.8,2462.4 L1456.6,2462.2 L1457.4,2462.6 L1458.2,2463.2 L1459.0,2463.7 L1459.8,2464.0 L1460.6,2464.0 L1461.4,2463.9 L1462.2,2463.7 L1463.0,2463.5 L1463.8,2463.4 L1464.6,2463.4 L1465.4,2463.6 L1466.2,2463.8 L1467.0,2463.9 L1467.8,2464.0 L1467.8,2464.1 Z" fill="#c573bd" stroke="none" stroke-width="1"/>
<line x1="869.5" y1="2464.1" x2="1493.7" y2="2464.1" stroke="#222" stroke-width="1.6"/>
<rect x="1160.3" y="1894" width="49.9" height="180.6" fill="rgb(189,225,233)" fill-opacity="0.5"/>
<rect x="1260.6" y="1894" width="50.0" height="180.6" fill="rgb(189,225,233)" fill-opacity="0.5"/>
<text x="1201.0" y="2501.3" font-size="26" text-anchor="middle"><tspan font-style="italic">RCL1</tspan></text>
<rect x="913.2" y="2509.7" width="157.6" height="10.7" fill="#1f2d5c"/>
<line x1="1070.8" y1="2515.3" x2="1465.4" y2="2515.3" stroke="#2b3a70" stroke-width="1.6"/>
<line x1="1074.0" y1="2510.0" x2="1074.0" y2="2520.5" stroke="#2b3a70" stroke-width="2"/>
<rect x="1345.6" y="2509.5" width="2.8" height="11.5" fill="#1f2d5c"/>
<path d="M1080.0,2511.3 L1076.0,2515.3 L1080.0,2519.3 M1106.9,2511.3 L1102.9,2515.3 L1106.9,2519.3 M1133.8,2511.3 L1129.8,2515.3 L1133.8,2519.3 M1160.7,2511.3 L1156.7,2515.3 L1160.7,2519.3 M1187.6,2511.3 L1183.6,2515.3 L1187.6,2519.3 M1214.5,2511.3 L1210.5,2515.3 L1214.5,2519.3 M1241.4,2511.3 L1237.4,2515.3 L1241.4,2519.3 M1268.3,2511.3 L1264.3,2515.3 L1268.3,2519.3 M1295.2,2511.3 L1291.2,2515.3 L1295.2,2519.3 M1322.1,2511.3 L1318.1,2515.3 L1322.1,2519.3 M1349.0,2511.3 L1345.0,2515.3 L1349.0,2519.3 M1375.9,2511.3 L1371.9,2515.3 L1375.9,2519.3 M1402.8,2511.3 L1398.8,2515.3 L1402.8,2519.3 M1429.7,2511.3 L1425.7,2515.3 L1429.7,2519.3 M1456.6,2511.3 L1452.6,2515.3 L1456.6,2519.3 " fill="none" stroke="#2b3a70" stroke-width="1.4"/>
<line x1="869.5" y1="2539.7" x2="1493.7" y2="2539.7" stroke="#222" stroke-width="1.6"/>
<line x1="889.9" y1="2539.7" x2="889.9" y2="2552.5" stroke="#222" stroke-width="1.6"/>
<text x="889.9" y="2578.2" font-size="24.3" text-anchor="middle">78975000</text>
<line x1="1024.8" y1="2539.7" x2="1024.8" y2="2552.5" stroke="#222" stroke-width="1.6"/>
<text x="1024.8" y="2578.2" font-size="24.3" text-anchor="middle">78980000</text>
<line x1="1159.1" y1="2539.7" x2="1159.1" y2="2552.5" stroke="#222" stroke-width="1.6"/>
<text x="1159.1" y="2578.2" font-size="24.3" text-anchor="middle">78985000</text>
<line x1="1293.8" y1="2539.7" x2="1293.8" y2="2552.5" stroke="#222" stroke-width="1.6"/>
<text x="1293.8" y="2578.2" font-size="24.3" text-anchor="middle">78990000</text>
<line x1="1428.7" y1="2539.7" x2="1428.7" y2="2552.5" stroke="#222" stroke-width="1.6"/>
<text x="1428.7" y="2578.2" font-size="24.3" text-anchor="middle">78995000</text>
<text x="745.4" y="2577.0" font-size="25.8">Chr 15</text>
<text x="1535.4" y="1943.0" font-size="37" font-weight="bold" stroke="#000" stroke-width="0.9">l</text>
<text x="1887.3" y="1989.5" font-size="25.5" text-anchor="middle"><tspan font-style="italic">NEUROG1</tspan></text>
<line x1="1646.0" y1="2047.0" x2="1646.0" y2="2402.4" stroke="#000" stroke-width="1.6"/>
<line x1="1645.2" y1="2401.6" x2="2128.7" y2="2401.6" stroke="#000" stroke-width="1.6"/>
<line x1="1633.9" y1="2386.2" x2="1646.0" y2="2386.2" stroke="#000" stroke-width="1.6"/>
<text x="1621.0" y="2394.2" font-size="23" text-anchor="end">0</text>
<line x1="1633.9" y1="2318.9" x2="1646.0" y2="2318.9" stroke="#000" stroke-width="1.6"/>
<text x="1621.0" y="2326.9" font-size="23" text-anchor="end">2.5</text>
<line x1="1633.9" y1="2251.6" x2="1646.0" y2="2251.6" stroke="#000" stroke-width="1.6"/>
<text x="1621.0" y="2259.6" font-size="23" text-anchor="end">5.0</text>
<line x1="1633.9" y1="2184.3" x2="1646.0" y2="2184.3" stroke="#000" stroke-width="1.6"/>
<text x="1621.0" y="2192.3" font-size="23" text-anchor="end">7.5</text>
<line x1="1633.9" y1="2117.0" x2="1646.0" y2="2117.0" stroke="#000" stroke-width="1.6"/>
<text x="1621.0" y="2125.0" font-size="23" text-anchor="end">10.0</text>
<line x1="1633.9" y1="2049.7" x2="1646.0" y2="2049.7" stroke="#000" stroke-width="1.6"/>
<text x="1621.0" y="2057.7" font-size="23" text-anchor="end">12.5</text>
<line x1="1692.6" y1="2401.6" x2="1692.6" y2="2414.5" stroke="#000" stroke-width="1.6"/>
<text x="1692.6" y="2443.8" font-size="22" text-anchor="middle">PFC</text>
<line x1="1770.2" y1="2401.6" x2="1770.2" y2="2414.5" stroke="#000" stroke-width="1.6"/>
<text x="1770.2" y="2443.8" font-size="22" text-anchor="middle">VIS</text>
<line x1="1848.0" y1="2401.6" x2="1848.0" y2="2414.5" stroke="#000" stroke-width="1.6"/>
<text x="1848.0" y="2443.8" font-size="22" text-anchor="middle">PFC</text>
<line x1="1925.9" y1="2401.6" x2="1925.9" y2="2414.5" stroke="#000" stroke-width="1.6"/>
<text x="1925.9" y="2443.8" font-size="22" text-anchor="middle">VIS</text>
<line x1="2003.4" y1="2401.6" x2="2003.4" y2="2414.5" stroke="#000" stroke-width="1.6"/>
<text x="2003.4" y="2443.8" font-size="22" text-anchor="middle">PFC</text>
<line x1="2080.9" y1="2401.6" x2="2080.9" y2="2414.5" stroke="#000" stroke-width="1.6"/>
<text x="2080.9" y="2443.8" font-size="22" text-anchor="middle">VIS</text>
<text x="1732.5" y="2486.3" font-size="25.5" text-anchor="middle">L2–L3 IT_</text>
<text x="1732.5" y="2518.3" font-size="25.5" text-anchor="middle"><tspan font-style="italic">CUX2</tspan></text>
<text x="1890.0" y="2486.3" font-size="25.5" text-anchor="middle">L2–L4 IT_</text>
<text x="1890.0" y="2518.3" font-size="25.5" text-anchor="middle"><tspan font-style="italic">CUX2.RORB</tspan></text>
<text x="2045.0" y="2486.3" font-size="25.5" text-anchor="middle">L3–L5/L6</text>
<text x="2045.0" y="2518.3" font-size="25.5" text-anchor="middle">IT_<tspan font-style="italic">RORB</tspan></text>
<text x="1556.0" y="2225.3" font-size="28.3" text-anchor="middle" transform="rotate(-90 1556.0 2225.3)">Enrichment</text>
<path d="M1706.56,2386.20 C1707.91,2385.71 1711.76,2384.67 1714.64,2383.26 C1717.52,2381.85 1721.74,2379.90 1723.82,2377.75 C1725.91,2375.61 1726.52,2373.77 1727.13,2370.41 C1727.74,2367.04 1727.62,2360.92 1727.50,2357.55 C1727.38,2354.19 1727.31,2352.35 1726.40,2350.21 C1725.48,2348.07 1723.52,2346.66 1721.99,2344.70 C1720.46,2342.74 1718.44,2340.60 1717.21,2338.46 C1715.99,2336.31 1715.25,2333.87 1714.64,2331.85 C1714.03,2329.83 1714.15,2328.17 1713.54,2326.34 C1712.93,2324.50 1711.70,2322.36 1710.97,2320.83 C1710.23,2319.30 1710.05,2318.99 1709.13,2317.16 C1708.21,2315.32 1706.68,2312.26 1705.46,2309.81 C1704.23,2307.36 1702.89,2305.53 1701.78,2302.47 C1700.68,2299.40 1699.64,2295.12 1698.84,2291.45 C1698.05,2287.77 1697.68,2284.71 1697.01,2280.43 C1696.33,2276.15 1695.39,2270.57 1694.80,2265.74 C1694.22,2260.90 1693.79,2257.54 1693.52,2251.42 C1693.24,2245.30 1693.24,2242.23 1693.15,2229.01 C1693.06,2215.79 1693.00,2181.58 1692.97,2172.09 L1692.23,2172.09 C1692.20,2181.58 1692.14,2215.79 1692.05,2229.01 C1691.96,2242.23 1691.96,2245.30 1691.68,2251.42 C1691.41,2257.54 1690.98,2260.90 1690.40,2265.74 C1689.81,2270.57 1688.87,2276.15 1688.19,2280.43 C1687.52,2284.71 1687.15,2287.77 1686.36,2291.45 C1685.56,2295.12 1684.52,2299.40 1683.42,2302.47 C1682.31,2305.53 1680.97,2307.36 1679.74,2309.81 C1678.52,2312.26 1676.99,2315.32 1676.07,2317.16 C1675.15,2318.99 1674.97,2319.30 1674.23,2320.83 C1673.50,2322.36 1672.27,2324.50 1671.66,2326.34 C1671.05,2328.17 1671.17,2329.83 1670.56,2331.85 C1669.95,2333.87 1669.21,2336.31 1667.99,2338.46 C1666.76,2340.60 1664.74,2342.74 1663.21,2344.70 C1661.68,2346.66 1659.72,2348.07 1658.80,2350.21 C1657.89,2352.35 1657.82,2354.19 1657.70,2357.55 C1657.58,2360.92 1657.46,2367.04 1658.07,2370.41 C1658.68,2373.77 1659.29,2375.61 1661.38,2377.75 C1663.46,2379.90 1667.68,2381.85 1670.56,2383.26 C1673.44,2384.67 1677.29,2385.71 1678.64,2386.20 Z" fill="#95d1b7" stroke="#222" stroke-width="1.5" stroke-linejoin="round"/>
<path d="M1792.24,2386.20 C1793.47,2385.71 1797.38,2384.67 1799.59,2383.26 C1801.79,2381.85 1805.16,2379.59 1805.47,2377.75 C1805.77,2375.92 1803.14,2374.39 1801.42,2372.24 C1799.71,2370.10 1796.59,2367.35 1795.18,2364.90 C1793.77,2362.45 1793.77,2360.00 1792.98,2357.55 C1792.18,2355.11 1791.14,2352.53 1790.40,2350.21 C1789.67,2347.88 1789.49,2345.74 1788.57,2343.60 C1787.65,2341.46 1786.12,2339.93 1784.89,2337.35 C1783.67,2334.78 1782.45,2331.23 1781.22,2328.17 C1780.00,2325.11 1778.77,2322.66 1777.55,2318.99 C1776.32,2315.32 1774.79,2310.12 1773.87,2306.14 C1772.96,2302.16 1772.50,2298.79 1772.04,2295.12 C1771.58,2291.45 1771.36,2290.84 1771.12,2284.10 C1770.87,2277.37 1770.66,2259.62 1770.57,2254.72 L1769.83,2254.72 C1769.74,2259.62 1769.53,2277.37 1769.28,2284.10 C1769.04,2290.84 1768.82,2291.45 1768.36,2295.12 C1767.90,2298.79 1767.44,2302.16 1766.53,2306.14 C1765.61,2310.12 1764.08,2315.32 1762.85,2318.99 C1761.63,2322.66 1760.40,2325.11 1759.18,2328.17 C1757.95,2331.23 1756.73,2334.78 1755.51,2337.35 C1754.28,2339.93 1752.75,2341.46 1751.83,2343.60 C1750.91,2345.74 1750.73,2347.88 1750.00,2350.21 C1749.26,2352.53 1748.22,2355.11 1747.42,2357.55 C1746.63,2360.00 1746.63,2362.45 1745.22,2364.90 C1743.81,2367.35 1740.69,2370.10 1738.98,2372.24 C1737.26,2374.39 1734.63,2375.92 1734.93,2377.75 C1735.24,2379.59 1738.61,2381.85 1740.81,2383.26 C1743.02,2384.67 1746.93,2385.71 1748.16,2386.20 Z" fill="#c6e1b5" stroke="#222" stroke-width="1.5" stroke-linejoin="round"/>
<path d="M1857.55,2384.00 C1858.41,2382.65 1860.49,2379.10 1862.69,2375.92 C1864.90,2372.73 1868.33,2368.57 1870.78,2364.90 C1873.22,2361.23 1875.67,2357.55 1877.39,2353.88 C1879.10,2350.21 1880.14,2346.54 1881.06,2342.86 C1881.98,2339.19 1882.78,2335.52 1882.90,2331.85 C1883.02,2328.17 1882.59,2325.72 1881.80,2320.83 C1881.00,2315.93 1878.98,2307.97 1878.12,2302.47 C1877.27,2296.96 1877.39,2292.06 1876.65,2287.77 C1875.92,2283.49 1874.69,2280.43 1873.71,2276.76 C1872.73,2273.08 1872.12,2270.64 1870.78,2265.74 C1869.43,2260.84 1867.10,2253.50 1865.63,2247.38 C1864.16,2241.26 1863.18,2235.13 1861.96,2229.01 C1860.73,2222.89 1859.39,2215.55 1858.29,2210.65 C1857.18,2205.75 1856.33,2204.53 1855.35,2199.63 C1854.37,2194.74 1853.33,2188.62 1852.41,2181.27 C1851.49,2173.92 1850.45,2165.97 1849.84,2155.56 C1849.22,2145.16 1848.98,2132.00 1848.73,2118.84 C1848.49,2105.68 1848.43,2083.64 1848.37,2076.60 L1847.63,2076.60 C1847.57,2083.64 1847.51,2105.68 1847.27,2118.84 C1847.02,2132.00 1846.78,2145.16 1846.16,2155.56 C1845.55,2165.97 1844.51,2173.92 1843.59,2181.27 C1842.67,2188.62 1841.63,2194.74 1840.65,2199.63 C1839.67,2204.53 1838.82,2205.75 1837.71,2210.65 C1836.61,2215.55 1835.27,2222.89 1834.04,2229.01 C1832.82,2235.13 1831.84,2241.26 1830.37,2247.38 C1828.90,2253.50 1826.57,2260.84 1825.22,2265.74 C1823.88,2270.64 1823.27,2273.08 1822.29,2276.76 C1821.31,2280.43 1820.08,2283.49 1819.35,2287.77 C1818.61,2292.06 1818.73,2296.96 1817.88,2302.47 C1817.02,2307.97 1815.00,2315.93 1814.20,2320.83 C1813.41,2325.72 1812.98,2328.17 1813.10,2331.85 C1813.22,2335.52 1814.02,2339.19 1814.94,2342.86 C1815.86,2346.54 1816.90,2350.21 1818.61,2353.88 C1820.33,2357.55 1822.78,2361.23 1825.22,2364.90 C1827.67,2368.57 1831.10,2372.73 1833.31,2375.92 C1835.51,2379.10 1837.59,2382.65 1838.45,2384.00 Z" fill="#f2a6bb" stroke="#222" stroke-width="1.5" stroke-linejoin="round"/>
<path d="M1953.45,2385.47 C1954.37,2384.79 1957.68,2382.71 1958.96,2381.43 C1960.25,2380.14 1961.47,2379.28 1961.17,2377.75 C1960.86,2376.22 1958.72,2374.39 1957.12,2372.24 C1955.53,2370.10 1953.27,2367.35 1951.61,2364.90 C1949.96,2362.45 1948.68,2360.00 1947.21,2357.55 C1945.74,2355.11 1943.90,2352.35 1942.80,2350.21 C1941.70,2348.07 1941.57,2347.15 1940.59,2344.70 C1939.61,2342.25 1938.15,2338.88 1936.92,2335.52 C1935.70,2332.15 1934.35,2328.17 1933.25,2324.50 C1932.14,2320.83 1931.23,2317.77 1930.31,2313.48 C1929.39,2309.20 1928.29,2303.69 1927.74,2298.79 C1927.19,2293.90 1927.22,2289.61 1927.00,2284.10 C1926.79,2278.59 1926.57,2271.98 1926.45,2265.74 C1926.33,2259.50 1926.30,2249.82 1926.27,2246.64 L1925.53,2246.64 C1925.50,2249.82 1925.47,2259.50 1925.35,2265.74 C1925.23,2271.98 1925.01,2278.59 1924.80,2284.10 C1924.58,2289.61 1924.61,2293.90 1924.06,2298.79 C1923.51,2303.69 1922.41,2309.20 1921.49,2313.48 C1920.57,2317.77 1919.66,2320.83 1918.55,2324.50 C1917.45,2328.17 1916.10,2332.15 1914.88,2335.52 C1913.65,2338.88 1912.19,2342.25 1911.21,2344.70 C1910.23,2347.15 1910.10,2348.07 1909.00,2350.21 C1907.90,2352.35 1906.06,2355.11 1904.59,2357.55 C1903.12,2360.00 1901.84,2362.45 1900.19,2364.90 C1898.53,2367.35 1896.27,2370.10 1894.68,2372.24 C1893.08,2374.39 1890.94,2376.22 1890.63,2377.75 C1890.33,2379.28 1891.55,2380.14 1892.84,2381.43 C1894.12,2382.71 1897.43,2384.79 1898.35,2385.47 Z" fill="#f6c4c9" stroke="#222" stroke-width="1.5" stroke-linejoin="round"/>
<path d="M2013.32,2386.20 C2014.42,2384.79 2017.79,2381.30 2019.93,2377.75 C2022.07,2374.20 2024.83,2368.27 2026.18,2364.90 C2027.52,2361.53 2027.22,2360.61 2028.01,2357.55 C2028.81,2354.49 2030.16,2350.51 2030.95,2346.54 C2031.75,2342.56 2031.87,2337.97 2032.79,2333.68 C2033.71,2329.40 2035.48,2325.42 2036.46,2320.83 C2037.44,2316.24 2038.54,2311.03 2038.67,2306.14 C2038.79,2301.24 2037.81,2297.57 2037.20,2291.45 C2036.58,2285.33 2036.34,2276.76 2034.99,2269.41 C2033.65,2262.07 2030.71,2254.11 2029.11,2247.38 C2027.52,2240.64 2026.36,2235.75 2025.44,2229.01 C2024.52,2222.28 2024.52,2213.10 2023.60,2206.98 C2022.69,2200.86 2021.58,2199.02 2019.93,2192.29 C2018.28,2185.55 2015.34,2173.92 2013.69,2166.58 C2012.03,2159.23 2011.24,2154.34 2010.01,2148.22 C2008.79,2142.10 2007.26,2136.59 2006.34,2129.85 C2005.42,2123.12 2004.93,2117.12 2004.50,2107.82 C2004.07,2098.51 2003.89,2079.66 2003.77,2074.03 L2003.03,2074.03 C2002.91,2079.66 2002.73,2098.51 2002.30,2107.82 C2001.87,2117.12 2001.38,2123.12 2000.46,2129.85 C1999.54,2136.59 1998.01,2142.10 1996.79,2148.22 C1995.56,2154.34 1994.77,2159.23 1993.11,2166.58 C1991.46,2173.92 1988.52,2185.55 1986.87,2192.29 C1985.22,2199.02 1984.11,2200.86 1983.20,2206.98 C1982.28,2213.10 1982.28,2222.28 1981.36,2229.01 C1980.44,2235.75 1979.28,2240.64 1977.69,2247.38 C1976.09,2254.11 1973.15,2262.07 1971.81,2269.41 C1970.46,2276.76 1970.22,2285.33 1969.60,2291.45 C1968.99,2297.57 1968.01,2301.24 1968.13,2306.14 C1968.26,2311.03 1969.36,2316.24 1970.34,2320.83 C1971.32,2325.42 1973.09,2329.40 1974.01,2333.68 C1974.93,2337.97 1975.05,2342.56 1975.85,2346.54 C1976.64,2350.51 1977.99,2354.49 1978.79,2357.55 C1979.58,2360.61 1979.28,2361.53 1980.62,2364.90 C1981.97,2368.27 1984.73,2374.20 1986.87,2377.75 C1989.01,2381.30 1992.38,2384.79 1993.48,2386.20 Z" fill="#a9cdee" stroke="#222" stroke-width="1.5" stroke-linejoin="round"/>
<path d="M2095.59,2386.20 C2097.74,2385.10 2105.27,2381.92 2108.45,2379.59 C2111.63,2377.26 2113.41,2374.69 2114.70,2372.24 C2115.98,2369.80 2116.10,2367.35 2116.17,2364.90 C2116.23,2362.45 2115.31,2360.00 2115.06,2357.55 C2114.82,2355.11 2114.88,2352.96 2114.70,2350.21 C2114.51,2347.45 2114.39,2344.70 2113.96,2341.03 C2113.53,2337.35 2112.86,2332.15 2112.12,2328.17 C2111.39,2324.19 2110.47,2320.22 2109.55,2317.16 C2108.63,2314.10 2107.72,2312.26 2106.61,2309.81 C2105.51,2307.36 2104.29,2306.14 2102.94,2302.47 C2101.59,2298.79 2099.76,2292.37 2098.53,2287.77 C2097.31,2283.18 2096.82,2279.21 2095.59,2274.92 C2094.37,2270.64 2092.72,2266.66 2091.19,2262.07 C2089.66,2257.48 2087.76,2252.27 2086.41,2247.38 C2085.06,2242.48 2083.84,2236.97 2083.10,2232.69 C2082.37,2228.40 2082.28,2228.40 2082.00,2221.67 C2081.73,2214.94 2081.57,2204.22 2081.45,2192.29 C2081.33,2180.35 2081.30,2157.09 2081.27,2150.05 L2080.53,2150.05 C2080.50,2157.09 2080.47,2180.35 2080.35,2192.29 C2080.23,2204.22 2080.07,2214.94 2079.80,2221.67 C2079.52,2228.40 2079.43,2228.40 2078.70,2232.69 C2077.96,2236.97 2076.74,2242.48 2075.39,2247.38 C2074.04,2252.27 2072.14,2257.48 2070.61,2262.07 C2069.08,2266.66 2067.43,2270.64 2066.21,2274.92 C2064.98,2279.21 2064.49,2283.18 2063.27,2287.77 C2062.04,2292.37 2060.21,2298.79 2058.86,2302.47 C2057.51,2306.14 2056.29,2307.36 2055.19,2309.81 C2054.08,2312.26 2053.17,2314.10 2052.25,2317.16 C2051.33,2320.22 2050.41,2324.19 2049.68,2328.17 C2048.94,2332.15 2048.27,2337.35 2047.84,2341.03 C2047.41,2344.70 2047.29,2347.45 2047.10,2350.21 C2046.92,2352.96 2046.98,2355.11 2046.74,2357.55 C2046.49,2360.00 2045.57,2362.45 2045.63,2364.90 C2045.70,2367.35 2045.82,2369.80 2047.10,2372.24 C2048.39,2374.69 2050.17,2377.26 2053.35,2379.59 C2056.53,2381.92 2064.06,2385.10 2066.21,2386.20 Z" fill="#b6dfe1" stroke="#222" stroke-width="1.5" stroke-linejoin="round"/>
<polyline points="1691.5,2163.6 1691.5,2150.7 1769.8,2150.7 1769.8,2163.6" fill="none" stroke="#222" stroke-width="1.5"/>
<polyline points="1847.0,2067.3 1847.0,2055.6 1925.0,2055.6 1925.0,2067.3" fill="none" stroke="#222" stroke-width="1.5"/>
<polyline points="2002.3,2063.7 2002.3,2051.5 2081.0,2051.5 2081.0,2063.7" fill="none" stroke="#222" stroke-width="1.5"/>
<text x="1738.5" y="2143.7" font-size="25.5" text-anchor="middle">2.2 × 10<tspan dy="-9" font-size="17">−16</tspan></text>
<text x="1894.0" y="2049.0" font-size="25.5" text-anchor="middle">2.2 × 10<tspan dy="-9" font-size="17">−16</tspan></text>
<text x="2049.0" y="2046.0" font-size="25.5" text-anchor="middle">2.2 × 10<tspan dy="-9" font-size="17">−16</tspan></text>
</svg>
</body></html>
